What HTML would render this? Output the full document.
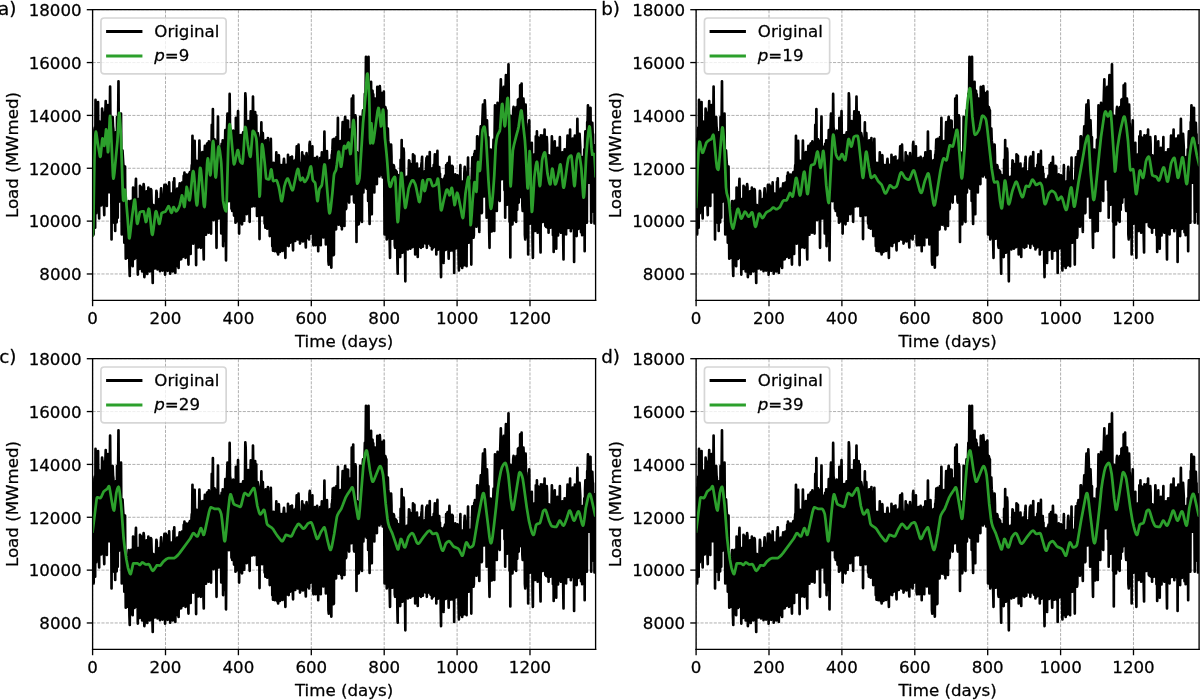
<!DOCTYPE html>
<html><head><meta charset="utf-8"><title>Figure</title>
<style>html,body{margin:0;padding:0;background:#fff;overflow:hidden}svg{display:block;font-family:"DejaVu Sans","Liberation Sans",sans-serif}svg text{stroke:#000;stroke-width:0.16px;stroke-linejoin:round}</style></head>
<body>
<svg  width="1200" height="700" viewBox="0 0 720 420">
 <defs>
  <style type="text/css">*{stroke-linejoin: round; stroke-linecap: butt}</style>
 </defs>
 <g id="figure_1">
  <g id="patch_1">
   <path d="M 0 420 L 720 420 L 720 0 L 0 0 z" style="fill: #ffffff"/>
  </g>
  <g id="axes_1">
   <g id="patch_2">
    <path d="M 55.56 180.24 L 357.36 180.24 L 357.36 5.82 L 55.56 5.82 z" style="fill: #ffffff"/>
   </g>
   <g id="FillBetweenPolyCollection_1">
    <g clip-path="url(#p01cf69598c)">
     <path d="M 55.56 -332.77 L 55.56 -287.35 L 56.43 -296.02 L 57.31 -299.18 L 58.18 -299.18 L 59.06 -300.75 L 59.93 -300.75 L 60.81 -301.71 L 61.68 -301.71 L 62.56 -301.71 L 63.43 -308.6 L 64.31 -308.6 L 65.18 -308.6 L 66.06 -308.6 L 66.93 -308.6 L 67.81 -290.25 L 68.68 -290.57 L 69.56 -293.38 L 70.43 -303.04 L 71.31 -303.04 L 72.18 -303.04 L 73.06 -303.04 L 73.93 -283.33 L 74.81 -283.33 L 75.68 -278.36 L 76.55 -269.2 L 77.43 -269.2 L 78.3 -269.2 L 79.18 -268.64 L 80.05 -269.11 L 80.93 -269.11 L 81.8 -269.11 L 82.68 -269.11 L 83.55 -262.59 L 84.43 -262.59 L 85.3 -262.59 L 86.18 -261.06 L 87.05 -261.06 L 87.93 -261.1 L 88.8 -261.1 L 89.68 -262.37 L 90.55 -262.37 L 91.43 -262.85 L 92.3 -262.85 L 93.18 -262.85 L 94.05 -262.85 L 94.93 -262.85 L 95.8 -262.32 L 96.67 -262.32 L 97.55 -261.63 L 98.42 -261.63 L 99.3 -261.63 L 100.17 -261.47 L 101.05 -261.47 L 101.92 -261.47 L 102.8 -261.47 L 103.67 -261.13 L 104.55 -264.09 L 105.42 -264.09 L 106.3 -264.09 L 107.17 -268.33 L 108.05 -269.85 L 108.92 -269.85 L 109.8 -269.85 L 110.67 -271.55 L 111.55 -271.55 L 112.42 -271.63 L 113.3 -271.63 L 114.17 -277.73 L 115.05 -277.73 L 115.92 -277.73 L 116.79 -277.73 L 117.67 -277.73 L 118.54 -275.56 L 119.42 -275.56 L 120.29 -276.51 L 121.17 -276.51 L 122.04 -283.12 L 122.92 -284.33 L 123.79 -284.33 L 124.67 -284.33 L 125.54 -284.33 L 126.42 -291.9 L 127.29 -291.9 L 128.17 -293.22 L 129.04 -293.22 L 129.92 -293.22 L 130.79 -292.9 L 131.67 -292.9 L 132.54 -292.9 L 133.42 -292.9 L 134.29 -283.91 L 135.17 -303.21 L 136.04 -303.21 L 136.91 -303.21 L 137.79 -303.21 L 138.66 -303.21 L 139.54 -303.21 L 140.41 -297.41 L 141.29 -294.6 L 142.16 -291.12 L 143.04 -291.12 L 143.91 -291.12 L 144.79 -291.58 L 145.66 -291.58 L 146.54 -295.49 L 147.41 -296.68 L 148.29 -296.68 L 149.16 -300.1 L 150.04 -300.1 L 150.91 -300.19 L 151.79 -300.19 L 152.66 -300.19 L 153.54 -300.19 L 154.41 -300.19 L 155.29 -294.87 L 156.16 -294.87 L 157.03 -294.87 L 157.91 -294.87 L 158.78 -294.87 L 159.66 -289.8 L 160.53 -287.35 L 161.41 -286.76 L 162.28 -286.76 L 163.16 -282.32 L 164.03 -282.32 L 164.91 -273.58 L 165.78 -273.25 L 166.66 -273.25 L 167.53 -273.4 L 168.41 -273.4 L 169.28 -275.15 L 170.16 -275.15 L 171.03 -276.64 L 171.91 -276.64 L 172.78 -278.35 L 173.66 -279.21 L 174.53 -279.21 L 175.41 -279.41 L 176.28 -279.41 L 177.15 -280.25 L 178.03 -280.25 L 178.9 -280.25 L 179.78 -280.25 L 180.65 -280.25 L 181.53 -279.51 L 182.4 -279.51 L 183.28 -281.21 L 184.15 -281.21 L 185.03 -283.7 L 185.9 -283.7 L 186.78 -283.7 L 187.65 -283.7 L 188.53 -283.7 L 189.4 -276.87 L 190.28 -276.87 L 191.15 -276.87 L 192.03 -281.49 L 192.9 -281.49 L 193.78 -281.49 L 194.65 -281.49 L 195.53 -281.49 L 196.4 -277.3 L 197.27 -277.3 L 198.15 -270.87 L 199.02 -270.87 L 199.9 -286.35 L 200.77 -286.35 L 201.65 -289.11 L 202.52 -289.11 L 203.4 -289.11 L 204.27 -289.11 L 205.15 -289.11 L 206.02 -298.41 L 206.9 -299.27 L 207.77 -303.11 L 208.65 -303.11 L 209.52 -307.43 L 210.4 -307.43 L 211.27 -307.43 L 212.15 -307.43 L 213.02 -307.43 L 213.9 -302.43 L 214.77 -292.22 L 215.65 -292.22 L 216.52 -308.47 L 217.39 -311.39 L 218.27 -311.39 L 219.14 -311.39 L 220.02 -311.39 L 220.89 -310.77 L 221.77 -303.44 L 222.64 -308.47 L 223.52 -308.47 L 224.39 -313.49 L 225.27 -313.49 L 226.14 -318.1 L 227.02 -318.92 L 227.89 -318.92 L 228.77 -318.92 L 229.64 -318.92 L 230.52 -317.51 L 231.39 -317.51 L 232.27 -283.33 L 233.14 -281.48 L 234.02 -281.48 L 234.89 -280.75 L 235.77 -280.75 L 236.64 -280.75 L 237.51 -280.75 L 238.39 -275.29 L 239.26 -269.9 L 240.14 -272.3 L 241.01 -275.08 L 241.89 -275.08 L 242.76 -275.08 L 243.64 -275.08 L 244.51 -274.78 L 245.39 -274.78 L 246.26 -275.7 L 247.14 -275.7 L 248.01 -275.7 L 248.89 -275.7 L 249.76 -275.7 L 250.64 -275.78 L 251.51 -275.78 L 252.39 -275.91 L 253.26 -277.87 L 254.14 -277.87 L 255.01 -277.87 L 255.89 -277.87 L 256.76 -277.87 L 257.63 -277.78 L 258.51 -277.78 L 259.38 -276.62 L 260.26 -275.68 L 261.13 -275.68 L 262.01 -275.68 L 262.88 -274.2 L 263.76 -274.2 L 264.63 -274.2 L 265.51 -274.05 L 266.38 -274.05 L 267.26 -276.42 L 268.13 -276.42 L 269.01 -276.42 L 269.88 -276.42 L 270.76 -273.61 L 271.63 -273.61 L 272.51 -274.94 L 273.38 -274.94 L 274.26 -274.94 L 275.13 -274.94 L 276.01 -270.6 L 276.88 -264.7 L 277.75 -264.7 L 278.63 -264.7 L 279.5 -278.34 L 280.38 -278.34 L 281.25 -278.34 L 282.13 -281.32 L 283 -281.32 L 283.88 -287.93 L 284.75 -287.93 L 285.63 -290.82 L 286.5 -290.82 L 287.38 -296.13 L 288.25 -296.4 L 289.13 -306.1 L 290 -306.1 L 290.88 -306.1 L 291.75 -306.1 L 292.63 -306.1 L 293.5 -293.38 L 294.38 -286 L 295.25 -285.34 L 296.13 -297.41 L 297 -297.41 L 297.87 -304.12 L 298.75 -304.12 L 299.62 -316.39 L 300.5 -316.39 L 301.37 -316.39 L 302.25 -316.39 L 303.12 -316.39 L 304 -301.1 L 304.87 -301.1 L 305.75 -301.1 L 306.62 -290.88 L 307.5 -291.79 L 308.37 -291.79 L 309.25 -298.05 L 310.12 -302.43 L 311 -305.55 L 311.87 -305.55 L 312.75 -305.55 L 313.62 -305.55 L 314.5 -297.41 L 315.37 -297.41 L 316.25 -289.76 L 317.12 -289.76 L 317.99 -289.76 L 318.87 -289.76 L 319.74 -289.76 L 320.62 -285.34 L 321.49 -285.34 L 322.37 -285.34 L 323.24 -285.34 L 324.12 -290.83 L 324.99 -290.83 L 325.87 -290.83 L 326.74 -290.83 L 327.62 -290.83 L 328.49 -287.85 L 329.37 -287.85 L 330.24 -287.31 L 331.12 -287.31 L 331.99 -287.31 L 332.87 -282.81 L 333.74 -282.65 L 334.62 -284.9 L 335.49 -284.9 L 336.37 -284.9 L 337.24 -284.9 L 338.11 -284.34 L 338.99 -287.19 L 339.86 -287.19 L 340.74 -287.19 L 341.61 -287.19 L 342.49 -287.19 L 343.36 -286.83 L 344.24 -286.83 L 345.11 -286.83 L 345.99 -286.69 L 346.86 -286.69 L 347.74 -286.69 L 348.61 -286.69 L 349.49 -284.66 L 350.36 -290.37 L 351.24 -290.37 L 352.11 -314.33 L 352.99 -314.33 L 353.86 -314.33 L 354.74 -314.33 L 355.61 -296.76 L 356.49 -296.76 L 357.36 -296.76 L 357.36 -327.32 L 357.36 -327.32 L 356.49 -327.32 L 355.61 -328.99 L 354.74 -335.74 L 353.86 -342.29 L 352.99 -337.31 L 352.11 -337.31 L 351.24 -321.88 L 350.36 -321.88 L 349.49 -321.88 L 348.61 -321.88 L 347.74 -321.88 L 346.86 -334.62 L 345.99 -334.62 L 345.11 -332.91 L 344.24 -332.91 L 343.36 -332.91 L 342.49 -332.91 L 341.61 -332.91 L 340.74 -326.38 L 339.86 -326.38 L 338.99 -324.69 L 338.11 -324.69 L 337.24 -324.69 L 336.37 -324.69 L 335.49 -324.69 L 334.62 -327.28 L 333.74 -327.28 L 332.87 -327.28 L 331.99 -329.08 L 331.12 -322.29 L 330.24 -322.29 L 329.37 -322.29 L 328.49 -322.86 L 327.62 -322.86 L 326.74 -333.74 L 325.87 -334.87 L 324.99 -333.43 L 324.12 -333.43 L 323.24 -333.43 L 322.37 -333.43 L 321.49 -323.23 L 320.62 -323.23 L 319.74 -323.23 L 318.87 -323.23 L 317.99 -330.39 L 317.12 -330.39 L 316.25 -336.81 L 315.37 -336.81 L 314.5 -353.26 L 313.62 -353.26 L 312.75 -356.73 L 311.87 -356.36 L 311 -351.8 L 310.12 -350.8 L 309.25 -350.8 L 308.37 -346.5 L 307.5 -346.5 L 306.62 -346.5 L 305.75 -346.5 L 304.87 -346.5 L 304 -363.87 L 303.12 -363.87 L 302.25 -362.31 L 301.37 -362.31 L 300.5 -353.34 L 299.62 -353.34 L 298.75 -352.85 L 297.87 -352.85 L 297 -332.28 L 296.13 -325.02 L 295.25 -325.02 L 294.38 -325.02 L 293.5 -326.24 L 292.63 -326.24 L 291.75 -333.74 L 290.88 -343.8 L 290 -340.28 L 289.13 -335.2 L 288.25 -331.93 L 287.38 -331.93 L 286.5 -325.42 L 285.63 -323.69 L 284.75 -321.68 L 283.88 -308.94 L 283 -307.7 L 282.13 -307.7 L 281.25 -307.7 L 280.38 -307.7 L 279.5 -312.59 L 278.63 -307.12 L 277.75 -307.12 L 276.88 -307.12 L 276.01 -307.12 L 275.13 -308.87 L 274.26 -308.87 L 273.38 -310.82 L 272.51 -310.82 L 271.63 -311.46 L 270.76 -316.03 L 269.88 -316.51 L 269.01 -316.51 L 268.13 -310.7 L 267.26 -308.85 L 266.38 -308.48 L 265.51 -308.48 L 264.63 -308.48 L 263.76 -308.48 L 262.88 -311.91 L 262.01 -315.84 L 261.13 -316.99 L 260.26 -314.93 L 259.38 -314.93 L 258.51 -314.93 L 257.63 -314.93 L 256.76 -321.19 L 255.89 -313.19 L 255.01 -313.19 L 254.14 -313.19 L 253.26 -313.19 L 252.39 -314.93 L 251.51 -314.93 L 250.64 -314.93 L 249.76 -314.93 L 248.89 -317.81 L 248.01 -317.64 L 247.14 -317.64 L 246.26 -317.64 L 245.39 -310 L 244.51 -308.34 L 243.64 -308.34 L 242.76 -308.34 L 241.89 -308.34 L 241.01 -311.03 L 240.14 -311.03 L 239.26 -311.03 L 238.39 -311.03 L 237.51 -311.03 L 236.64 -313.8 L 235.77 -313.86 L 234.89 -317.04 L 234.02 -322.05 L 233.14 -329.35 L 232.27 -330.22 L 231.39 -338.85 L 230.52 -350.83 L 229.64 -351.81 L 228.77 -360.4 L 227.89 -360.4 L 227.02 -356.87 L 226.14 -356.87 L 225.27 -356.87 L 224.39 -356.87 L 223.52 -356.87 L 222.64 -361.57 L 221.77 -366.92 L 220.89 -366.92 L 220.02 -359.75 L 219.14 -349.8 L 218.27 -346.01 L 217.39 -346.01 L 216.52 -324.06 L 215.65 -324.06 L 214.77 -324.06 L 213.9 -324.06 L 213.02 -324.79 L 212.15 -346.81 L 211.27 -338.48 L 210.4 -338.48 L 209.52 -338.48 L 208.65 -338.48 L 207.77 -343.49 L 206.9 -342.79 L 206.02 -331.41 L 205.15 -331.41 L 204.27 -331.41 L 203.4 -331.41 L 202.52 -331.41 L 201.65 -332.74 L 200.77 -332.3 L 199.9 -323.04 L 199.02 -319.98 L 198.15 -319.68 L 197.27 -319.68 L 196.4 -319.68 L 195.53 -319.68 L 194.65 -324.69 L 193.78 -321.2 L 192.9 -321.2 L 192.03 -317.92 L 191.15 -317.92 L 190.28 -317.92 L 189.4 -321.17 L 188.53 -321.17 L 187.65 -321.17 L 186.78 -321.17 L 185.9 -321.07 L 185.03 -321.07 L 184.15 -320.06 L 183.28 -320.06 L 182.4 -320.06 L 181.53 -318.43 L 180.65 -318.43 L 179.78 -318.43 L 178.9 -318.43 L 178.03 -319.64 L 177.15 -319.64 L 176.28 -319.64 L 175.41 -319.64 L 174.53 -319.64 L 173.66 -321.68 L 172.78 -317.08 L 171.91 -317.08 L 171.03 -317.08 L 170.16 -317.02 L 169.28 -317.02 L 168.41 -317.02 L 167.53 -317.02 L 166.66 -317.02 L 165.78 -318.33 L 164.91 -318.33 L 164.03 -318.33 L 163.16 -318.33 L 162.28 -318.33 L 161.41 -330.5 L 160.53 -330.5 L 159.66 -329.72 L 158.78 -329.72 L 157.91 -329.72 L 157.03 -329.72 L 156.16 -331.97 L 155.29 -331.97 L 154.41 -331.97 L 153.54 -336.18 L 152.66 -346.81 L 151.79 -348.82 L 150.91 -343.36 L 150.04 -343.36 L 149.16 -343.36 L 148.29 -343.36 L 147.41 -336.69 L 146.54 -335.02 L 145.66 -335.01 L 144.79 -334.77 L 143.91 -334.77 L 143.04 -334.77 L 142.16 -334.77 L 141.29 -337.69 L 140.41 -337.2 L 139.54 -337.2 L 138.66 -337.2 L 137.79 -337.2 L 136.91 -337.91 L 136.04 -337.91 L 135.17 -331.81 L 134.29 -329.72 L 133.42 -328.11 L 132.54 -328.11 L 131.67 -328.11 L 130.79 -328.11 L 129.92 -331.43 L 129.04 -331.43 L 128.17 -331.81 L 127.29 -328.08 L 126.42 -328.08 L 125.54 -328.08 L 124.67 -328.08 L 123.79 -328.58 L 122.92 -324.77 L 122.04 -319.92 L 121.17 -319.92 L 120.29 -319.6 L 119.42 -319.6 L 118.54 -319.6 L 117.67 -319.6 L 116.79 -319.6 L 115.92 -316.94 L 115.05 -312.74 L 114.17 -311.31 L 113.3 -311.31 L 112.42 -311.31 L 111.55 -311.31 L 110.67 -306.5 L 109.8 -305.98 L 108.92 -305.98 L 108.05 -302.95 L 107.17 -302.95 L 106.3 -300.73 L 105.42 -300.73 L 104.55 -299.88 L 103.67 -299.88 L 102.8 -299.88 L 101.92 -299.88 L 101.05 -299.88 L 100.17 -304.26 L 99.3 -298.32 L 98.42 -298.32 L 97.55 -298.32 L 96.67 -296.5 L 95.8 -296.5 L 94.93 -296.5 L 94.05 -292.94 L 93.18 -292.94 L 92.3 -292.94 L 91.43 -292.94 L 90.55 -292.94 L 89.68 -301.28 L 88.8 -301.28 L 87.93 -301.28 L 87.05 -301.28 L 86.18 -301.28 L 85.3 -302.98 L 84.43 -296.62 L 83.55 -296.62 L 82.68 -296.62 L 81.8 -296.62 L 80.93 -296.62 L 80.05 -295.51 L 79.18 -295.31 L 78.3 -295.31 L 77.43 -290.66 L 76.55 -290.66 L 75.68 -290.66 L 74.81 -290.66 L 73.93 -316.11 L 73.06 -318.35 L 72.18 -325.83 L 71.31 -345.81 L 70.43 -336.81 L 69.56 -336.81 L 68.68 -336.81 L 67.81 -336.81 L 66.93 -340.23 L 66.06 -345.81 L 65.18 -352.96 L 64.31 -352.96 L 63.43 -348.43 L 62.56 -348.43 L 61.68 -343 L 60.81 -343 L 59.93 -343 L 59.06 -343 L 58.18 -343 L 57.31 -332.77 L 56.43 -332.77 L 55.56 -332.77 z" transform="translate(0 420)"/>
    </g>
   </g>
   <g id="matplotlib.axis_1">
    <g id="xtick_1">
     <g id="line2d_1">
      <path d="M 55.56 180.24 L 55.56 5.82 " clip-path="url(#p01cf69598c)" style="fill: none; stroke-dasharray: 1.85,0.8; stroke-dashoffset: 0; stroke: #808080; stroke-opacity: 0.75; stroke-width: 0.5"/>
     </g>
     <g id="line2d_2">
      <g>
       <path d="M 0 0 L 0 3.5" transform="translate(55.56 180.24)" style="stroke: #000000; stroke-width: 0.8"/>
      </g>
     </g>
     <g id="text_1">
      <text style="font-size: 10px; font-family: 'DejaVu Sans', 'Liberation Sans', sans-serif; text-anchor: middle" x="55.56" y="194.488437" transform="rotate(-0 55.56 194.488437)">0</text>
     </g>
    </g>
    <g id="xtick_2">
     <g id="line2d_3">
      <path d="M 99.3 180.24 L 99.3 5.82 " clip-path="url(#p01cf69598c)" style="fill: none; stroke-dasharray: 1.85,0.8; stroke-dashoffset: 0; stroke: #808080; stroke-opacity: 0.75; stroke-width: 0.5"/>
     </g>
     <g id="line2d_4">
      <g>
       <path d="M 0 0 L 0 3.5" transform="translate(99.29913 180.24)" style="stroke: #000000; stroke-width: 0.8"/>
      </g>
     </g>
     <g id="text_2">
      <text style="font-size: 10px; font-family: 'DejaVu Sans', 'Liberation Sans', sans-serif; text-anchor: middle" x="99.29913" y="194.488437" transform="rotate(-0 99.29913 194.488437)">200</text>
     </g>
    </g>
    <g id="xtick_3">
     <g id="line2d_5">
      <path d="M 143.04 180.24 L 143.04 5.82 " clip-path="url(#p01cf69598c)" style="fill: none; stroke-dasharray: 1.85,0.8; stroke-dashoffset: 0; stroke: #808080; stroke-opacity: 0.75; stroke-width: 0.5"/>
     </g>
     <g id="line2d_6">
      <g>
       <path d="M 0 0 L 0 3.5" transform="translate(143.038261 180.24)" style="stroke: #000000; stroke-width: 0.8"/>
      </g>
     </g>
     <g id="text_3">
      <text style="font-size: 10px; font-family: 'DejaVu Sans', 'Liberation Sans', sans-serif; text-anchor: middle" x="143.038261" y="194.488437" transform="rotate(-0 143.038261 194.488437)">400</text>
     </g>
    </g>
    <g id="xtick_4">
     <g id="line2d_7">
      <path d="M 186.78 180.24 L 186.78 5.82 " clip-path="url(#p01cf69598c)" style="fill: none; stroke-dasharray: 1.85,0.8; stroke-dashoffset: 0; stroke: #808080; stroke-opacity: 0.75; stroke-width: 0.5"/>
     </g>
     <g id="line2d_8">
      <g>
       <path d="M 0 0 L 0 3.5" transform="translate(186.777391 180.24)" style="stroke: #000000; stroke-width: 0.8"/>
      </g>
     </g>
     <g id="text_4">
      <text style="font-size: 10px; font-family: 'DejaVu Sans', 'Liberation Sans', sans-serif; text-anchor: middle" x="186.777391" y="194.488437" transform="rotate(-0 186.777391 194.488437)">600</text>
     </g>
    </g>
    <g id="xtick_5">
     <g id="line2d_9">
      <path d="M 230.52 180.24 L 230.52 5.82 " clip-path="url(#p01cf69598c)" style="fill: none; stroke-dasharray: 1.85,0.8; stroke-dashoffset: 0; stroke: #808080; stroke-opacity: 0.75; stroke-width: 0.5"/>
     </g>
     <g id="line2d_10">
      <g>
       <path d="M 0 0 L 0 3.5" transform="translate(230.516522 180.24)" style="stroke: #000000; stroke-width: 0.8"/>
      </g>
     </g>
     <g id="text_5">
      <text style="font-size: 10px; font-family: 'DejaVu Sans', 'Liberation Sans', sans-serif; text-anchor: middle" x="230.516522" y="194.488437" transform="rotate(-0 230.516522 194.488437)">800</text>
     </g>
    </g>
    <g id="xtick_6">
     <g id="line2d_11">
      <path d="M 274.26 180.24 L 274.26 5.82 " clip-path="url(#p01cf69598c)" style="fill: none; stroke-dasharray: 1.85,0.8; stroke-dashoffset: 0; stroke: #808080; stroke-opacity: 0.75; stroke-width: 0.5"/>
     </g>
     <g id="line2d_12">
      <g>
       <path d="M 0 0 L 0 3.5" transform="translate(274.255652 180.24)" style="stroke: #000000; stroke-width: 0.8"/>
      </g>
     </g>
     <g id="text_6">
      <text style="font-size: 10px; font-family: 'DejaVu Sans', 'Liberation Sans', sans-serif; text-anchor: middle" x="274.255652" y="194.488437" transform="rotate(-0 274.255652 194.488437)">1000</text>
     </g>
    </g>
    <g id="xtick_7">
     <g id="line2d_13">
      <path d="M 317.99 180.24 L 317.99 5.82 " clip-path="url(#p01cf69598c)" style="fill: none; stroke-dasharray: 1.85,0.8; stroke-dashoffset: 0; stroke: #808080; stroke-opacity: 0.75; stroke-width: 0.5"/>
     </g>
     <g id="line2d_14">
      <g>
       <path d="M 0 0 L 0 3.5" transform="translate(317.994783 180.24)" style="stroke: #000000; stroke-width: 0.8"/>
      </g>
     </g>
     <g id="text_7">
      <text style="font-size: 10px; font-family: 'DejaVu Sans', 'Liberation Sans', sans-serif; text-anchor: middle" x="317.994783" y="194.488437" transform="rotate(-0 317.994783 194.488437)">1200</text>
     </g>
    </g>
    <g id="text_8">
     <text style="font-size: 10px; font-family: 'DejaVu Sans', 'Liberation Sans', sans-serif; text-anchor: middle" x="206.46" y="208.266562" transform="rotate(-0 206.46 208.266562)">Time (days)</text>
    </g>
   </g>
   <g id="matplotlib.axis_2">
    <g id="ytick_1">
     <g id="line2d_15">
      <path d="M 55.56 164.38 L 357.36 164.38 " clip-path="url(#p01cf69598c)" style="fill: none; stroke-dasharray: 1.85,0.8; stroke-dashoffset: 0; stroke: #808080; stroke-opacity: 0.75; stroke-width: 0.5"/>
     </g>
     <g id="line2d_16">
      <g>
       <path d="M 0 0 L -3.5 0" transform="translate(55.56 164.383636)" style="stroke: #000000; stroke-width: 0.8"/>
      </g>
     </g>
     <g id="text_9">
      <text style="font-size: 10px; font-family: 'DejaVu Sans', 'Liberation Sans', sans-serif; text-anchor: end" x="49.01" y="168.182855" transform="rotate(-0 49.01 168.182855)">8000</text>
     </g>
    </g>
    <g id="ytick_2">
     <g id="line2d_17">
      <path d="M 55.56 132.67 L 357.36 132.67 " clip-path="url(#p01cf69598c)" style="fill: none; stroke-dasharray: 1.85,0.8; stroke-dashoffset: 0; stroke: #808080; stroke-opacity: 0.75; stroke-width: 0.5"/>
     </g>
     <g id="line2d_18">
      <g>
       <path d="M 0 0 L -3.5 0" transform="translate(55.56 132.670909)" style="stroke: #000000; stroke-width: 0.8"/>
      </g>
     </g>
     <g id="text_10">
      <text style="font-size: 10px; font-family: 'DejaVu Sans', 'Liberation Sans', sans-serif; text-anchor: end" x="49.01" y="136.470128" transform="rotate(-0 49.01 136.470128)">10000</text>
     </g>
    </g>
    <g id="ytick_3">
     <g id="line2d_19">
      <path d="M 55.56 100.96 L 357.36 100.96 " clip-path="url(#p01cf69598c)" style="fill: none; stroke-dasharray: 1.85,0.8; stroke-dashoffset: 0; stroke: #808080; stroke-opacity: 0.75; stroke-width: 0.5"/>
     </g>
     <g id="line2d_20">
      <g>
       <path d="M 0 0 L -3.5 0" transform="translate(55.56 100.958182)" style="stroke: #000000; stroke-width: 0.8"/>
      </g>
     </g>
     <g id="text_11">
      <text style="font-size: 10px; font-family: 'DejaVu Sans', 'Liberation Sans', sans-serif; text-anchor: end" x="49.01" y="104.757401" transform="rotate(-0 49.01 104.757401)">12000</text>
     </g>
    </g>
    <g id="ytick_4">
     <g id="line2d_21">
      <path d="M 55.56 69.25 L 357.36 69.25 " clip-path="url(#p01cf69598c)" style="fill: none; stroke-dasharray: 1.85,0.8; stroke-dashoffset: 0; stroke: #808080; stroke-opacity: 0.75; stroke-width: 0.5"/>
     </g>
     <g id="line2d_22">
      <g>
       <path d="M 0 0 L -3.5 0" transform="translate(55.56 69.245455)" style="stroke: #000000; stroke-width: 0.8"/>
      </g>
     </g>
     <g id="text_12">
      <text style="font-size: 10px; font-family: 'DejaVu Sans', 'Liberation Sans', sans-serif; text-anchor: end" x="49.01" y="73.044673" transform="rotate(-0 49.01 73.044673)">14000</text>
     </g>
    </g>
    <g id="ytick_5">
     <g id="line2d_23">
      <path d="M 55.56 37.53 L 357.36 37.53 " clip-path="url(#p01cf69598c)" style="fill: none; stroke-dasharray: 1.85,0.8; stroke-dashoffset: 0; stroke: #808080; stroke-opacity: 0.75; stroke-width: 0.5"/>
     </g>
     <g id="line2d_24">
      <g>
       <path d="M 0 0 L -3.5 0" transform="translate(55.56 37.532727)" style="stroke: #000000; stroke-width: 0.8"/>
      </g>
     </g>
     <g id="text_13">
      <text style="font-size: 10px; font-family: 'DejaVu Sans', 'Liberation Sans', sans-serif; text-anchor: end" x="49.01" y="41.331946" transform="rotate(-0 49.01 41.331946)">16000</text>
     </g>
    </g>
    <g id="ytick_6">
     <g id="line2d_25">
      <path d="M 55.56 5.82 L 357.36 5.82 " clip-path="url(#p01cf69598c)" style="fill: none; stroke-dasharray: 1.85,0.8; stroke-dashoffset: 0; stroke: #808080; stroke-opacity: 0.75; stroke-width: 0.5"/>
     </g>
     <g id="line2d_26">
      <g>
       <path d="M 0 0 L -3.5 0" transform="translate(55.56 5.82)" style="stroke: #000000; stroke-width: 0.8"/>
      </g>
     </g>
     <g id="text_14">
      <text style="font-size: 10px; font-family: 'DejaVu Sans', 'Liberation Sans', sans-serif; text-anchor: end" x="49.01" y="9.619219" transform="rotate(-0 49.01 9.619219)">18000</text>
     </g>
    </g>
    <g id="text_15">
     <text style="font-size: 10px; font-family: 'DejaVu Sans', 'Liberation Sans', sans-serif; text-anchor: middle" x="10.667812" y="93.03" transform="rotate(-90 10.667812 93.03)">Load (MWmed)</text>
    </g>
   </g>
   <g id="line2d_27">
    <path d="M 55.56 83.27 L 55.78 84.02 L 56.22 140.63 L 56.43 89.4 L 56.65 77.88 L 56.87 76.62 L 57.09 136.61 L 57.31 59.97 L 57.53 105.74 L 57.75 127.95 L 57.97 75.43 L 58.18 62.28 L 58.4 69.13 L 58.62 67.29 L 58.84 61.18 L 59.28 124.79 L 59.5 131.08 L 59.72 73.53 L 59.93 73.04 L 60.37 76.32 L 60.81 123.22 L 61.03 82.43 L 61.25 65.2 L 61.46 67.59 L 61.68 76.9 L 61.9 67.6 L 62.34 122.25 L 62.56 129.07 L 62.78 74.33 L 63 73.68 L 63.43 60.68 L 63.87 122.86 L 64.09 123.54 L 64.31 75.4 L 64.53 73.96 L 64.75 63.07 L 64.96 74.77 L 65.4 115.37 L 65.62 78.3 L 65.84 74.91 L 66.06 51.93 L 66.28 75.97 L 66.49 76.16 L 66.71 100 L 66.93 143.65 L 67.15 81.76 L 67.59 70.23 L 67.81 75.8 L 68.03 77.69 L 68.46 133.71 L 68.68 87.26 L 68.9 84.12 L 69.12 138.62 L 69.34 82.39 L 69.56 79.23 L 69.99 133.39 L 70.21 70.23 L 70.43 73.02 L 70.65 130.58 L 70.87 72.56 L 71.09 48.81 L 71.52 120.93 L 71.74 78.38 L 72.18 72.14 L 72.4 75.12 L 72.62 68.22 L 73.06 140.63 L 73.27 91.98 L 73.49 90.21 L 73.93 97.69 L 74.15 100.22 L 74.59 145.6 L 75.02 99.93 L 75.46 155.21 L 75.68 125.52 L 76.12 154.77 L 76.34 130.18 L 76.55 125.46 L 76.77 125.38 L 76.99 124.3 L 77.21 120.72 L 77.65 159.82 L 77.87 165.57 L 78.09 125.2 L 78.3 123.39 L 78.52 124.08 L 78.74 120.53 L 79.18 159.18 L 79.4 126.92 L 79.62 159.74 L 79.84 112.48 L 80.05 115.43 L 80.27 115.65 L 80.71 155.32 L 80.93 123.81 L 81.58 107.25 L 82.24 154.86 L 82.46 123.99 L 82.68 164.77 L 82.9 119.41 L 83.12 121.97 L 83.33 121.57 L 83.77 161.37 L 83.99 111.48 L 84.21 115.66 L 84.43 112.03 L 84.65 119.34 L 84.87 116.4 L 85.3 162.91 L 85.52 124.21 L 85.96 113.05 L 86.18 110.47 L 86.4 112.33 L 86.61 166.27 L 86.83 164.08 L 87.05 129.2 L 87.49 122.12 L 87.71 122.68 L 87.93 114.76 L 88.36 164.37 L 88.58 126.97 L 88.8 122.02 L 89.02 112.48 L 89.24 122.56 L 89.46 120.68 L 89.9 162.86 L 90.11 125.47 L 90.55 113.49 L 90.77 114.02 L 90.99 121.59 L 91.43 161.59 L 91.64 169.79 L 91.86 123.86 L 92.08 123.09 L 92.3 126.81 L 92.52 124.3 L 92.96 161.11 L 93.18 126.29 L 93.39 125.09 L 93.61 122.75 L 93.83 114.49 L 94.05 115.83 L 94.49 161.64 L 94.71 126.22 L 94.93 121.46 L 95.14 121.56 L 95.36 121.22 L 95.58 119.53 L 96.02 162.75 L 96.24 124.98 L 96.46 116.44 L 96.67 112.98 L 96.89 116.56 L 97.11 117.72 L 97.55 162.34 L 97.77 121.89 L 97.99 118.79 L 98.21 119.38 L 98.42 118.37 L 98.64 110.97 L 99.08 164.77 L 99.3 122.96 L 99.52 110.96 L 99.74 116.45 L 99.96 116.93 L 100.17 111.78 L 100.61 162.49 L 100.83 122.73 L 101.05 116.56 L 101.27 119.21 L 101.49 109.47 L 101.7 118.78 L 102.14 164.26 L 102.36 122.65 L 102.8 116.16 L 103.02 117.27 L 103.24 120.45 L 103.67 162.84 L 103.89 123.47 L 104.11 109.06 L 104.33 118.73 L 104.55 106.95 L 104.77 118.16 L 105.2 163.76 L 105.42 121.3 L 105.64 116.53 L 105.86 115.31 L 106.08 116.61 L 106.3 113.09 L 106.73 159.87 L 106.95 118.19 L 107.17 160.74 L 107.39 114.87 L 107.83 110.05 L 108.27 155.64 L 108.48 116.18 L 108.7 155.52 L 108.92 110.22 L 109.14 109.54 L 109.36 112.37 L 109.8 154.11 L 110.02 114.51 L 110.23 105.44 L 110.45 111.34 L 110.67 103.57 L 110.89 109.12 L 111.33 154.72 L 111.55 113.09 L 111.76 105.39 L 111.98 104.73 L 112.2 106.87 L 112.42 105.9 L 112.86 152.42 L 113.08 158.73 L 113.3 104.93 L 113.51 104.27 L 113.73 104.21 L 113.95 103.29 L 114.39 152.34 L 114.61 107.49 L 115.05 99.09 L 115.26 100.31 L 115.48 81.49 L 115.7 126.79 L 115.92 146.23 L 116.14 103.61 L 116.36 84.61 L 116.58 98.52 L 116.79 84.47 L 117.01 97.31 L 117.67 159.03 L 117.89 98.02 L 118.11 96.44 L 118.33 99.71 L 118.54 99.01 L 118.98 148.4 L 119.2 102.08 L 119.42 97.18 L 119.64 84.3 L 119.86 96.12 L 120.08 99.58 L 120.51 148.69 L 120.73 105.92 L 120.95 98.07 L 121.17 99.25 L 121.39 91.27 L 121.61 99.34 L 122.04 147.45 L 122.26 155.72 L 122.48 94.33 L 122.7 94 L 122.92 87.46 L 123.14 95.48 L 123.57 140.85 L 123.79 95.77 L 124.23 86.32 L 124.45 85.97 L 124.67 90.8 L 125.11 139.63 L 125.32 84.81 L 125.54 87.96 L 125.76 88.29 L 125.98 88.11 L 126.2 88.09 L 126.64 140.13 L 126.85 93.51 L 127.07 74.86 L 127.29 88.23 L 127.51 86.04 L 127.73 65.4 L 128.17 132.06 L 128.39 92.78 L 128.6 83.42 L 128.82 87.31 L 129.04 84.22 L 129.26 84.6 L 129.92 148.68 L 130.14 88.64 L 130.57 87.33 L 130.79 69.93 L 131.23 131.06 L 131.45 93.55 L 131.67 87.92 L 131.88 89.65 L 132.1 90.19 L 132.32 91.26 L 132.76 140.05 L 132.98 86.32 L 133.2 94.19 L 133.42 92.35 L 133.63 84.23 L 133.85 147.67 L 134.07 119.81 L 134.29 144.58 L 134.51 98.3 L 134.73 90.67 L 134.95 87.72 L 135.17 78.12 L 135.38 83 L 135.6 156.22 L 135.82 130.16 L 136.04 83.13 L 136.48 68.22 L 136.91 75.04 L 137.35 120.75 L 137.79 56.35 L 138.01 76.35 L 138.45 78.83 L 138.88 125.17 L 139.1 83.49 L 139.32 126.56 L 139.54 81.15 L 139.76 80.05 L 139.98 78.34 L 140.41 129.36 L 140.63 87.89 L 140.85 79.75 L 141.07 83.57 L 141.29 133.6 L 141.51 70.63 L 141.94 132.84 L 142.16 86.89 L 142.38 83.8 L 142.6 82.49 L 142.82 66.71 L 143.26 110.4 L 143.48 140.13 L 143.69 90.26 L 143.91 81.27 L 144.13 84.23 L 144.35 84.38 L 144.57 81.02 L 145.01 134.06 L 145.23 134.6 L 145.44 81.01 L 145.66 81.76 L 145.88 79.35 L 146.1 81.9 L 146.54 132.38 L 146.76 84.62 L 146.97 78.97 L 147.19 55.95 L 147.41 59.13 L 147.63 76.23 L 148.07 128.47 L 148.29 80.82 L 148.51 74.19 L 148.94 72.68 L 149.16 74.63 L 149.6 127.28 L 149.82 133.09 L 150.04 76.74 L 150.26 75.12 L 150.47 66.76 L 150.69 75.7 L 151.13 123.87 L 151.35 80.15 L 151.57 77.01 L 151.79 57.96 L 152 74.23 L 152.22 76.06 L 152.66 123.77 L 152.88 82.07 L 153.1 67.22 L 153.32 76.19 L 153.54 78.34 L 153.75 69.22 L 154.19 129.57 L 154.41 85.51 L 154.63 79.86 L 155.29 84.07 L 155.5 105.73 L 155.72 143.45 L 155.94 90.84 L 156.38 84.12 L 156.6 86.2 L 156.82 73.45 L 157.25 129.1 L 157.47 90.11 L 157.69 79.79 L 157.91 86.31 L 158.13 88.93 L 158.35 89.59 L 158.78 134.16 L 159 93.92 L 159.22 136.61 L 159.44 84.21 L 159.66 92.54 L 159.88 93.09 L 160.32 137.21 L 160.53 98.51 L 160.75 82.87 L 160.97 93.56 L 161.19 97.87 L 161.41 85.54 L 161.85 141.64 L 162.06 101.04 L 162.28 97.76 L 162.5 83.3 L 162.72 97.16 L 162.94 98.57 L 163.38 147.77 L 163.6 105.08 L 163.81 150.39 L 164.03 97.71 L 164.25 100.87 L 164.47 98 L 164.91 150.71 L 165.13 106.89 L 165.35 97.65 L 165.56 101.17 L 165.78 91.34 L 166 101.77 L 166.44 151.43 L 166.66 105.43 L 166.88 152.7 L 167.09 93.82 L 167.31 93.12 L 167.53 99.22 L 167.97 151.22 L 168.19 106.89 L 168.41 101.08 L 168.63 99.02 L 168.84 100.08 L 169.06 99.34 L 169.5 150.56 L 169.72 107.21 L 169.94 100.32 L 170.38 95.36 L 170.59 98.79 L 171.03 148.81 L 171.25 154.71 L 171.47 101.66 L 171.69 100.76 L 171.91 98.95 L 172.12 101.73 L 172.56 147.32 L 172.78 92.85 L 173 100.92 L 173.22 147.67 L 173.44 98.27 L 173.66 99.02 L 174.09 145.61 L 174.31 94.36 L 174.53 98.82 L 174.75 100.8 L 174.97 99.88 L 175.19 93.89 L 175.62 144.76 L 175.84 150.19 L 176.06 100.19 L 176.28 100.25 L 176.5 97.23 L 176.72 96.4 L 177.15 144.55 L 177.37 101.96 L 177.59 96.02 L 177.81 94.24 L 178.03 87.82 L 178.25 92.05 L 178.69 143.71 L 178.9 100.61 L 179.12 86.82 L 179.34 95.49 L 179.56 98.88 L 179.78 97.61 L 180 146.16 L 180.22 144.45 L 180.44 103.96 L 180.65 99.51 L 180.87 101.92 L 181.09 100.94 L 181.31 91.34 L 181.75 144.92 L 181.97 105.16 L 182.18 93.44 L 182.62 101.55 L 182.84 101.04 L 183.28 144.51 L 183.5 148.48 L 183.72 95.98 L 183.93 91.85 L 184.37 97.88 L 184.81 142.76 L 185.03 101.41 L 185.25 94.97 L 185.47 143.65 L 185.68 86.99 L 185.9 85.11 L 186.34 140.26 L 186.56 97.33 L 186.78 94.48 L 187 95.14 L 187.21 92.77 L 187.43 87.82 L 187.87 145.97 L 188.09 147.17 L 188.31 96.51 L 188.75 96.2 L 188.96 94.86 L 189.4 147.09 L 189.62 103.7 L 189.84 100.78 L 190.06 99.8 L 190.28 94.15 L 190.5 98.12 L 190.93 150.69 L 191.15 104.29 L 191.37 100.92 L 191.59 100.3 L 191.81 100.24 L 192.03 94.84 L 192.46 147.17 L 192.68 102.77 L 193.12 91.34 L 193.34 95.95 L 193.56 97.83 L 193.99 142.48 L 194.21 104.42 L 194.43 99.37 L 194.65 78.98 L 194.87 97.82 L 195.09 100.86 L 195.53 146.67 L 195.74 106.67 L 195.96 103.25 L 196.18 90.64 L 196.4 99.15 L 196.62 100.51 L 197.06 156.67 L 197.27 158.73 L 197.49 97.03 L 197.71 96.35 L 197.93 97.64 L 198.15 96.05 L 198.59 156.86 L 198.81 160.54 L 199.02 93 L 199.24 92.43 L 199.46 89.64 L 199.68 83.74 L 200.12 153.1 L 200.34 152.7 L 200.56 83.3 L 200.77 88.25 L 200.99 85.91 L 201.21 89.42 L 201.65 137.62 L 201.87 82.29 L 202.3 86.74 L 202.52 86.91 L 202.74 70.73 L 202.96 114.46 L 203.18 134.86 L 203.4 92.11 L 203.62 87.12 L 203.84 85.97 L 204.05 85.68 L 204.27 84.62 L 204.71 135.62 L 204.93 85.57 L 205.15 137.62 L 205.37 79.88 L 205.59 73.24 L 205.8 75.83 L 206.24 134.36 L 206.46 83.32 L 206.68 135.61 L 206.9 72.34 L 207.12 70.03 L 207.33 76.89 L 207.55 125.55 L 207.77 124.7 L 207.99 84.89 L 208.21 72.42 L 208.43 79.8 L 208.87 72.54 L 209.3 120.85 L 209.52 121.53 L 209.74 84.07 L 209.96 84.65 L 210.18 82.51 L 210.4 77.55 L 210.83 116.53 L 211.05 59.17 L 211.27 66.99 L 211.49 68.12 L 211.71 65.75 L 211.93 57.36 L 212.36 120.47 L 212.58 121.53 L 212.8 71.87 L 213.02 73.3 L 213.24 69.22 L 213.46 70.57 L 213.9 145.16 L 214.11 91.24 L 214.55 93.61 L 214.77 96.59 L 214.99 91.97 L 215.21 134.6 L 215.43 132.97 L 215.65 96.06 L 215.86 90.25 L 216.08 70.03 L 216.3 89.96 L 216.52 73.65 L 216.96 131.75 L 217.18 133.09 L 217.39 75.1 L 217.61 69.14 L 217.83 66.24 L 218.05 115.5 L 218.27 87.13 L 218.49 112.58 L 218.71 64.43 L 218.93 56.29 L 219.14 56.54 L 219.36 56.28 L 219.58 34.03 L 220.02 113.19 L 220.24 60.75 L 220.46 55.3 L 220.68 57.99 L 220.89 120.53 L 221.11 34.03 L 221.55 123.28 L 221.77 134.4 L 221.99 54.44 L 222.42 58.95 L 222.64 49.11 L 223.08 128.57 L 223.3 70.63 L 223.52 54.46 L 223.74 66.36 L 223.96 56.55 L 224.17 69.2 L 224.61 115.5 L 224.83 72.24 L 225.05 59.17 L 225.27 64.82 L 225.71 61.34 L 226.14 110.47 L 226.36 52.13 L 226.58 60.37 L 227.02 57.92 L 227.24 61.71 L 227.67 105.86 L 227.89 51.63 L 228.11 55.05 L 228.33 62.77 L 228.55 65.31 L 228.77 55.64 L 229.2 105.04 L 229.42 69.53 L 229.64 106.45 L 229.86 68.13 L 230.08 67.2 L 230.3 54.95 L 230.74 140.63 L 230.95 78.22 L 231.17 64.23 L 231.39 65.2 L 231.61 71.94 L 231.83 66.21 L 232.05 143.65 L 232.27 142.48 L 232.48 86.77 L 232.7 77.19 L 232.92 84.1 L 233.14 85.81 L 233.36 90.46 L 233.8 145.11 L 234.02 154.71 L 234.23 90.87 L 234.45 86.69 L 234.67 86.82 L 234.89 93.98 L 235.33 143.21 L 235.55 104.17 L 235.77 100.55 L 235.98 98.99 L 236.2 99.2 L 236.42 99.81 L 236.86 147.15 L 237.08 148.68 L 237.3 102.17 L 237.51 102.24 L 237.73 104.61 L 237.95 102.94 L 238.39 154.06 L 238.61 164.26 L 238.83 105.01 L 239.26 108.01 L 239.48 105.51 L 239.92 153.52 L 240.14 154.21 L 240.36 95.88 L 240.58 106.08 L 240.8 105.81 L 241.01 84.02 L 241.23 131.96 L 241.45 151.66 L 241.67 112.62 L 241.89 105.95 L 242.11 89.1 L 242.33 91.42 L 243.2 168.79 L 243.42 109.74 L 243.64 107.7 L 243.86 108.73 L 244.08 106.03 L 244.51 148.91 L 244.73 149.68 L 244.95 106.42 L 245.17 104.85 L 245.39 96.19 L 245.61 96.58 L 246.04 148.31 L 246.26 149.18 L 246.48 98.4 L 246.7 98.62 L 246.92 99.17 L 247.14 99.23 L 247.57 148.27 L 247.79 92.56 L 248.01 94.05 L 248.23 101.09 L 248.45 98.25 L 248.67 93.57 L 249.11 152.7 L 249.32 105.92 L 249.54 100.38 L 249.76 100.24 L 249.98 102.15 L 250.2 98.22 L 250.64 154.21 L 250.86 112.86 L 251.07 106.43 L 251.29 106.18 L 251.51 105.31 L 251.73 101.11 L 252.17 148.18 L 252.39 110.03 L 252.6 148.68 L 252.82 98.73 L 253.04 97.03 L 253.26 94.07 L 253.7 148.05 L 253.92 108.72 L 254.14 104.67 L 254.35 106.06 L 254.79 102.85 L 255.23 146.09 L 255.45 107.16 L 255.67 98.28 L 255.89 94.85 L 256.1 148.68 L 256.32 93.95 L 256.76 146.18 L 256.98 105.09 L 257.2 99.69 L 257.42 99.52 L 257.63 101.99 L 257.85 91.26 L 258.29 147.35 L 258.51 108.92 L 258.73 101.1 L 258.95 101.22 L 259.17 149.68 L 259.38 101.36 L 259.82 148.66 L 260.04 105.95 L 260.26 99.04 L 260.48 98.68 L 260.7 99.28 L 260.92 92.56 L 261.35 148.29 L 261.57 105.33 L 261.79 152.7 L 262.01 99.6 L 262.23 101.85 L 262.45 90.55 L 262.88 149.76 L 263.1 110.28 L 263.32 107.51 L 263.54 100.19 L 263.76 106.18 L 263.98 104.13 L 264.41 153.59 L 264.63 166.27 L 264.85 107.55 L 265.07 110.41 L 265.29 110.73 L 265.51 109.12 L 265.95 155.6 L 266.16 157.73 L 266.38 107.19 L 266.6 108.72 L 267.04 105.34 L 267.48 149.92 L 267.69 99.1 L 267.91 104.63 L 268.13 104.63 L 268.57 97.8 L 269.01 147.55 L 269.23 155.21 L 269.44 105.34 L 269.66 94.07 L 269.88 102.88 L 270.1 105.65 L 270.54 150.35 L 270.76 111.21 L 271.19 99.53 L 271.41 106.45 L 271.63 100.01 L 272.07 150.77 L 272.29 111.35 L 272.51 163.76 L 272.72 107.88 L 273.16 104.57 L 273.6 149.02 L 273.82 110.15 L 274.04 107.21 L 274.26 107.1 L 274.47 105.22 L 274.69 108.14 L 275.13 153.36 L 275.35 162.25 L 275.57 108.59 L 275.79 107.17 L 276.01 108.34 L 276.22 99.1 L 276.66 159.66 L 276.88 114.97 L 277.1 110.43 L 277.32 160.74 L 277.54 108.92 L 277.75 112 L 278.19 159.27 L 278.41 113.58 L 278.63 103.44 L 278.85 100.1 L 279.07 103.07 L 279.29 103.44 L 279.72 159.27 L 279.94 159.74 L 280.16 107.29 L 280.38 107.73 L 280.6 109.66 L 280.82 94.57 L 281.25 145.62 L 281.47 110.92 L 281.69 111.12 L 281.91 109.18 L 282.35 108.34 L 282.57 125.36 L 282.78 158.73 L 283 107.09 L 283.44 94.36 L 283.66 101.23 L 283.88 97.52 L 284.1 142.65 L 284.32 140.99 L 284.53 92.35 L 284.75 95.95 L 284.97 90.62 L 285.19 95.51 L 285.41 95.58 L 285.85 136.04 L 286.07 98.35 L 286.28 81.79 L 286.5 81.75 L 286.72 90.78 L 286.94 87.99 L 287.38 133.14 L 287.6 139.13 L 287.81 84.25 L 288.03 84.11 L 288.25 80.84 L 288.47 75.76 L 288.91 127.84 L 289.13 127.56 L 289.35 74.86 L 289.78 62.69 L 290 66.37 L 290.44 117.86 L 290.66 76.35 L 290.88 60.17 L 291.1 65.43 L 291.31 76.1 L 291.53 75.47 L 291.97 130.58 L 292.19 72.24 L 292.63 85.42 L 292.84 85.28 L 293.06 82.29 L 293.5 137.96 L 293.72 148.68 L 293.94 99.71 L 294.16 97.18 L 294.38 89.79 L 294.59 95.88 L 295.03 138.89 L 295.25 103.07 L 295.47 91.34 L 295.69 92.93 L 295.91 91.02 L 296.13 83.76 L 296.56 138.62 L 296.78 79.55 L 297 63.19 L 297.22 65.59 L 297.44 69.39 L 297.66 66.98 L 298.09 126.56 L 298.31 74.55 L 298.53 61.68 L 298.75 67.85 L 298.97 66.63 L 299.19 66.25 L 299.62 119.84 L 299.84 120.53 L 300.06 62.7 L 300.5 47.61 L 300.72 60.59 L 301.16 107.57 L 301.37 61.53 L 301.59 55.84 L 301.81 53.73 L 302.03 53.9 L 302.25 52.16 L 302.69 114.08 L 302.9 57.32 L 303.12 130.58 L 303.34 52.11 L 303.56 45.09 L 303.78 49.06 L 304.22 122.87 L 304.44 59.74 L 304.65 54.18 L 304.87 55.5 L 305.09 38.56 L 305.53 89.34 L 305.75 133.08 L 305.97 70.39 L 306.19 154.51 L 306.4 69.54 L 306.62 77.75 L 306.84 80.21 L 307.28 131.67 L 307.5 134.6 L 307.72 76.5 L 307.93 66.07 L 308.15 64.08 L 308.37 68.63 L 308.81 132.17 L 309.03 74.47 L 309.25 65.75 L 309.47 65.24 L 309.68 133.09 L 309.9 64.23 L 310.34 125.91 L 310.56 70.12 L 310.78 59.78 L 311 59.67 L 311.22 121.53 L 311.43 59.3 L 311.87 118.41 L 312.09 51.13 L 312.31 55.11 L 312.53 51.12 L 312.75 58.21 L 312.96 50.12 L 313.4 123.45 L 313.62 126.56 L 313.84 61.34 L 314.06 59.17 L 314.28 63.36 L 314.5 63.96 L 314.93 140.89 L 315.15 143.65 L 315.37 62.77 L 315.59 73.54 L 315.81 74.31 L 316.03 79.23 L 316.46 142.16 L 316.68 90.04 L 316.9 152.7 L 317.12 82.02 L 317.34 85.87 L 317.56 72.24 L 317.99 134.2 L 318.21 93.85 L 318.43 91.75 L 318.65 86.32 L 318.87 91.72 L 319.09 85.65 L 319.53 144.54 L 319.74 154.71 L 319.96 95.55 L 320.18 96.1 L 320.4 92.8 L 320.62 94.26 L 321.06 138.62 L 321.49 81.82 L 321.71 93.85 L 321.93 91.86 L 322.15 78.77 L 322.59 139.59 L 322.81 98.88 L 323.02 82.61 L 323.24 90.4 L 323.46 92.88 L 323.68 89.33 L 324.12 141.36 L 324.34 151.49 L 324.56 81.17 L 324.77 89.73 L 324.99 89.54 L 325.21 90.76 L 325.65 133.14 L 325.87 93.72 L 326.09 81.1 L 326.31 91.38 L 326.52 88.64 L 326.74 77.77 L 327.18 135.51 L 327.4 95.6 L 327.62 136.11 L 327.84 88.64 L 328.05 82.29 L 328.27 86.4 L 328.71 136.84 L 328.93 96.06 L 329.15 139.63 L 329.37 93.18 L 329.8 94.1 L 330.24 136.66 L 330.46 100.84 L 330.68 94.05 L 330.9 95.45 L 331.12 81.79 L 331.34 86.96 L 331.77 141.15 L 331.99 98.27 L 332.21 151.19 L 332.43 94.75 L 332.65 92.23 L 332.87 84.81 L 333.3 147.43 L 333.52 102.16 L 333.74 149.18 L 333.96 96.78 L 334.18 93.85 L 334.4 88.76 L 334.83 141.32 L 335.05 100.96 L 335.27 96.91 L 335.71 94.03 L 335.93 82.29 L 336.37 139.07 L 336.58 139.63 L 336.8 95.39 L 337.02 94.07 L 337.24 97.84 L 337.46 91.34 L 337.9 142.31 L 338.11 155.72 L 338.33 96.16 L 338.55 97.87 L 338.77 89.66 L 338.99 98.16 L 339.43 140.23 L 339.65 140.63 L 339.86 92.95 L 340.08 89.34 L 340.3 89.57 L 340.52 81.29 L 340.96 136.78 L 341.18 91.34 L 341.4 88.58 L 341.61 136.61 L 341.83 86.9 L 342.05 77.77 L 342.49 138.71 L 342.71 93.35 L 342.93 85.53 L 343.14 87.02 L 343.36 86.63 L 343.58 83.12 L 344.02 137.13 L 344.24 95.67 L 344.46 157.22 L 344.68 92.53 L 344.89 81.42 L 345.11 91.91 L 345.55 138.71 L 345.77 95.73 L 345.99 141.64 L 346.21 86.09 L 346.43 71.23 L 346.64 86.66 L 347.08 137.28 L 347.3 91.4 L 347.74 80.28 L 348.17 88.37 L 348.61 139.3 L 348.83 98.04 L 349.05 96.1 L 349.27 141.14 L 349.49 94.42 L 349.71 94.15 L 350.14 138.26 L 350.36 97.59 L 350.58 89.62 L 350.8 150.69 L 351.02 84.84 L 351.24 78.73 L 351.67 132.85 L 351.89 80.97 L 352.11 133.6 L 352.33 73.18 L 352.55 74.22 L 352.77 63.19 L 352.99 96.19 L 353.2 109.64 L 353.42 75.74 L 353.64 68.59 L 353.86 69.24 L 354.08 64.68 L 354.3 64.7 L 354.74 133.6 L 354.95 83.72 L 355.17 76.34 L 355.39 73.75 L 355.61 80.3 L 355.83 80.45 L 356.27 127.21 L 356.49 87.04 L 356.7 134.1 L 356.92 88.72 L 357.14 89.61 L 357.36 92.54 L 357.36 92.54 " clip-path="url(#p01cf69598c)" style="fill: none; stroke: #000000; stroke-width: 1.6; stroke-linecap: square"/>
   </g>
   <g id="line2d_28">
    <path d="M 55.56 141.33 L 55.78 139.93 L 56 135.48 L 56.65 95.18 L 57.09 83.44 L 57.31 80.07 L 57.53 78.99 L 57.75 79.6 L 58.62 85.68 L 59.93 93.63 L 60.15 94.05 L 60.37 93.63 L 60.81 89.28 L 61.25 84.26 L 61.46 83.07 L 61.68 83.34 L 62.56 87.51 L 62.78 86.36 L 63.65 77.59 L 63.87 78.16 L 64.31 85.14 L 64.75 91.34 L 64.96 90.76 L 65.4 81.24 L 65.84 70.94 L 66.06 69.47 L 66.28 71.71 L 67.81 105.64 L 68.03 107.14 L 68.24 106.67 L 68.68 103.49 L 70.43 85.18 L 71.31 69.08 L 71.52 67.74 L 71.74 68.56 L 72.18 74.7 L 72.62 83.71 L 73.71 116.77 L 73.93 120.15 L 74.15 120.42 L 74.81 113.75 L 75.02 114.22 L 75.68 120.44 L 76.55 130.76 L 77.43 142.75 L 77.65 143.05 L 77.87 142.2 L 78.3 138.6 L 79.18 130.41 L 80.49 120.56 L 80.71 119.87 L 80.93 119.78 L 81.15 121.04 L 81.58 126.51 L 82.02 132.31 L 82.24 133.98 L 82.46 134.23 L 82.68 133.7 L 83.12 131.52 L 83.77 127.94 L 83.99 127.34 L 84.65 127.01 L 85.74 126.76 L 86.18 126.83 L 86.4 127.49 L 87.49 133.21 L 87.71 133.16 L 87.93 132.43 L 88.58 128.23 L 89.02 125.77 L 89.24 125.26 L 89.46 125.53 L 89.68 126.65 L 90.11 130.59 L 90.99 139.41 L 91.21 140.58 L 91.43 140.91 L 91.64 140.41 L 92.08 137.63 L 93.18 128.11 L 93.39 127.09 L 93.61 126.75 L 93.83 127.03 L 94.27 128.72 L 95.36 133.99 L 95.58 134.29 L 95.8 134 L 96.24 131.89 L 96.89 128.22 L 97.11 127.75 L 97.77 127.46 L 99.08 127.07 L 99.52 126.55 L 101.05 123.74 L 101.27 123.81 L 101.7 124.73 L 102.58 127.37 L 102.8 127.7 L 103.02 127.69 L 103.24 127.16 L 103.89 124.58 L 104.11 124.24 L 104.33 124.36 L 104.77 125.22 L 105.42 126.62 L 105.64 126.75 L 106.08 126.54 L 106.52 126 L 107.17 124.76 L 107.83 123.09 L 109.14 117.2 L 109.36 117.61 L 109.8 120.07 L 110.45 123.93 L 110.67 124.21 L 110.89 123.08 L 111.98 112.18 L 112.2 112.67 L 112.64 115.1 L 113.3 119.32 L 113.51 120.07 L 113.73 120.14 L 113.95 119.38 L 114.39 115.93 L 115.48 104.52 L 115.7 103.2 L 115.92 102.63 L 116.14 103.03 L 116.36 104.44 L 116.79 109.32 L 117.67 120.63 L 117.89 122.37 L 118.11 123.19 L 118.33 122.79 L 118.54 121.04 L 118.98 114.93 L 119.86 102.04 L 120.08 100.74 L 120.29 100.79 L 120.51 101.85 L 120.95 106.12 L 122.26 122.56 L 122.48 123.85 L 122.7 124.22 L 122.92 123.01 L 123.36 116.34 L 124.23 98.75 L 124.45 96.11 L 124.67 95.08 L 124.89 95.62 L 125.32 99.07 L 125.98 104.65 L 126.2 105.12 L 126.42 104.03 L 126.85 97.98 L 127.51 87.04 L 127.73 84.99 L 127.95 84.64 L 128.17 86.58 L 128.6 94.9 L 129.04 103.68 L 129.26 106.2 L 129.48 106.5 L 129.7 105.16 L 130.14 99.62 L 130.79 90.2 L 131.01 88.37 L 131.23 87.85 L 131.45 88.2 L 131.88 90.28 L 132.54 95.63 L 132.76 97.81 L 133.2 106.89 L 133.63 117.27 L 133.85 120.38 L 134.51 123.92 L 134.95 125.56 L 135.38 126.53 L 135.6 126.73 L 135.82 125.83 L 136.04 120.28 L 136.91 89.48 L 137.35 78.37 L 137.57 75.11 L 137.79 74.53 L 138.01 75.29 L 138.45 78.68 L 139.76 93.19 L 140.2 97.83 L 140.41 98.6 L 140.63 98.38 L 141.07 96.92 L 142.38 90.55 L 142.6 90.12 L 142.82 90.13 L 143.04 90.79 L 143.69 94.78 L 144.13 96.9 L 144.57 97.53 L 145.01 97.94 L 145.44 98.09 L 145.66 97.07 L 146.1 91.22 L 146.97 77.38 L 147.19 76.2 L 147.41 76.5 L 147.85 79.32 L 148.72 86.97 L 149.82 93.21 L 150.04 93.86 L 150.26 94.07 L 150.47 93.05 L 150.91 87.51 L 151.57 79.07 L 151.79 78.49 L 152.22 78.77 L 152.66 79.5 L 153.1 80.64 L 153.75 83.04 L 153.97 84.85 L 154.41 92.1 L 155.72 117.95 L 155.94 116.64 L 156.38 106.17 L 157.03 88.37 L 157.25 86.53 L 157.47 86.9 L 157.91 89.44 L 158.78 97.3 L 159.66 106.87 L 159.88 107.21 L 160.75 107.56 L 161.41 107.64 L 161.63 107.39 L 162.06 105 L 162.5 102.27 L 162.72 101.64 L 162.94 101.99 L 163.38 105.18 L 163.81 108.32 L 164.03 108.65 L 164.69 108.47 L 165.56 108.17 L 165.78 108.15 L 166 108.29 L 166.44 109.23 L 167.31 112.29 L 167.75 114.61 L 168.63 119.94 L 168.84 120.59 L 169.06 120.67 L 169.28 120.15 L 169.72 117.82 L 170.59 111.96 L 171.25 109.71 L 171.91 107.94 L 172.34 107.26 L 172.56 107.14 L 172.78 107.26 L 173.22 108.24 L 174.97 113.46 L 175.41 114.15 L 175.62 114.1 L 175.84 113.62 L 176.28 111.76 L 177.59 105.4 L 178.25 102.41 L 178.69 101.37 L 178.9 101.4 L 179.12 102.18 L 180 107.71 L 180.22 108.15 L 180.44 108.03 L 181.53 106.64 L 181.75 106.88 L 182.62 109.11 L 182.84 109.13 L 183.28 108.81 L 183.93 107.79 L 184.59 106.5 L 185.03 105.02 L 186.12 100.49 L 186.34 100.04 L 186.56 99.92 L 186.78 100.73 L 187.65 107.9 L 188.09 108.66 L 188.96 109.53 L 189.18 110.19 L 189.62 113.81 L 190.28 119.9 L 190.5 120.69 L 190.71 120.22 L 191.59 113.55 L 192.03 112.72 L 192.9 111.51 L 193.12 110.91 L 193.56 107.77 L 194.43 99.61 L 194.65 98.7 L 194.87 98.77 L 195.09 99.9 L 195.53 104.34 L 197.27 125.48 L 197.49 127.22 L 197.71 128.03 L 197.93 127.81 L 198.15 126.89 L 198.59 123.72 L 199.46 115.52 L 200.34 105.38 L 200.56 104.15 L 200.99 103.19 L 201.43 102.46 L 201.65 101.82 L 202.09 98.87 L 202.96 91.7 L 203.18 90.93 L 203.4 91.1 L 203.62 92.47 L 204.49 100 L 204.71 99.94 L 204.93 99.06 L 205.37 95.76 L 206.24 88.48 L 206.46 87.66 L 206.68 87.58 L 207.12 88.37 L 207.55 89.04 L 207.77 88.89 L 208.21 87.71 L 208.87 85.73 L 209.08 85.52 L 209.3 86.14 L 210.18 92.4 L 210.4 92.35 L 210.62 90.77 L 211.05 84.59 L 211.71 74.35 L 211.93 72.43 L 212.15 72 L 212.36 73.1 L 212.8 78.24 L 213.24 85.22 L 214.11 108.77 L 214.33 110.16 L 214.55 110.02 L 214.99 109.23 L 215.43 107.83 L 215.65 106.91 L 215.86 104.64 L 217.83 73.84 L 218.71 64.29 L 219.36 56.77 L 220.02 46.69 L 220.24 44.67 L 220.46 44.13 L 220.68 45.02 L 221.11 50.15 L 221.55 58.68 L 221.77 67.76 L 221.99 82.73 L 222.21 85.97 L 222.86 74.06 L 223.08 76.99 L 223.52 85.49 L 223.74 85.94 L 223.96 85.33 L 224.39 82.79 L 226.58 66.45 L 227.02 64.8 L 227.24 64.87 L 227.45 66.07 L 228.55 75.87 L 228.77 75.62 L 229.2 71.23 L 229.64 66.43 L 229.86 65.73 L 230.08 67.3 L 230.52 75.06 L 230.95 82.69 L 231.83 91.29 L 232.27 96.17 L 233.14 108.13 L 233.8 111.53 L 234.02 112.07 L 234.23 112.13 L 234.45 111.76 L 234.89 110.25 L 235.55 107.86 L 236.42 106.47 L 236.86 106.15 L 237.08 106.54 L 237.3 108.98 L 237.73 117.98 L 238.39 131.47 L 238.61 133.22 L 238.83 132.79 L 239.05 130.86 L 239.48 123.94 L 240.36 107.59 L 240.8 103.71 L 241.01 103.95 L 241.23 105.4 L 242.33 117.79 L 242.98 124.21 L 243.2 124.73 L 243.42 124.32 L 243.86 122.06 L 245.17 113.19 L 246.26 110.1 L 246.92 108.77 L 247.36 108.27 L 247.79 108.17 L 248.23 108.62 L 248.89 109.96 L 249.32 111.04 L 249.76 112.87 L 251.29 120.63 L 251.51 121.09 L 251.73 121.2 L 251.95 120.62 L 252.39 117.59 L 253.26 109.72 L 253.48 108.57 L 253.7 108.15 L 253.92 108.96 L 254.57 114.4 L 254.79 114.64 L 255.01 114.22 L 255.45 112.46 L 256.32 108.31 L 256.54 107.77 L 256.76 107.64 L 258.07 107.66 L 258.29 107.94 L 258.73 109.2 L 259.38 111.28 L 259.6 111.62 L 260.04 111.64 L 260.7 111.41 L 261.35 110.98 L 261.79 110.54 L 262.23 108.73 L 262.66 107.17 L 262.88 107.51 L 263.1 108.98 L 263.54 114.14 L 264.41 125.03 L 264.63 126.13 L 264.85 126.16 L 265.07 125.65 L 265.51 123.74 L 266.38 119.62 L 267.69 114.45 L 268.13 113.71 L 268.35 113.74 L 268.57 114.13 L 269.66 117.17 L 269.88 117.04 L 270.32 115.28 L 270.76 113.21 L 270.98 112.7 L 271.19 112.91 L 271.41 113.95 L 272.72 123.02 L 272.94 122.67 L 273.38 120.18 L 274.04 116.07 L 274.26 115.69 L 274.47 115.91 L 274.91 117.3 L 276.22 123.71 L 277.32 129.91 L 277.54 130.54 L 277.75 130.77 L 277.97 130.12 L 278.41 125.96 L 279.29 116.01 L 280.6 107.67 L 281.04 106.31 L 281.25 106.15 L 281.47 109.49 L 282.35 135.09 L 282.57 134.23 L 283 128.96 L 283.66 119.11 L 284.53 110.31 L 284.75 109.27 L 284.97 109.41 L 285.41 112.71 L 285.63 114.43 L 285.85 115.18 L 286.07 113.04 L 286.72 97.94 L 286.94 97.21 L 287.16 98.32 L 287.6 101.7 L 287.81 102.59 L 288.03 101.92 L 288.47 95.76 L 289.35 79.59 L 289.56 77.97 L 290.22 76.26 L 290.44 76.01 L 290.66 76.07 L 290.88 76.88 L 291.31 80.2 L 291.75 84.64 L 292.41 96.31 L 293.06 108.09 L 294.16 123.19 L 294.38 124.75 L 294.59 125.24 L 294.81 124.77 L 295.25 121.95 L 295.91 114.73 L 296.56 105.42 L 297.44 87.52 L 297.87 84.02 L 298.31 81.9 L 298.75 80.59 L 299.84 78.62 L 300.06 77.33 L 300.5 71.22 L 300.94 64.54 L 301.16 62.57 L 301.37 62.31 L 301.59 63.48 L 302.03 68.22 L 302.69 75.16 L 302.9 75.77 L 303.12 74.91 L 303.56 69.94 L 304.22 60.85 L 304.44 59.11 L 304.65 58.75 L 304.87 60.2 L 305.31 67.48 L 305.53 72.54 L 305.75 80.96 L 306.19 109.82 L 306.4 111.85 L 306.62 109.39 L 307.72 90.27 L 308.37 87.02 L 309.68 81.86 L 310.78 77.77 L 311.22 75.74 L 311.87 70.96 L 312.53 66.8 L 312.75 66.26 L 312.96 66.53 L 313.4 70.02 L 314.06 76.26 L 314.93 84.16 L 315.37 90.37 L 316.46 112.49 L 316.68 113.03 L 316.9 110.17 L 317.78 90.68 L 317.99 92.18 L 318.43 106.84 L 318.87 123.37 L 319.09 127.13 L 319.31 126.62 L 319.74 120.85 L 320.62 106.29 L 321.49 99.33 L 321.93 97.35 L 322.15 97.09 L 322.37 97.73 L 322.81 101.58 L 323.68 110.82 L 323.9 111.64 L 324.12 111.07 L 324.56 105.85 L 325.21 96.51 L 325.65 94.26 L 326.31 92.05 L 326.74 91.39 L 326.96 91.47 L 327.18 92.32 L 327.62 95.77 L 328.49 104.14 L 329.37 108.64 L 329.8 110.19 L 330.02 110.59 L 330.24 110.53 L 330.46 109.17 L 331.12 102.15 L 331.34 101.12 L 331.55 101.41 L 331.99 103.78 L 332.87 109.95 L 333.08 110.6 L 333.3 110.6 L 333.52 110.26 L 333.96 108.96 L 334.83 105.4 L 335.93 99.01 L 336.15 98.6 L 336.37 98.95 L 336.8 101.87 L 337.9 111.91 L 338.11 112.63 L 338.33 112.49 L 338.55 111.7 L 338.99 108.84 L 340.3 99.21 L 340.96 95.2 L 341.4 94.29 L 342.05 93.61 L 342.49 93.39 L 342.71 93.37 L 342.93 94.06 L 343.36 98.16 L 344.46 110.95 L 344.68 111.66 L 344.89 110.94 L 345.33 105.7 L 345.99 96.11 L 346.43 93.72 L 346.86 92.43 L 347.08 92.11 L 347.3 92.11 L 347.52 92.59 L 347.96 94.69 L 348.61 99.4 L 348.83 101.25 L 349.27 107.61 L 349.92 117.28 L 350.14 118.62 L 350.36 118.19 L 350.58 115.88 L 351.02 107.73 L 351.67 94.63 L 352.55 83.33 L 353.2 77.91 L 353.64 75.83 L 353.86 76.19 L 354.3 81.03 L 354.95 89.18 L 355.39 92.84 L 355.83 92.68 L 356.27 92.4 L 356.49 92.44 L 356.7 93.9 L 357.14 100.95 L 357.36 105.63 L 357.36 105.63 " clip-path="url(#p01cf69598c)" style="fill: none; stroke: #2ca02c; stroke-width: 1.65; stroke-linecap: square"/>
   </g>
   <g id="patch_3">
    <path d="M 55.56 180.24 L 55.56 5.82 " style="fill: none; stroke: #000000; stroke-width: 0.8; stroke-linejoin: miter; stroke-linecap: square"/>
   </g>
   <g id="patch_4">
    <path d="M 357.36 180.24 L 357.36 5.82 " style="fill: none; stroke: #000000; stroke-width: 0.8; stroke-linejoin: miter; stroke-linecap: square"/>
   </g>
   <g id="patch_5">
    <path d="M 55.56 180.24 L 357.36 180.24 " style="fill: none; stroke: #000000; stroke-width: 0.8; stroke-linejoin: miter; stroke-linecap: square"/>
   </g>
   <g id="patch_6">
    <path d="M 55.56 5.82 L 357.36 5.82 " style="fill: none; stroke: #000000; stroke-width: 0.8; stroke-linejoin: miter; stroke-linecap: square"/>
   </g>
   <g id="text_16">
    <text style="font-size: 11px; font-family: 'DejaVu Sans', 'Liberation Sans', sans-serif; text-anchor: end" x="9.89766" y="8.69793" transform="rotate(-0 9.89766 8.69793)">a)</text>
   </g>
   <g id="legend_1">
    <g id="patch_7">
     <path d="M 62.56 44.3 L 133.69 44.3 Q 135.69 44.3 135.69 42.3 L 135.69 12.82 Q 135.69 10.82 133.69 10.82 L 62.56 10.82 Q 60.56 10.82 60.56 12.82 L 60.56 42.3 Q 60.56 44.3 62.56 44.3 z" style="fill: #ffffff; opacity: 0.8; stroke: #cccccc; stroke-linejoin: miter"/>
    </g>
    <g id="line2d_29">
     <path d="M 64.56 18.92 L 74.56 18.92 L 84.56 18.92 " style="fill: none; stroke: #000000; stroke-width: 1.8; stroke-linecap: square"/>
    </g>
    <g id="text_17">
     <text style="font-size: 10px; font-family: 'DejaVu Sans', 'Liberation Sans', sans-serif; text-anchor: start" x="92.56" y="22.418438" transform="rotate(-0 92.56 22.418438)">Original</text>
    </g>
    <g id="line2d_30">
     <path d="M 64.56 33.6 L 74.56 33.6 L 84.56 33.6 " style="fill: none; stroke: #2ca02c; stroke-width: 1.8; stroke-linecap: square"/>
    </g>
    <g id="text_18">
     <g transform="translate(92.56 37.096563)">
      <text><tspan x="0" y="-0.578125" style="font-style: oblique; font-size: 10px; font-family: 'DejaVu Sans', 'Liberation Sans', sans-serif">p</tspan><tspan x="6.347656" y="-0.578125" style="font-size: 10px; font-family: 'DejaVu Sans', 'Liberation Sans', sans-serif">=9</tspan></text>
     </g>
    </g>
   </g>
  </g>
  <g id="axes_2">
   <g id="patch_8">
    <path d="M 417.66 180.24 L 719.46 180.24 L 719.46 5.82 L 417.66 5.82 z" style="fill: #ffffff"/>
   </g>
   <g id="FillBetweenPolyCollection_2">
    <g clip-path="url(#pbef98081dc)">
     <path d="M 417.66 -332.77 L 417.66 -287.35 L 418.53 -296.02 L 419.41 -299.18 L 420.28 -299.18 L 421.16 -300.75 L 422.03 -300.75 L 422.91 -301.71 L 423.78 -301.71 L 424.66 -301.71 L 425.53 -308.6 L 426.41 -308.6 L 427.28 -308.6 L 428.16 -308.6 L 429.03 -308.6 L 429.91 -290.25 L 430.78 -290.57 L 431.66 -293.38 L 432.53 -303.04 L 433.41 -303.04 L 434.28 -303.04 L 435.16 -303.04 L 436.03 -283.33 L 436.91 -283.33 L 437.78 -278.36 L 438.65 -269.2 L 439.53 -269.2 L 440.4 -269.2 L 441.28 -268.64 L 442.15 -269.11 L 443.03 -269.11 L 443.9 -269.11 L 444.78 -269.11 L 445.65 -262.59 L 446.53 -262.59 L 447.4 -262.59 L 448.28 -261.06 L 449.15 -261.06 L 450.03 -261.1 L 450.9 -261.1 L 451.78 -262.37 L 452.65 -262.37 L 453.53 -262.85 L 454.4 -262.85 L 455.28 -262.85 L 456.15 -262.85 L 457.03 -262.85 L 457.9 -262.32 L 458.77 -262.32 L 459.65 -261.63 L 460.52 -261.63 L 461.4 -261.63 L 462.27 -261.47 L 463.15 -261.47 L 464.02 -261.47 L 464.9 -261.47 L 465.77 -261.13 L 466.65 -264.09 L 467.52 -264.09 L 468.4 -264.09 L 469.27 -268.33 L 470.15 -269.85 L 471.02 -269.85 L 471.9 -269.85 L 472.77 -271.55 L 473.65 -271.55 L 474.52 -271.63 L 475.4 -271.63 L 476.27 -277.73 L 477.15 -277.73 L 478.02 -277.73 L 478.89 -277.73 L 479.77 -277.73 L 480.64 -275.56 L 481.52 -275.56 L 482.39 -276.51 L 483.27 -276.51 L 484.14 -283.12 L 485.02 -284.33 L 485.89 -284.33 L 486.77 -284.33 L 487.64 -284.33 L 488.52 -291.9 L 489.39 -291.9 L 490.27 -293.22 L 491.14 -293.22 L 492.02 -293.22 L 492.89 -292.9 L 493.77 -292.9 L 494.64 -292.9 L 495.52 -292.9 L 496.39 -283.91 L 497.27 -303.21 L 498.14 -303.21 L 499.01 -303.21 L 499.89 -303.21 L 500.76 -303.21 L 501.64 -303.21 L 502.51 -297.41 L 503.39 -294.6 L 504.26 -291.12 L 505.14 -291.12 L 506.01 -291.12 L 506.89 -291.58 L 507.76 -291.58 L 508.64 -295.49 L 509.51 -296.68 L 510.39 -296.68 L 511.26 -300.1 L 512.14 -300.1 L 513.01 -300.19 L 513.89 -300.19 L 514.76 -300.19 L 515.64 -300.19 L 516.51 -300.19 L 517.39 -294.87 L 518.26 -294.87 L 519.13 -294.87 L 520.01 -294.87 L 520.88 -294.87 L 521.76 -289.8 L 522.63 -287.35 L 523.51 -286.76 L 524.38 -286.76 L 525.26 -282.32 L 526.13 -282.32 L 527.01 -273.58 L 527.88 -273.25 L 528.76 -273.25 L 529.63 -273.4 L 530.51 -273.4 L 531.38 -275.15 L 532.26 -275.15 L 533.13 -276.64 L 534.01 -276.64 L 534.88 -278.35 L 535.76 -279.21 L 536.63 -279.21 L 537.51 -279.41 L 538.38 -279.41 L 539.25 -280.25 L 540.13 -280.25 L 541 -280.25 L 541.88 -280.25 L 542.75 -280.25 L 543.63 -279.51 L 544.5 -279.51 L 545.38 -281.21 L 546.25 -281.21 L 547.13 -283.7 L 548 -283.7 L 548.88 -283.7 L 549.75 -283.7 L 550.63 -283.7 L 551.5 -276.87 L 552.38 -276.87 L 553.25 -276.87 L 554.13 -281.49 L 555 -281.49 L 555.88 -281.49 L 556.75 -281.49 L 557.63 -281.49 L 558.5 -277.3 L 559.37 -277.3 L 560.25 -270.87 L 561.12 -270.87 L 562 -286.35 L 562.87 -286.35 L 563.75 -289.11 L 564.62 -289.11 L 565.5 -289.11 L 566.37 -289.11 L 567.25 -289.11 L 568.12 -298.41 L 569 -299.27 L 569.87 -303.11 L 570.75 -303.11 L 571.62 -307.43 L 572.5 -307.43 L 573.37 -307.43 L 574.25 -307.43 L 575.12 -307.43 L 576 -302.43 L 576.87 -292.22 L 577.75 -292.22 L 578.62 -308.47 L 579.49 -311.39 L 580.37 -311.39 L 581.24 -311.39 L 582.12 -311.39 L 582.99 -310.77 L 583.87 -303.44 L 584.74 -308.47 L 585.62 -308.47 L 586.49 -313.49 L 587.37 -313.49 L 588.24 -318.1 L 589.12 -318.92 L 589.99 -318.92 L 590.87 -318.92 L 591.74 -318.92 L 592.62 -317.51 L 593.49 -317.51 L 594.37 -283.33 L 595.24 -281.48 L 596.12 -281.48 L 596.99 -280.75 L 597.87 -280.75 L 598.74 -280.75 L 599.61 -280.75 L 600.49 -275.29 L 601.36 -269.9 L 602.24 -272.3 L 603.11 -275.08 L 603.99 -275.08 L 604.86 -275.08 L 605.74 -275.08 L 606.61 -274.78 L 607.49 -274.78 L 608.36 -275.7 L 609.24 -275.7 L 610.11 -275.7 L 610.99 -275.7 L 611.86 -275.7 L 612.74 -275.78 L 613.61 -275.78 L 614.49 -275.91 L 615.36 -277.87 L 616.24 -277.87 L 617.11 -277.87 L 617.99 -277.87 L 618.86 -277.87 L 619.73 -277.78 L 620.61 -277.78 L 621.48 -276.62 L 622.36 -275.68 L 623.23 -275.68 L 624.11 -275.68 L 624.98 -274.2 L 625.86 -274.2 L 626.73 -274.2 L 627.61 -274.05 L 628.48 -274.05 L 629.36 -276.42 L 630.23 -276.42 L 631.11 -276.42 L 631.98 -276.42 L 632.86 -273.61 L 633.73 -273.61 L 634.61 -274.94 L 635.48 -274.94 L 636.36 -274.94 L 637.23 -274.94 L 638.11 -270.6 L 638.98 -264.7 L 639.85 -264.7 L 640.73 -264.7 L 641.6 -278.34 L 642.48 -278.34 L 643.35 -278.34 L 644.23 -281.32 L 645.1 -281.32 L 645.98 -287.93 L 646.85 -287.93 L 647.73 -290.82 L 648.6 -290.82 L 649.48 -296.13 L 650.35 -296.4 L 651.23 -306.1 L 652.1 -306.1 L 652.98 -306.1 L 653.85 -306.1 L 654.73 -306.1 L 655.6 -293.38 L 656.48 -286 L 657.35 -285.34 L 658.23 -297.41 L 659.1 -297.41 L 659.97 -304.12 L 660.85 -304.12 L 661.72 -316.39 L 662.6 -316.39 L 663.47 -316.39 L 664.35 -316.39 L 665.22 -316.39 L 666.1 -301.1 L 666.97 -301.1 L 667.85 -301.1 L 668.72 -290.88 L 669.6 -291.79 L 670.47 -291.79 L 671.35 -298.05 L 672.22 -302.43 L 673.1 -305.55 L 673.97 -305.55 L 674.85 -305.55 L 675.72 -305.55 L 676.6 -297.41 L 677.47 -297.41 L 678.35 -289.76 L 679.22 -289.76 L 680.09 -289.76 L 680.97 -289.76 L 681.84 -289.76 L 682.72 -285.34 L 683.59 -285.34 L 684.47 -285.34 L 685.34 -285.34 L 686.22 -290.83 L 687.09 -290.83 L 687.97 -290.83 L 688.84 -290.83 L 689.72 -290.83 L 690.59 -287.85 L 691.47 -287.85 L 692.34 -287.31 L 693.22 -287.31 L 694.09 -287.31 L 694.97 -282.81 L 695.84 -282.65 L 696.72 -284.9 L 697.59 -284.9 L 698.47 -284.9 L 699.34 -284.9 L 700.21 -284.34 L 701.09 -287.19 L 701.96 -287.19 L 702.84 -287.19 L 703.71 -287.19 L 704.59 -287.19 L 705.46 -286.83 L 706.34 -286.83 L 707.21 -286.83 L 708.09 -286.69 L 708.96 -286.69 L 709.84 -286.69 L 710.71 -286.69 L 711.59 -284.66 L 712.46 -290.37 L 713.34 -290.37 L 714.21 -314.33 L 715.09 -314.33 L 715.96 -314.33 L 716.84 -314.33 L 717.71 -296.76 L 718.59 -296.76 L 719.46 -296.76 L 719.46 -327.32 L 719.46 -327.32 L 718.59 -327.32 L 717.71 -328.99 L 716.84 -335.74 L 715.96 -342.29 L 715.09 -337.31 L 714.21 -337.31 L 713.34 -321.88 L 712.46 -321.88 L 711.59 -321.88 L 710.71 -321.88 L 709.84 -321.88 L 708.96 -334.62 L 708.09 -334.62 L 707.21 -332.91 L 706.34 -332.91 L 705.46 -332.91 L 704.59 -332.91 L 703.71 -332.91 L 702.84 -326.38 L 701.96 -326.38 L 701.09 -324.69 L 700.21 -324.69 L 699.34 -324.69 L 698.47 -324.69 L 697.59 -324.69 L 696.72 -327.28 L 695.84 -327.28 L 694.97 -327.28 L 694.09 -329.08 L 693.22 -322.29 L 692.34 -322.29 L 691.47 -322.29 L 690.59 -322.86 L 689.72 -322.86 L 688.84 -333.74 L 687.97 -334.87 L 687.09 -333.43 L 686.22 -333.43 L 685.34 -333.43 L 684.47 -333.43 L 683.59 -323.23 L 682.72 -323.23 L 681.84 -323.23 L 680.97 -323.23 L 680.09 -330.39 L 679.22 -330.39 L 678.35 -336.81 L 677.47 -336.81 L 676.6 -353.26 L 675.72 -353.26 L 674.85 -356.73 L 673.97 -356.36 L 673.1 -351.8 L 672.22 -350.8 L 671.35 -350.8 L 670.47 -346.5 L 669.6 -346.5 L 668.72 -346.5 L 667.85 -346.5 L 666.97 -346.5 L 666.1 -363.87 L 665.22 -363.87 L 664.35 -362.31 L 663.47 -362.31 L 662.6 -353.34 L 661.72 -353.34 L 660.85 -352.85 L 659.97 -352.85 L 659.1 -332.28 L 658.23 -325.02 L 657.35 -325.02 L 656.48 -325.02 L 655.6 -326.24 L 654.73 -326.24 L 653.85 -333.74 L 652.98 -343.8 L 652.1 -340.28 L 651.23 -335.2 L 650.35 -331.93 L 649.48 -331.93 L 648.6 -325.42 L 647.73 -323.69 L 646.85 -321.68 L 645.98 -308.94 L 645.1 -307.7 L 644.23 -307.7 L 643.35 -307.7 L 642.48 -307.7 L 641.6 -312.59 L 640.73 -307.12 L 639.85 -307.12 L 638.98 -307.12 L 638.11 -307.12 L 637.23 -308.87 L 636.36 -308.87 L 635.48 -310.82 L 634.61 -310.82 L 633.73 -311.46 L 632.86 -316.03 L 631.98 -316.51 L 631.11 -316.51 L 630.23 -310.7 L 629.36 -308.85 L 628.48 -308.48 L 627.61 -308.48 L 626.73 -308.48 L 625.86 -308.48 L 624.98 -311.91 L 624.11 -315.84 L 623.23 -316.99 L 622.36 -314.93 L 621.48 -314.93 L 620.61 -314.93 L 619.73 -314.93 L 618.86 -321.19 L 617.99 -313.19 L 617.11 -313.19 L 616.24 -313.19 L 615.36 -313.19 L 614.49 -314.93 L 613.61 -314.93 L 612.74 -314.93 L 611.86 -314.93 L 610.99 -317.81 L 610.11 -317.64 L 609.24 -317.64 L 608.36 -317.64 L 607.49 -310 L 606.61 -308.34 L 605.74 -308.34 L 604.86 -308.34 L 603.99 -308.34 L 603.11 -311.03 L 602.24 -311.03 L 601.36 -311.03 L 600.49 -311.03 L 599.61 -311.03 L 598.74 -313.8 L 597.87 -313.86 L 596.99 -317.04 L 596.12 -322.05 L 595.24 -329.35 L 594.37 -330.22 L 593.49 -338.85 L 592.62 -350.83 L 591.74 -351.81 L 590.87 -360.4 L 589.99 -360.4 L 589.12 -356.87 L 588.24 -356.87 L 587.37 -356.87 L 586.49 -356.87 L 585.62 -356.87 L 584.74 -361.57 L 583.87 -366.92 L 582.99 -366.92 L 582.12 -359.75 L 581.24 -349.8 L 580.37 -346.01 L 579.49 -346.01 L 578.62 -324.06 L 577.75 -324.06 L 576.87 -324.06 L 576 -324.06 L 575.12 -324.79 L 574.25 -346.81 L 573.37 -338.48 L 572.5 -338.48 L 571.62 -338.48 L 570.75 -338.48 L 569.87 -343.49 L 569 -342.79 L 568.12 -331.41 L 567.25 -331.41 L 566.37 -331.41 L 565.5 -331.41 L 564.62 -331.41 L 563.75 -332.74 L 562.87 -332.3 L 562 -323.04 L 561.12 -319.98 L 560.25 -319.68 L 559.37 -319.68 L 558.5 -319.68 L 557.63 -319.68 L 556.75 -324.69 L 555.88 -321.2 L 555 -321.2 L 554.13 -317.92 L 553.25 -317.92 L 552.38 -317.92 L 551.5 -321.17 L 550.63 -321.17 L 549.75 -321.17 L 548.88 -321.17 L 548 -321.07 L 547.13 -321.07 L 546.25 -320.06 L 545.38 -320.06 L 544.5 -320.06 L 543.63 -318.43 L 542.75 -318.43 L 541.88 -318.43 L 541 -318.43 L 540.13 -319.64 L 539.25 -319.64 L 538.38 -319.64 L 537.51 -319.64 L 536.63 -319.64 L 535.76 -321.68 L 534.88 -317.08 L 534.01 -317.08 L 533.13 -317.08 L 532.26 -317.02 L 531.38 -317.02 L 530.51 -317.02 L 529.63 -317.02 L 528.76 -317.02 L 527.88 -318.33 L 527.01 -318.33 L 526.13 -318.33 L 525.26 -318.33 L 524.38 -318.33 L 523.51 -330.5 L 522.63 -330.5 L 521.76 -329.72 L 520.88 -329.72 L 520.01 -329.72 L 519.13 -329.72 L 518.26 -331.97 L 517.39 -331.97 L 516.51 -331.97 L 515.64 -336.18 L 514.76 -346.81 L 513.89 -348.82 L 513.01 -343.36 L 512.14 -343.36 L 511.26 -343.36 L 510.39 -343.36 L 509.51 -336.69 L 508.64 -335.02 L 507.76 -335.01 L 506.89 -334.77 L 506.01 -334.77 L 505.14 -334.77 L 504.26 -334.77 L 503.39 -337.69 L 502.51 -337.2 L 501.64 -337.2 L 500.76 -337.2 L 499.89 -337.2 L 499.01 -337.91 L 498.14 -337.91 L 497.27 -331.81 L 496.39 -329.72 L 495.52 -328.11 L 494.64 -328.11 L 493.77 -328.11 L 492.89 -328.11 L 492.02 -331.43 L 491.14 -331.43 L 490.27 -331.81 L 489.39 -328.08 L 488.52 -328.08 L 487.64 -328.08 L 486.77 -328.08 L 485.89 -328.58 L 485.02 -324.77 L 484.14 -319.92 L 483.27 -319.92 L 482.39 -319.6 L 481.52 -319.6 L 480.64 -319.6 L 479.77 -319.6 L 478.89 -319.6 L 478.02 -316.94 L 477.15 -312.74 L 476.27 -311.31 L 475.4 -311.31 L 474.52 -311.31 L 473.65 -311.31 L 472.77 -306.5 L 471.9 -305.98 L 471.02 -305.98 L 470.15 -302.95 L 469.27 -302.95 L 468.4 -300.73 L 467.52 -300.73 L 466.65 -299.88 L 465.77 -299.88 L 464.9 -299.88 L 464.02 -299.88 L 463.15 -299.88 L 462.27 -304.26 L 461.4 -298.32 L 460.52 -298.32 L 459.65 -298.32 L 458.77 -296.5 L 457.9 -296.5 L 457.03 -296.5 L 456.15 -292.94 L 455.28 -292.94 L 454.4 -292.94 L 453.53 -292.94 L 452.65 -292.94 L 451.78 -301.28 L 450.9 -301.28 L 450.03 -301.28 L 449.15 -301.28 L 448.28 -301.28 L 447.4 -302.98 L 446.53 -296.62 L 445.65 -296.62 L 444.78 -296.62 L 443.9 -296.62 L 443.03 -296.62 L 442.15 -295.51 L 441.28 -295.31 L 440.4 -295.31 L 439.53 -290.66 L 438.65 -290.66 L 437.78 -290.66 L 436.91 -290.66 L 436.03 -316.11 L 435.16 -318.35 L 434.28 -325.83 L 433.41 -345.81 L 432.53 -336.81 L 431.66 -336.81 L 430.78 -336.81 L 429.91 -336.81 L 429.03 -340.23 L 428.16 -345.81 L 427.28 -352.96 L 426.41 -352.96 L 425.53 -348.43 L 424.66 -348.43 L 423.78 -343 L 422.91 -343 L 422.03 -343 L 421.16 -343 L 420.28 -343 L 419.41 -332.77 L 418.53 -332.77 L 417.66 -332.77 z" transform="translate(0 420)"/>
    </g>
   </g>
   <g id="matplotlib.axis_3">
    <g id="xtick_8">
     <g id="line2d_31">
      <path d="M 417.66 180.24 L 417.66 5.82 " clip-path="url(#pbef98081dc)" style="fill: none; stroke-dasharray: 1.85,0.8; stroke-dashoffset: 0; stroke: #808080; stroke-opacity: 0.75; stroke-width: 0.5"/>
     </g>
     <g id="line2d_32">
      <g>
       <path d="M 0 0 L 0 3.5" transform="translate(417.66 180.24)" style="stroke: #000000; stroke-width: 0.8"/>
      </g>
     </g>
     <g id="text_19">
      <text style="font-size: 10px; font-family: 'DejaVu Sans', 'Liberation Sans', sans-serif; text-anchor: middle" x="417.66" y="194.488437" transform="rotate(-0 417.66 194.488437)">0</text>
     </g>
    </g>
    <g id="xtick_9">
     <g id="line2d_33">
      <path d="M 461.4 180.24 L 461.4 5.82 " clip-path="url(#pbef98081dc)" style="fill: none; stroke-dasharray: 1.85,0.8; stroke-dashoffset: 0; stroke: #808080; stroke-opacity: 0.75; stroke-width: 0.5"/>
     </g>
     <g id="line2d_34">
      <g>
       <path d="M 0 0 L 0 3.5" transform="translate(461.39913 180.24)" style="stroke: #000000; stroke-width: 0.8"/>
      </g>
     </g>
     <g id="text_20">
      <text style="font-size: 10px; font-family: 'DejaVu Sans', 'Liberation Sans', sans-serif; text-anchor: middle" x="461.39913" y="194.488437" transform="rotate(-0 461.39913 194.488437)">200</text>
     </g>
    </g>
    <g id="xtick_10">
     <g id="line2d_35">
      <path d="M 505.14 180.24 L 505.14 5.82 " clip-path="url(#pbef98081dc)" style="fill: none; stroke-dasharray: 1.85,0.8; stroke-dashoffset: 0; stroke: #808080; stroke-opacity: 0.75; stroke-width: 0.5"/>
     </g>
     <g id="line2d_36">
      <g>
       <path d="M 0 0 L 0 3.5" transform="translate(505.138261 180.24)" style="stroke: #000000; stroke-width: 0.8"/>
      </g>
     </g>
     <g id="text_21">
      <text style="font-size: 10px; font-family: 'DejaVu Sans', 'Liberation Sans', sans-serif; text-anchor: middle" x="505.138261" y="194.488437" transform="rotate(-0 505.138261 194.488437)">400</text>
     </g>
    </g>
    <g id="xtick_11">
     <g id="line2d_37">
      <path d="M 548.88 180.24 L 548.88 5.82 " clip-path="url(#pbef98081dc)" style="fill: none; stroke-dasharray: 1.85,0.8; stroke-dashoffset: 0; stroke: #808080; stroke-opacity: 0.75; stroke-width: 0.5"/>
     </g>
     <g id="line2d_38">
      <g>
       <path d="M 0 0 L 0 3.5" transform="translate(548.877391 180.24)" style="stroke: #000000; stroke-width: 0.8"/>
      </g>
     </g>
     <g id="text_22">
      <text style="font-size: 10px; font-family: 'DejaVu Sans', 'Liberation Sans', sans-serif; text-anchor: middle" x="548.877391" y="194.488437" transform="rotate(-0 548.877391 194.488437)">600</text>
     </g>
    </g>
    <g id="xtick_12">
     <g id="line2d_39">
      <path d="M 592.62 180.24 L 592.62 5.82 " clip-path="url(#pbef98081dc)" style="fill: none; stroke-dasharray: 1.85,0.8; stroke-dashoffset: 0; stroke: #808080; stroke-opacity: 0.75; stroke-width: 0.5"/>
     </g>
     <g id="line2d_40">
      <g>
       <path d="M 0 0 L 0 3.5" transform="translate(592.616522 180.24)" style="stroke: #000000; stroke-width: 0.8"/>
      </g>
     </g>
     <g id="text_23">
      <text style="font-size: 10px; font-family: 'DejaVu Sans', 'Liberation Sans', sans-serif; text-anchor: middle" x="592.616522" y="194.488437" transform="rotate(-0 592.616522 194.488437)">800</text>
     </g>
    </g>
    <g id="xtick_13">
     <g id="line2d_41">
      <path d="M 636.36 180.24 L 636.36 5.82 " clip-path="url(#pbef98081dc)" style="fill: none; stroke-dasharray: 1.85,0.8; stroke-dashoffset: 0; stroke: #808080; stroke-opacity: 0.75; stroke-width: 0.5"/>
     </g>
     <g id="line2d_42">
      <g>
       <path d="M 0 0 L 0 3.5" transform="translate(636.355652 180.24)" style="stroke: #000000; stroke-width: 0.8"/>
      </g>
     </g>
     <g id="text_24">
      <text style="font-size: 10px; font-family: 'DejaVu Sans', 'Liberation Sans', sans-serif; text-anchor: middle" x="636.355652" y="194.488437" transform="rotate(-0 636.355652 194.488437)">1000</text>
     </g>
    </g>
    <g id="xtick_14">
     <g id="line2d_43">
      <path d="M 680.09 180.24 L 680.09 5.82 " clip-path="url(#pbef98081dc)" style="fill: none; stroke-dasharray: 1.85,0.8; stroke-dashoffset: 0; stroke: #808080; stroke-opacity: 0.75; stroke-width: 0.5"/>
     </g>
     <g id="line2d_44">
      <g>
       <path d="M 0 0 L 0 3.5" transform="translate(680.094783 180.24)" style="stroke: #000000; stroke-width: 0.8"/>
      </g>
     </g>
     <g id="text_25">
      <text style="font-size: 10px; font-family: 'DejaVu Sans', 'Liberation Sans', sans-serif; text-anchor: middle" x="680.094783" y="194.488437" transform="rotate(-0 680.094783 194.488437)">1200</text>
     </g>
    </g>
    <g id="text_26">
     <text style="font-size: 10px; font-family: 'DejaVu Sans', 'Liberation Sans', sans-serif; text-anchor: middle" x="568.56" y="208.266562" transform="rotate(-0 568.56 208.266562)">Time (days)</text>
    </g>
   </g>
   <g id="matplotlib.axis_4">
    <g id="ytick_7">
     <g id="line2d_45">
      <path d="M 417.66 164.38 L 719.46 164.38 " clip-path="url(#pbef98081dc)" style="fill: none; stroke-dasharray: 1.85,0.8; stroke-dashoffset: 0; stroke: #808080; stroke-opacity: 0.75; stroke-width: 0.5"/>
     </g>
     <g id="line2d_46">
      <g>
       <path d="M 0 0 L -3.5 0" transform="translate(417.66 164.383636)" style="stroke: #000000; stroke-width: 0.8"/>
      </g>
     </g>
     <g id="text_27">
      <text style="font-size: 10px; font-family: 'DejaVu Sans', 'Liberation Sans', sans-serif; text-anchor: end" x="411.11" y="168.182855" transform="rotate(-0 411.11 168.182855)">8000</text>
     </g>
    </g>
    <g id="ytick_8">
     <g id="line2d_47">
      <path d="M 417.66 132.67 L 719.46 132.67 " clip-path="url(#pbef98081dc)" style="fill: none; stroke-dasharray: 1.85,0.8; stroke-dashoffset: 0; stroke: #808080; stroke-opacity: 0.75; stroke-width: 0.5"/>
     </g>
     <g id="line2d_48">
      <g>
       <path d="M 0 0 L -3.5 0" transform="translate(417.66 132.670909)" style="stroke: #000000; stroke-width: 0.8"/>
      </g>
     </g>
     <g id="text_28">
      <text style="font-size: 10px; font-family: 'DejaVu Sans', 'Liberation Sans', sans-serif; text-anchor: end" x="411.11" y="136.470128" transform="rotate(-0 411.11 136.470128)">10000</text>
     </g>
    </g>
    <g id="ytick_9">
     <g id="line2d_49">
      <path d="M 417.66 100.96 L 719.46 100.96 " clip-path="url(#pbef98081dc)" style="fill: none; stroke-dasharray: 1.85,0.8; stroke-dashoffset: 0; stroke: #808080; stroke-opacity: 0.75; stroke-width: 0.5"/>
     </g>
     <g id="line2d_50">
      <g>
       <path d="M 0 0 L -3.5 0" transform="translate(417.66 100.958182)" style="stroke: #000000; stroke-width: 0.8"/>
      </g>
     </g>
     <g id="text_29">
      <text style="font-size: 10px; font-family: 'DejaVu Sans', 'Liberation Sans', sans-serif; text-anchor: end" x="411.11" y="104.757401" transform="rotate(-0 411.11 104.757401)">12000</text>
     </g>
    </g>
    <g id="ytick_10">
     <g id="line2d_51">
      <path d="M 417.66 69.25 L 719.46 69.25 " clip-path="url(#pbef98081dc)" style="fill: none; stroke-dasharray: 1.85,0.8; stroke-dashoffset: 0; stroke: #808080; stroke-opacity: 0.75; stroke-width: 0.5"/>
     </g>
     <g id="line2d_52">
      <g>
       <path d="M 0 0 L -3.5 0" transform="translate(417.66 69.245455)" style="stroke: #000000; stroke-width: 0.8"/>
      </g>
     </g>
     <g id="text_30">
      <text style="font-size: 10px; font-family: 'DejaVu Sans', 'Liberation Sans', sans-serif; text-anchor: end" x="411.11" y="73.044673" transform="rotate(-0 411.11 73.044673)">14000</text>
     </g>
    </g>
    <g id="ytick_11">
     <g id="line2d_53">
      <path d="M 417.66 37.53 L 719.46 37.53 " clip-path="url(#pbef98081dc)" style="fill: none; stroke-dasharray: 1.85,0.8; stroke-dashoffset: 0; stroke: #808080; stroke-opacity: 0.75; stroke-width: 0.5"/>
     </g>
     <g id="line2d_54">
      <g>
       <path d="M 0 0 L -3.5 0" transform="translate(417.66 37.532727)" style="stroke: #000000; stroke-width: 0.8"/>
      </g>
     </g>
     <g id="text_31">
      <text style="font-size: 10px; font-family: 'DejaVu Sans', 'Liberation Sans', sans-serif; text-anchor: end" x="411.11" y="41.331946" transform="rotate(-0 411.11 41.331946)">16000</text>
     </g>
    </g>
    <g id="ytick_12">
     <g id="line2d_55">
      <path d="M 417.66 5.82 L 719.46 5.82 " clip-path="url(#pbef98081dc)" style="fill: none; stroke-dasharray: 1.85,0.8; stroke-dashoffset: 0; stroke: #808080; stroke-opacity: 0.75; stroke-width: 0.5"/>
     </g>
     <g id="line2d_56">
      <g>
       <path d="M 0 0 L -3.5 0" transform="translate(417.66 5.82)" style="stroke: #000000; stroke-width: 0.8"/>
      </g>
     </g>
     <g id="text_32">
      <text style="font-size: 10px; font-family: 'DejaVu Sans', 'Liberation Sans', sans-serif; text-anchor: end" x="411.11" y="9.619219" transform="rotate(-0 411.11 9.619219)">18000</text>
     </g>
    </g>
    <g id="text_33">
     <text style="font-size: 10px; font-family: 'DejaVu Sans', 'Liberation Sans', sans-serif; text-anchor: middle" x="372.767813" y="93.03" transform="rotate(-90 372.767813 93.03)">Load (MWmed)</text>
    </g>
   </g>
   <g id="line2d_57">
    <path d="M 417.66 83.27 L 417.88 84.02 L 418.32 140.63 L 418.53 89.4 L 418.75 77.88 L 418.97 76.62 L 419.19 136.61 L 419.41 59.97 L 419.63 105.74 L 419.85 127.95 L 420.07 75.43 L 420.28 62.28 L 420.5 69.13 L 420.72 67.29 L 420.94 61.18 L 421.38 124.79 L 421.6 131.08 L 421.82 73.53 L 422.03 73.04 L 422.47 76.32 L 422.91 123.22 L 423.13 82.43 L 423.35 65.2 L 423.56 67.59 L 423.78 76.9 L 424 67.6 L 424.44 122.25 L 424.66 129.07 L 424.88 74.33 L 425.1 73.68 L 425.53 60.68 L 425.97 122.86 L 426.19 123.54 L 426.41 75.4 L 426.63 73.96 L 426.85 63.07 L 427.06 74.77 L 427.5 115.37 L 427.72 78.3 L 427.94 74.91 L 428.16 51.93 L 428.38 75.97 L 428.59 76.16 L 428.81 100 L 429.03 143.65 L 429.25 81.76 L 429.69 70.23 L 429.91 75.8 L 430.13 77.69 L 430.56 133.71 L 430.78 87.26 L 431 84.12 L 431.22 138.62 L 431.44 82.39 L 431.66 79.23 L 432.09 133.39 L 432.31 70.23 L 432.53 73.02 L 432.75 130.58 L 432.97 72.56 L 433.19 48.81 L 433.62 120.93 L 433.84 78.38 L 434.28 72.14 L 434.5 75.12 L 434.72 68.22 L 435.16 140.63 L 435.37 91.98 L 435.59 90.21 L 436.03 97.69 L 436.25 100.22 L 436.69 145.6 L 437.12 99.93 L 437.56 155.21 L 437.78 125.52 L 438.22 154.77 L 438.44 130.18 L 438.65 125.46 L 438.87 125.38 L 439.09 124.3 L 439.31 120.72 L 439.75 159.82 L 439.97 165.57 L 440.19 125.2 L 440.4 123.39 L 440.62 124.08 L 440.84 120.53 L 441.28 159.18 L 441.5 126.92 L 441.72 159.74 L 441.94 112.48 L 442.15 115.43 L 442.37 115.65 L 442.81 155.32 L 443.03 123.81 L 443.68 107.25 L 444.34 154.86 L 444.56 123.99 L 444.78 164.77 L 445 119.41 L 445.22 121.97 L 445.43 121.57 L 445.87 161.37 L 446.09 111.48 L 446.31 115.66 L 446.53 112.03 L 446.75 119.34 L 446.97 116.4 L 447.4 162.91 L 447.62 124.21 L 448.06 113.05 L 448.28 110.47 L 448.5 112.33 L 448.71 166.27 L 448.93 164.08 L 449.15 129.2 L 449.59 122.12 L 449.81 122.68 L 450.03 114.76 L 450.46 164.37 L 450.68 126.97 L 450.9 122.02 L 451.12 112.48 L 451.34 122.56 L 451.56 120.68 L 452 162.86 L 452.21 125.47 L 452.65 113.49 L 452.87 114.02 L 453.09 121.59 L 453.53 161.59 L 453.74 169.79 L 453.96 123.86 L 454.18 123.09 L 454.4 126.81 L 454.62 124.3 L 455.06 161.11 L 455.28 126.29 L 455.49 125.09 L 455.71 122.75 L 455.93 114.49 L 456.15 115.83 L 456.59 161.64 L 456.81 126.22 L 457.03 121.46 L 457.24 121.56 L 457.46 121.22 L 457.68 119.53 L 458.12 162.75 L 458.34 124.98 L 458.56 116.44 L 458.77 112.98 L 458.99 116.56 L 459.21 117.72 L 459.65 162.34 L 459.87 121.89 L 460.09 118.79 L 460.31 119.38 L 460.52 118.37 L 460.74 110.97 L 461.18 164.77 L 461.4 122.96 L 461.62 110.96 L 461.84 116.45 L 462.06 116.93 L 462.27 111.78 L 462.71 162.49 L 462.93 122.73 L 463.15 116.56 L 463.37 119.21 L 463.59 109.47 L 463.8 118.78 L 464.24 164.26 L 464.46 122.65 L 464.9 116.16 L 465.12 117.27 L 465.34 120.45 L 465.77 162.84 L 465.99 123.47 L 466.21 109.06 L 466.43 118.73 L 466.65 106.95 L 466.87 118.16 L 467.3 163.76 L 467.52 121.3 L 467.74 116.53 L 467.96 115.31 L 468.18 116.61 L 468.4 113.09 L 468.83 159.87 L 469.05 118.19 L 469.27 160.74 L 469.49 114.87 L 469.93 110.05 L 470.37 155.64 L 470.58 116.18 L 470.8 155.52 L 471.02 110.22 L 471.24 109.54 L 471.46 112.37 L 471.9 154.11 L 472.12 114.51 L 472.33 105.44 L 472.55 111.34 L 472.77 103.57 L 472.99 109.12 L 473.43 154.72 L 473.65 113.09 L 473.86 105.39 L 474.08 104.73 L 474.3 106.87 L 474.52 105.9 L 474.96 152.42 L 475.18 158.73 L 475.4 104.93 L 475.61 104.27 L 475.83 104.21 L 476.05 103.29 L 476.49 152.34 L 476.71 107.49 L 477.15 99.09 L 477.36 100.31 L 477.58 81.49 L 477.8 126.79 L 478.02 146.23 L 478.24 103.61 L 478.46 84.61 L 478.68 98.52 L 478.89 84.47 L 479.11 97.31 L 479.77 159.03 L 479.99 98.02 L 480.21 96.44 L 480.43 99.71 L 480.64 99.01 L 481.08 148.4 L 481.3 102.08 L 481.52 97.18 L 481.74 84.3 L 481.96 96.12 L 482.18 99.58 L 482.61 148.69 L 482.83 105.92 L 483.05 98.07 L 483.27 99.25 L 483.49 91.27 L 483.71 99.34 L 484.14 147.45 L 484.36 155.72 L 484.58 94.33 L 484.8 94 L 485.02 87.46 L 485.24 95.48 L 485.67 140.85 L 485.89 95.77 L 486.33 86.32 L 486.55 85.97 L 486.77 90.8 L 487.21 139.63 L 487.42 84.81 L 487.64 87.96 L 487.86 88.29 L 488.08 88.11 L 488.3 88.09 L 488.74 140.13 L 488.95 93.51 L 489.17 74.86 L 489.39 88.23 L 489.61 86.04 L 489.83 65.4 L 490.27 132.06 L 490.49 92.78 L 490.7 83.42 L 490.92 87.31 L 491.14 84.22 L 491.36 84.6 L 492.02 148.68 L 492.24 88.64 L 492.67 87.33 L 492.89 69.93 L 493.33 131.06 L 493.55 93.55 L 493.77 87.92 L 493.98 89.65 L 494.2 90.19 L 494.42 91.26 L 494.86 140.05 L 495.08 86.32 L 495.3 94.19 L 495.52 92.35 L 495.73 84.23 L 495.95 147.67 L 496.17 119.81 L 496.39 144.58 L 496.61 98.3 L 496.83 90.67 L 497.05 87.72 L 497.27 78.12 L 497.48 83 L 497.7 156.22 L 497.92 130.16 L 498.14 83.13 L 498.58 68.22 L 499.01 75.04 L 499.45 120.75 L 499.89 56.35 L 500.11 76.35 L 500.55 78.83 L 500.98 125.17 L 501.2 83.49 L 501.42 126.56 L 501.64 81.15 L 501.86 80.05 L 502.08 78.34 L 502.51 129.36 L 502.73 87.89 L 502.95 79.75 L 503.17 83.57 L 503.39 133.6 L 503.61 70.63 L 504.04 132.84 L 504.26 86.89 L 504.48 83.8 L 504.7 82.49 L 504.92 66.71 L 505.36 110.4 L 505.58 140.13 L 505.79 90.26 L 506.01 81.27 L 506.23 84.23 L 506.45 84.38 L 506.67 81.02 L 507.11 134.06 L 507.33 134.6 L 507.54 81.01 L 507.76 81.76 L 507.98 79.35 L 508.2 81.9 L 508.64 132.38 L 508.86 84.62 L 509.07 78.97 L 509.29 55.95 L 509.51 59.13 L 509.73 76.23 L 510.17 128.47 L 510.39 80.82 L 510.61 74.19 L 511.04 72.68 L 511.26 74.63 L 511.7 127.28 L 511.92 133.09 L 512.14 76.74 L 512.36 75.12 L 512.57 66.76 L 512.79 75.7 L 513.23 123.87 L 513.45 80.15 L 513.67 77.01 L 513.89 57.96 L 514.1 74.23 L 514.32 76.06 L 514.76 123.77 L 514.98 82.07 L 515.2 67.22 L 515.42 76.19 L 515.64 78.34 L 515.85 69.22 L 516.29 129.57 L 516.51 85.51 L 516.73 79.86 L 517.39 84.07 L 517.6 105.73 L 517.82 143.45 L 518.04 90.84 L 518.48 84.12 L 518.7 86.2 L 518.92 73.45 L 519.35 129.1 L 519.57 90.11 L 519.79 79.79 L 520.01 86.31 L 520.23 88.93 L 520.45 89.59 L 520.88 134.16 L 521.1 93.92 L 521.32 136.61 L 521.54 84.21 L 521.76 92.54 L 521.98 93.09 L 522.42 137.21 L 522.63 98.51 L 522.85 82.87 L 523.07 93.56 L 523.29 97.87 L 523.51 85.54 L 523.95 141.64 L 524.16 101.04 L 524.38 97.76 L 524.6 83.3 L 524.82 97.16 L 525.04 98.57 L 525.48 147.77 L 525.7 105.08 L 525.91 150.39 L 526.13 97.71 L 526.35 100.87 L 526.57 98 L 527.01 150.71 L 527.23 106.89 L 527.45 97.65 L 527.66 101.17 L 527.88 91.34 L 528.1 101.77 L 528.54 151.43 L 528.76 105.43 L 528.98 152.7 L 529.19 93.82 L 529.41 93.12 L 529.63 99.22 L 530.07 151.22 L 530.29 106.89 L 530.51 101.08 L 530.73 99.02 L 530.94 100.08 L 531.16 99.34 L 531.6 150.56 L 531.82 107.21 L 532.04 100.32 L 532.48 95.36 L 532.69 98.79 L 533.13 148.81 L 533.35 154.71 L 533.57 101.66 L 533.79 100.76 L 534.01 98.95 L 534.22 101.73 L 534.66 147.32 L 534.88 92.85 L 535.1 100.92 L 535.32 147.67 L 535.54 98.27 L 535.76 99.02 L 536.19 145.61 L 536.41 94.36 L 536.63 98.82 L 536.85 100.8 L 537.07 99.88 L 537.29 93.89 L 537.72 144.76 L 537.94 150.19 L 538.16 100.19 L 538.38 100.25 L 538.6 97.23 L 538.82 96.4 L 539.25 144.55 L 539.47 101.96 L 539.69 96.02 L 539.91 94.24 L 540.13 87.82 L 540.35 92.05 L 540.79 143.71 L 541 100.61 L 541.22 86.82 L 541.44 95.49 L 541.66 98.88 L 541.88 97.61 L 542.1 146.16 L 542.32 144.45 L 542.54 103.96 L 542.75 99.51 L 542.97 101.92 L 543.19 100.94 L 543.41 91.34 L 543.85 144.92 L 544.07 105.16 L 544.28 93.44 L 544.72 101.55 L 544.94 101.04 L 545.38 144.51 L 545.6 148.48 L 545.82 95.98 L 546.03 91.85 L 546.47 97.88 L 546.91 142.76 L 547.13 101.41 L 547.35 94.97 L 547.57 143.65 L 547.78 86.99 L 548 85.11 L 548.44 140.26 L 548.66 97.33 L 548.88 94.48 L 549.1 95.14 L 549.31 92.77 L 549.53 87.82 L 549.97 145.97 L 550.19 147.17 L 550.41 96.51 L 550.85 96.2 L 551.06 94.86 L 551.5 147.09 L 551.72 103.7 L 551.94 100.78 L 552.16 99.8 L 552.38 94.15 L 552.6 98.12 L 553.03 150.69 L 553.25 104.29 L 553.47 100.92 L 553.69 100.3 L 553.91 100.24 L 554.13 94.84 L 554.56 147.17 L 554.78 102.77 L 555.22 91.34 L 555.44 95.95 L 555.66 97.83 L 556.09 142.48 L 556.31 104.42 L 556.53 99.37 L 556.75 78.98 L 556.97 97.82 L 557.19 100.86 L 557.63 146.67 L 557.84 106.67 L 558.06 103.25 L 558.28 90.64 L 558.5 99.15 L 558.72 100.51 L 559.16 156.67 L 559.37 158.73 L 559.59 97.03 L 559.81 96.35 L 560.03 97.64 L 560.25 96.05 L 560.69 156.86 L 560.91 160.54 L 561.12 93 L 561.34 92.43 L 561.56 89.64 L 561.78 83.74 L 562.22 153.1 L 562.44 152.7 L 562.66 83.3 L 562.87 88.25 L 563.09 85.91 L 563.31 89.42 L 563.75 137.62 L 563.97 82.29 L 564.4 86.74 L 564.62 86.91 L 564.84 70.73 L 565.06 114.46 L 565.28 134.86 L 565.5 92.11 L 565.72 87.12 L 565.94 85.97 L 566.15 85.68 L 566.37 84.62 L 566.81 135.62 L 567.03 85.57 L 567.25 137.62 L 567.47 79.88 L 567.69 73.24 L 567.9 75.83 L 568.34 134.36 L 568.56 83.32 L 568.78 135.61 L 569 72.34 L 569.22 70.03 L 569.43 76.89 L 569.65 125.55 L 569.87 124.7 L 570.09 84.89 L 570.31 72.42 L 570.53 79.8 L 570.97 72.54 L 571.4 120.85 L 571.62 121.53 L 571.84 84.07 L 572.06 84.65 L 572.28 82.51 L 572.5 77.55 L 572.93 116.53 L 573.15 59.17 L 573.37 66.99 L 573.59 68.12 L 573.81 65.75 L 574.03 57.36 L 574.46 120.47 L 574.68 121.53 L 574.9 71.87 L 575.12 73.3 L 575.34 69.22 L 575.56 70.57 L 576 145.16 L 576.21 91.24 L 576.65 93.61 L 576.87 96.59 L 577.09 91.97 L 577.31 134.6 L 577.53 132.97 L 577.75 96.06 L 577.96 90.25 L 578.18 70.03 L 578.4 89.96 L 578.62 73.65 L 579.06 131.75 L 579.28 133.09 L 579.49 75.1 L 579.71 69.14 L 579.93 66.24 L 580.15 115.5 L 580.37 87.13 L 580.59 112.58 L 580.81 64.43 L 581.03 56.29 L 581.24 56.54 L 581.46 56.28 L 581.68 34.03 L 582.12 113.19 L 582.34 60.75 L 582.56 55.3 L 582.78 57.99 L 582.99 120.53 L 583.21 34.03 L 583.65 123.28 L 583.87 134.4 L 584.09 54.44 L 584.52 58.95 L 584.74 49.11 L 585.18 128.57 L 585.4 70.63 L 585.62 54.46 L 585.84 66.36 L 586.06 56.55 L 586.27 69.2 L 586.71 115.5 L 586.93 72.24 L 587.15 59.17 L 587.37 64.82 L 587.81 61.34 L 588.24 110.47 L 588.46 52.13 L 588.68 60.37 L 589.12 57.92 L 589.34 61.71 L 589.77 105.86 L 589.99 51.63 L 590.21 55.05 L 590.43 62.77 L 590.65 65.31 L 590.87 55.64 L 591.3 105.04 L 591.52 69.53 L 591.74 106.45 L 591.96 68.13 L 592.18 67.2 L 592.4 54.95 L 592.84 140.63 L 593.05 78.22 L 593.27 64.23 L 593.49 65.2 L 593.71 71.94 L 593.93 66.21 L 594.15 143.65 L 594.37 142.48 L 594.58 86.77 L 594.8 77.19 L 595.02 84.1 L 595.24 85.81 L 595.46 90.46 L 595.9 145.11 L 596.12 154.71 L 596.33 90.87 L 596.55 86.69 L 596.77 86.82 L 596.99 93.98 L 597.43 143.21 L 597.65 104.17 L 597.87 100.55 L 598.08 98.99 L 598.3 99.2 L 598.52 99.81 L 598.96 147.15 L 599.18 148.68 L 599.4 102.17 L 599.61 102.24 L 599.83 104.61 L 600.05 102.94 L 600.49 154.06 L 600.71 164.26 L 600.93 105.01 L 601.36 108.01 L 601.58 105.51 L 602.02 153.52 L 602.24 154.21 L 602.46 95.88 L 602.68 106.08 L 602.9 105.81 L 603.11 84.02 L 603.33 131.96 L 603.55 151.66 L 603.77 112.62 L 603.99 105.95 L 604.21 89.1 L 604.43 91.42 L 605.3 168.79 L 605.52 109.74 L 605.74 107.7 L 605.96 108.73 L 606.18 106.03 L 606.61 148.91 L 606.83 149.68 L 607.05 106.42 L 607.27 104.85 L 607.49 96.19 L 607.71 96.58 L 608.14 148.31 L 608.36 149.18 L 608.58 98.4 L 608.8 98.62 L 609.02 99.17 L 609.24 99.23 L 609.67 148.27 L 609.89 92.56 L 610.11 94.05 L 610.33 101.09 L 610.55 98.25 L 610.77 93.57 L 611.21 152.7 L 611.42 105.92 L 611.64 100.38 L 611.86 100.24 L 612.08 102.15 L 612.3 98.22 L 612.74 154.21 L 612.96 112.86 L 613.17 106.43 L 613.39 106.18 L 613.61 105.31 L 613.83 101.11 L 614.27 148.18 L 614.49 110.03 L 614.7 148.68 L 614.92 98.73 L 615.14 97.03 L 615.36 94.07 L 615.8 148.05 L 616.02 108.72 L 616.24 104.67 L 616.45 106.06 L 616.89 102.85 L 617.33 146.09 L 617.55 107.16 L 617.77 98.28 L 617.99 94.85 L 618.2 148.68 L 618.42 93.95 L 618.86 146.18 L 619.08 105.09 L 619.3 99.69 L 619.52 99.52 L 619.73 101.99 L 619.95 91.26 L 620.39 147.35 L 620.61 108.92 L 620.83 101.1 L 621.05 101.22 L 621.27 149.68 L 621.48 101.36 L 621.92 148.66 L 622.14 105.95 L 622.36 99.04 L 622.58 98.68 L 622.8 99.28 L 623.02 92.56 L 623.45 148.29 L 623.67 105.33 L 623.89 152.7 L 624.11 99.6 L 624.33 101.85 L 624.55 90.55 L 624.98 149.76 L 625.2 110.28 L 625.42 107.51 L 625.64 100.19 L 625.86 106.18 L 626.08 104.13 L 626.51 153.59 L 626.73 166.27 L 626.95 107.55 L 627.17 110.41 L 627.39 110.73 L 627.61 109.12 L 628.05 155.6 L 628.26 157.73 L 628.48 107.19 L 628.7 108.72 L 629.14 105.34 L 629.58 149.92 L 629.79 99.1 L 630.01 104.63 L 630.23 104.63 L 630.67 97.8 L 631.11 147.55 L 631.33 155.21 L 631.54 105.34 L 631.76 94.07 L 631.98 102.88 L 632.2 105.65 L 632.64 150.35 L 632.86 111.21 L 633.29 99.53 L 633.51 106.45 L 633.73 100.01 L 634.17 150.77 L 634.39 111.35 L 634.61 163.76 L 634.82 107.88 L 635.26 104.57 L 635.7 149.02 L 635.92 110.15 L 636.14 107.21 L 636.36 107.1 L 636.57 105.22 L 636.79 108.14 L 637.23 153.36 L 637.45 162.25 L 637.67 108.59 L 637.89 107.17 L 638.11 108.34 L 638.32 99.1 L 638.76 159.66 L 638.98 114.97 L 639.2 110.43 L 639.42 160.74 L 639.64 108.92 L 639.85 112 L 640.29 159.27 L 640.51 113.58 L 640.73 103.44 L 640.95 100.1 L 641.17 103.07 L 641.39 103.44 L 641.82 159.27 L 642.04 159.74 L 642.26 107.29 L 642.48 107.73 L 642.7 109.66 L 642.92 94.57 L 643.35 145.62 L 643.57 110.92 L 643.79 111.12 L 644.01 109.18 L 644.45 108.34 L 644.67 125.36 L 644.88 158.73 L 645.1 107.09 L 645.54 94.36 L 645.76 101.23 L 645.98 97.52 L 646.2 142.65 L 646.42 140.99 L 646.63 92.35 L 646.85 95.95 L 647.07 90.62 L 647.29 95.51 L 647.51 95.58 L 647.95 136.04 L 648.17 98.35 L 648.38 81.79 L 648.6 81.75 L 648.82 90.78 L 649.04 87.99 L 649.48 133.14 L 649.7 139.13 L 649.91 84.25 L 650.13 84.11 L 650.35 80.84 L 650.57 75.76 L 651.01 127.84 L 651.23 127.56 L 651.45 74.86 L 651.88 62.69 L 652.1 66.37 L 652.54 117.86 L 652.76 76.35 L 652.98 60.17 L 653.2 65.43 L 653.41 76.1 L 653.63 75.47 L 654.07 130.58 L 654.29 72.24 L 654.73 85.42 L 654.94 85.28 L 655.16 82.29 L 655.6 137.96 L 655.82 148.68 L 656.04 99.71 L 656.26 97.18 L 656.48 89.79 L 656.69 95.88 L 657.13 138.89 L 657.35 103.07 L 657.57 91.34 L 657.79 92.93 L 658.01 91.02 L 658.23 83.76 L 658.66 138.62 L 658.88 79.55 L 659.1 63.19 L 659.32 65.59 L 659.54 69.39 L 659.76 66.98 L 660.19 126.56 L 660.41 74.55 L 660.63 61.68 L 660.85 67.85 L 661.07 66.63 L 661.29 66.25 L 661.72 119.84 L 661.94 120.53 L 662.16 62.7 L 662.6 47.61 L 662.82 60.59 L 663.26 107.57 L 663.47 61.53 L 663.69 55.84 L 663.91 53.73 L 664.13 53.9 L 664.35 52.16 L 664.79 114.08 L 665 57.32 L 665.22 130.58 L 665.44 52.11 L 665.66 45.09 L 665.88 49.06 L 666.32 122.87 L 666.54 59.74 L 666.75 54.18 L 666.97 55.5 L 667.19 38.56 L 667.63 89.34 L 667.85 133.08 L 668.07 70.39 L 668.29 154.51 L 668.5 69.54 L 668.72 77.75 L 668.94 80.21 L 669.38 131.67 L 669.6 134.6 L 669.82 76.5 L 670.03 66.07 L 670.25 64.08 L 670.47 68.63 L 670.91 132.17 L 671.13 74.47 L 671.35 65.75 L 671.57 65.24 L 671.78 133.09 L 672 64.23 L 672.44 125.91 L 672.66 70.12 L 672.88 59.78 L 673.1 59.67 L 673.32 121.53 L 673.53 59.3 L 673.97 118.41 L 674.19 51.13 L 674.41 55.11 L 674.63 51.12 L 674.85 58.21 L 675.06 50.12 L 675.5 123.45 L 675.72 126.56 L 675.94 61.34 L 676.16 59.17 L 676.38 63.36 L 676.6 63.96 L 677.03 140.89 L 677.25 143.65 L 677.47 62.77 L 677.69 73.54 L 677.91 74.31 L 678.13 79.23 L 678.56 142.16 L 678.78 90.04 L 679 152.7 L 679.22 82.02 L 679.44 85.87 L 679.66 72.24 L 680.09 134.2 L 680.31 93.85 L 680.53 91.75 L 680.75 86.32 L 680.97 91.72 L 681.19 85.65 L 681.63 144.54 L 681.84 154.71 L 682.06 95.55 L 682.28 96.1 L 682.5 92.8 L 682.72 94.26 L 683.16 138.62 L 683.59 81.82 L 683.81 93.85 L 684.03 91.86 L 684.25 78.77 L 684.69 139.59 L 684.91 98.88 L 685.12 82.61 L 685.34 90.4 L 685.56 92.88 L 685.78 89.33 L 686.22 141.36 L 686.44 151.49 L 686.66 81.17 L 686.87 89.73 L 687.09 89.54 L 687.31 90.76 L 687.75 133.14 L 687.97 93.72 L 688.19 81.1 L 688.41 91.38 L 688.62 88.64 L 688.84 77.77 L 689.28 135.51 L 689.5 95.6 L 689.72 136.11 L 689.94 88.64 L 690.15 82.29 L 690.37 86.4 L 690.81 136.84 L 691.03 96.06 L 691.25 139.63 L 691.47 93.18 L 691.9 94.1 L 692.34 136.66 L 692.56 100.84 L 692.78 94.05 L 693 95.45 L 693.22 81.79 L 693.44 86.96 L 693.87 141.15 L 694.09 98.27 L 694.31 151.19 L 694.53 94.75 L 694.75 92.23 L 694.97 84.81 L 695.4 147.43 L 695.62 102.16 L 695.84 149.18 L 696.06 96.78 L 696.28 93.85 L 696.5 88.76 L 696.93 141.32 L 697.15 100.96 L 697.37 96.91 L 697.81 94.03 L 698.03 82.29 L 698.47 139.07 L 698.68 139.63 L 698.9 95.39 L 699.12 94.07 L 699.34 97.84 L 699.56 91.34 L 700 142.31 L 700.21 155.72 L 700.43 96.16 L 700.65 97.87 L 700.87 89.66 L 701.09 98.16 L 701.53 140.23 L 701.75 140.63 L 701.96 92.95 L 702.18 89.34 L 702.4 89.57 L 702.62 81.29 L 703.06 136.78 L 703.28 91.34 L 703.5 88.58 L 703.71 136.61 L 703.93 86.9 L 704.15 77.77 L 704.59 138.71 L 704.81 93.35 L 705.03 85.53 L 705.24 87.02 L 705.46 86.63 L 705.68 83.12 L 706.12 137.13 L 706.34 95.67 L 706.56 157.22 L 706.78 92.53 L 706.99 81.42 L 707.21 91.91 L 707.65 138.71 L 707.87 95.73 L 708.09 141.64 L 708.31 86.09 L 708.53 71.23 L 708.74 86.66 L 709.18 137.28 L 709.4 91.4 L 709.84 80.28 L 710.27 88.37 L 710.71 139.3 L 710.93 98.04 L 711.15 96.1 L 711.37 141.14 L 711.59 94.42 L 711.81 94.15 L 712.24 138.26 L 712.46 97.59 L 712.68 89.62 L 712.9 150.69 L 713.12 84.84 L 713.34 78.73 L 713.77 132.85 L 713.99 80.97 L 714.21 133.6 L 714.43 73.18 L 714.65 74.22 L 714.87 63.19 L 715.09 96.19 L 715.3 109.64 L 715.52 75.74 L 715.74 68.59 L 715.96 69.24 L 716.18 64.68 L 716.4 64.7 L 716.84 133.6 L 717.05 83.72 L 717.27 76.34 L 717.49 73.75 L 717.71 80.3 L 717.93 80.45 L 718.37 127.21 L 718.59 87.04 L 718.8 134.1 L 719.02 88.72 L 719.24 89.61 L 719.46 92.54 L 719.46 92.54 " clip-path="url(#pbef98081dc)" style="fill: none; stroke: #000000; stroke-width: 1.6; stroke-linecap: square"/>
   </g>
   <g id="line2d_58">
    <path d="M 417.66 124.04 L 417.88 119.62 L 418.53 101.53 L 419.19 89.16 L 419.63 85.02 L 419.85 85.05 L 420.07 85.65 L 420.72 88.99 L 421.16 91.05 L 421.38 91.6 L 421.6 91.66 L 421.82 91.42 L 422.25 90.36 L 423.78 85.63 L 424.66 84.63 L 425.53 84.01 L 426.63 83.51 L 426.85 83.3 L 427.28 82.22 L 427.72 81.08 L 427.94 80.86 L 428.16 81.38 L 428.59 84.79 L 429.69 96.65 L 430.13 100.45 L 430.56 101.54 L 430.78 101.84 L 431 101.87 L 431.22 100.76 L 431.88 93.05 L 432.53 85.07 L 433.19 77.55 L 433.41 76.46 L 433.62 76.59 L 433.84 78.01 L 434.28 83.32 L 434.72 90.24 L 435.59 112.42 L 436.03 115.87 L 436.69 118.07 L 437.12 119.64 L 437.56 122.64 L 438.65 133.31 L 439.31 136.19 L 439.75 137.11 L 439.97 136.95 L 440.4 135.29 L 441.94 127.71 L 442.37 125.94 L 442.59 125.42 L 442.81 125.24 L 443.03 125.46 L 443.47 126.83 L 444.34 130.44 L 444.56 130.95 L 444.78 131.1 L 445 130.97 L 445.43 130.21 L 446.75 127.19 L 446.97 127.05 L 447.18 127.1 L 447.62 127.61 L 448.93 129.89 L 449.15 130.04 L 449.37 130.02 L 449.81 129.51 L 450.9 127.52 L 451.12 127.36 L 451.34 127.46 L 451.56 128.02 L 452 130.16 L 452.87 135.13 L 453.09 135.83 L 453.31 136.07 L 453.53 135.84 L 453.96 134.4 L 455.28 128.42 L 455.49 128.11 L 455.71 128.15 L 456.15 128.71 L 457.24 130.68 L 457.46 130.8 L 457.68 130.75 L 458.12 130.29 L 458.99 128.63 L 459.65 127.59 L 460.31 127.13 L 462.27 126.06 L 463.8 124.51 L 464.24 124.56 L 464.9 125.06 L 465.55 125.51 L 465.99 125.52 L 466.65 125.25 L 467.74 124.45 L 468.18 123.84 L 469.05 121.95 L 469.71 120.69 L 470.15 120.29 L 471.9 120.22 L 472.33 119.52 L 473.86 115.81 L 474.08 115.78 L 474.3 116 L 475.4 117.99 L 475.61 117.93 L 475.83 117.35 L 476.27 114.95 L 477.36 107.61 L 477.58 106.91 L 477.8 106.75 L 478.02 107.16 L 478.46 109.21 L 479.55 116.18 L 479.77 116.96 L 479.99 117.27 L 480.21 117 L 480.64 114.98 L 481.3 109.9 L 481.96 104.93 L 482.39 103.13 L 482.61 103.02 L 482.83 103.74 L 483.27 107.15 L 484.14 115.33 L 484.36 116.32 L 484.58 116.45 L 484.8 115.69 L 485.24 112.27 L 486.33 101 L 486.55 99.72 L 486.77 99.2 L 487.42 98.89 L 488.3 98.62 L 488.52 98.48 L 488.74 98.15 L 489.17 96.42 L 490.05 91.9 L 490.27 91.21 L 490.49 90.94 L 490.7 91.29 L 491.14 93.79 L 492.02 100.07 L 492.24 100.68 L 492.45 100.46 L 492.67 99.38 L 493.77 90.83 L 493.98 90.51 L 494.2 91.35 L 494.64 95.92 L 495.73 111.12 L 496.83 120.49 L 497.05 121.46 L 497.27 121.77 L 497.48 120.38 L 497.92 112.76 L 498.8 96.15 L 499.45 84.53 L 499.67 82.01 L 499.89 80.77 L 500.11 80.96 L 500.33 82 L 500.76 85.65 L 501.42 91.64 L 501.64 92.86 L 502.3 94.26 L 502.95 95.15 L 503.39 95.43 L 503.61 95.44 L 503.83 95.22 L 504.26 94.25 L 504.92 92.67 L 505.14 92.45 L 505.36 92.53 L 505.79 93.41 L 506.67 95.87 L 506.89 96.16 L 507.11 96.12 L 507.33 95.47 L 507.76 92.78 L 508.86 84.45 L 509.07 83.63 L 509.29 83.43 L 509.51 83.79 L 509.95 85.45 L 510.39 87.27 L 510.61 87.82 L 510.82 87.9 L 511.04 87.52 L 511.48 85.83 L 512.14 82.82 L 512.36 82.17 L 512.57 81.9 L 513.67 81.55 L 514.54 81.48 L 514.76 82.01 L 515.2 84.76 L 516.51 96.62 L 517.39 105.27 L 517.6 106.39 L 517.82 106.73 L 518.04 106.06 L 518.48 102.3 L 519.35 92.62 L 519.57 91.3 L 519.79 90.95 L 520.01 91.47 L 520.45 94.1 L 521.32 100.36 L 522.42 106.18 L 522.63 106.67 L 522.85 106.72 L 523.29 106.45 L 524.6 105.24 L 524.82 105.26 L 525.26 105.77 L 526.79 108.58 L 528.98 110.88 L 529.63 112.55 L 530.73 115.48 L 531.16 116.03 L 531.38 116.05 L 531.6 115.89 L 532.04 115.18 L 533.79 111.33 L 534.01 111.25 L 534.44 111.4 L 535.1 111.98 L 535.97 112.69 L 536.41 112.74 L 537.07 112.48 L 537.72 112.02 L 537.94 111.76 L 538.38 110.71 L 539.04 108.28 L 539.91 104.92 L 540.35 103.8 L 540.57 103.51 L 540.79 103.43 L 541 103.53 L 541.44 104.07 L 542.97 106.72 L 544.28 107.54 L 544.94 107.76 L 545.38 107.76 L 545.82 107.26 L 546.47 105.76 L 547.57 102.95 L 548 102.33 L 548.22 102.22 L 548.44 102.36 L 548.88 103.48 L 551.94 114.63 L 552.38 115.5 L 552.6 115.72 L 552.81 115.75 L 553.03 115.51 L 553.47 114.34 L 554.34 110.63 L 555 108.23 L 556.53 104.34 L 556.75 104.1 L 556.97 104.03 L 557.19 104.38 L 557.63 106.44 L 560.03 122.04 L 560.47 123.25 L 560.69 123.18 L 560.91 122.64 L 561.34 120.52 L 564.19 102.67 L 565.06 98.6 L 565.72 95.92 L 566.15 95.03 L 566.37 95.02 L 566.81 95.38 L 567.47 96.09 L 567.69 96.2 L 567.9 96.08 L 568.12 95.53 L 568.56 93.52 L 569.65 87.74 L 569.87 87.26 L 570.09 87.19 L 570.53 87.39 L 571.4 87.92 L 571.62 87.87 L 571.84 87.48 L 572.28 85.89 L 573.81 78.42 L 574.03 77.96 L 574.25 77.88 L 574.46 78.62 L 574.9 82.36 L 576.21 98.74 L 576.65 104.7 L 576.87 106.52 L 577.09 107.02 L 577.31 106.34 L 577.75 102.65 L 578.84 88.28 L 579.71 72.84 L 580.37 62.83 L 581.24 55.68 L 581.68 53.43 L 581.9 52.93 L 582.12 53.13 L 582.34 54.7 L 582.78 60.58 L 583.43 70.01 L 584.52 79.34 L 584.74 80.39 L 584.96 80.85 L 585.4 80.74 L 585.84 80.37 L 586.49 79.47 L 587.37 77.88 L 587.81 76.23 L 589.12 69.99 L 589.34 69.53 L 589.55 69.43 L 589.99 69.57 L 590.43 69.92 L 591.09 70.77 L 591.52 71.56 L 591.74 72.45 L 592.18 75.57 L 595.02 101.09 L 596.12 107.87 L 596.55 109.33 L 596.77 109.44 L 597.43 109.28 L 598.3 109.01 L 598.52 109 L 598.74 109.6 L 599.18 112.91 L 600.05 120.6 L 600.71 124.33 L 600.93 124.98 L 601.15 124.96 L 601.36 123.89 L 601.8 119.46 L 602.68 109.45 L 602.9 108.37 L 603.11 108.35 L 603.33 109.1 L 603.77 112.15 L 604.86 121.43 L 605.08 122.31 L 605.3 122.52 L 605.52 122.28 L 605.96 121.02 L 606.83 116.94 L 607.49 114.28 L 609.24 109.42 L 609.67 109 L 609.89 109.05 L 610.11 109.34 L 610.55 110.46 L 612.3 115.97 L 612.96 117.72 L 613.39 118.29 L 613.61 118.27 L 613.83 117.92 L 614.27 116.48 L 615.36 112.08 L 615.58 111.65 L 615.8 111.55 L 616.45 111.76 L 617.11 111.99 L 617.33 111.98 L 617.55 111.79 L 617.99 110.94 L 619.08 108.17 L 619.3 107.88 L 619.52 107.79 L 619.73 107.89 L 620.17 108.47 L 621.48 110.83 L 621.7 110.94 L 622.14 110.85 L 622.8 110.41 L 623.67 109.81 L 624.11 109.77 L 624.55 110.25 L 624.98 111.11 L 625.2 111.74 L 625.64 114.37 L 626.51 121 L 626.73 122.04 L 626.95 122.52 L 627.17 122.45 L 627.61 121.68 L 628.26 119.55 L 629.14 116.56 L 629.58 115.73 L 630.45 114.81 L 630.89 114.58 L 631.33 114.59 L 631.98 114.89 L 632.86 115.63 L 633.08 115.86 L 633.51 116.86 L 634.39 119.49 L 634.61 119.86 L 634.82 119.97 L 635.26 119.69 L 636.57 118.06 L 636.79 118.02 L 637.01 118.2 L 637.45 119.13 L 638.11 121.45 L 638.98 124.7 L 639.42 125.73 L 639.64 125.96 L 639.85 125.94 L 640.07 125.54 L 640.51 123.8 L 641.17 119.75 L 642.04 114.34 L 642.48 112.75 L 642.7 112.46 L 642.92 112.75 L 643.14 113.85 L 643.79 119.64 L 644.23 123.09 L 644.45 123.94 L 644.67 123.95 L 644.88 123.41 L 645.32 121.14 L 647.07 109.54 L 650.13 92.21 L 651.01 86.93 L 651.88 83.42 L 652.32 82.07 L 652.76 81.47 L 652.98 82.08 L 653.41 87.48 L 654.29 102.15 L 655.82 118.61 L 656.04 119.63 L 656.26 119.97 L 656.48 119.63 L 656.91 117.4 L 657.57 111.51 L 659.54 92.11 L 660.63 82 L 662.6 68.51 L 663.04 67.11 L 663.26 66.87 L 663.47 66.99 L 663.91 67.97 L 664.57 69.69 L 664.79 69.88 L 665 69.72 L 665.44 68.68 L 666.1 67.01 L 666.32 66.88 L 666.54 67.86 L 666.97 73.23 L 668.94 102.92 L 669.16 102.61 L 669.38 101.18 L 670.03 93.49 L 670.47 88.85 L 671.57 81.73 L 672.44 77.23 L 673.97 70.8 L 674.41 69.94 L 674.63 69.91 L 674.85 70.3 L 675.28 72.16 L 675.94 76.73 L 676.81 84.6 L 677.91 100.23 L 678.13 101.81 L 678.35 102.22 L 678.78 102.03 L 679.66 101.49 L 679.88 101.55 L 680.09 102.43 L 680.53 106.3 L 681.41 115.32 L 681.63 116.35 L 681.84 116.43 L 682.06 115.74 L 682.5 112.76 L 683.59 103.42 L 683.81 102.49 L 684.03 102.23 L 684.25 102.47 L 684.69 103.71 L 685.56 106.53 L 685.78 106.73 L 686 106.45 L 686.44 104.39 L 687.53 96.95 L 687.97 95.7 L 688.62 94.44 L 689.06 94 L 689.28 93.96 L 689.5 94.33 L 689.94 96.4 L 691.25 104.73 L 691.47 105.21 L 692.12 105.51 L 693.65 105.93 L 693.87 106.09 L 694.31 106.83 L 694.97 108.06 L 695.18 108.23 L 695.4 108.18 L 695.62 107.9 L 696.06 106.82 L 696.93 103.59 L 697.59 101.37 L 698.03 100.53 L 698.25 100.42 L 698.47 100.65 L 698.9 102.19 L 700.21 108.63 L 700.43 108.97 L 700.65 108.86 L 700.87 108.28 L 701.31 106.09 L 702.62 98.08 L 703.5 95.95 L 704.15 94.9 L 704.59 94.71 L 704.81 95.16 L 705.24 97.47 L 706.56 106.36 L 706.78 106.73 L 706.99 106.54 L 707.21 105.94 L 707.65 103.8 L 709.18 94.86 L 709.4 94.44 L 709.62 94.51 L 709.84 95.2 L 710.27 98 L 711.59 109.13 L 711.81 110.1 L 712.02 110.49 L 712.24 110.07 L 712.46 108.74 L 712.9 104.2 L 713.77 93.49 L 714.65 87.24 L 715.3 83.67 L 715.52 82.99 L 715.74 82.68 L 715.96 82.79 L 716.18 83.32 L 716.62 85.25 L 718.15 93.44 L 719.46 98.88 L 719.46 98.88 " clip-path="url(#pbef98081dc)" style="fill: none; stroke: #2ca02c; stroke-width: 1.65; stroke-linecap: square"/>
   </g>
   <g id="patch_9">
    <path d="M 417.66 180.24 L 417.66 5.82 " style="fill: none; stroke: #000000; stroke-width: 0.8; stroke-linejoin: miter; stroke-linecap: square"/>
   </g>
   <g id="patch_10">
    <path d="M 719.46 180.24 L 719.46 5.82 " style="fill: none; stroke: #000000; stroke-width: 0.8; stroke-linejoin: miter; stroke-linecap: square"/>
   </g>
   <g id="patch_11">
    <path d="M 417.66 180.24 L 719.46 180.24 " style="fill: none; stroke: #000000; stroke-width: 0.8; stroke-linejoin: miter; stroke-linecap: square"/>
   </g>
   <g id="patch_12">
    <path d="M 417.66 5.82 L 719.46 5.82 " style="fill: none; stroke: #000000; stroke-width: 0.8; stroke-linejoin: miter; stroke-linecap: square"/>
   </g>
   <g id="text_34">
    <text style="font-size: 11px; font-family: 'DejaVu Sans', 'Liberation Sans', sans-serif; text-anchor: end" x="371.99766" y="8.69793" transform="rotate(-0 371.99766 8.69793)">b)</text>
   </g>
   <g id="legend_2">
    <g id="patch_13">
     <path d="M 424.66 44.3 L 495.79 44.3 Q 497.79 44.3 497.79 42.3 L 497.79 12.82 Q 497.79 10.82 495.79 10.82 L 424.66 10.82 Q 422.66 10.82 422.66 12.82 L 422.66 42.3 Q 422.66 44.3 424.66 44.3 z" style="fill: #ffffff; opacity: 0.8; stroke: #cccccc; stroke-linejoin: miter"/>
    </g>
    <g id="line2d_59">
     <path d="M 426.66 18.92 L 436.66 18.92 L 446.66 18.92 " style="fill: none; stroke: #000000; stroke-width: 1.8; stroke-linecap: square"/>
    </g>
    <g id="text_35">
     <text style="font-size: 10px; font-family: 'DejaVu Sans', 'Liberation Sans', sans-serif; text-anchor: start" x="454.66" y="22.418438" transform="rotate(-0 454.66 22.418438)">Original</text>
    </g>
    <g id="line2d_60">
     <path d="M 426.66 33.6 L 436.66 33.6 L 446.66 33.6 " style="fill: none; stroke: #2ca02c; stroke-width: 1.8; stroke-linecap: square"/>
    </g>
    <g id="text_36">
     <g transform="translate(454.66 37.096563)">
      <text><tspan x="0" y="-0.578125" style="font-style: oblique; font-size: 10px; font-family: 'DejaVu Sans', 'Liberation Sans', sans-serif">p</tspan><tspan x="6.347656" y="-0.578125" style="font-size: 10px; font-family: 'DejaVu Sans', 'Liberation Sans', sans-serif">=19</tspan></text>
     </g>
    </g>
   </g>
  </g>
  <g id="axes_3">
   <g id="patch_14">
    <path d="M 55.56 389.64 L 357.36 389.64 L 357.36 215.22 L 55.56 215.22 z" style="fill: #ffffff"/>
   </g>
   <g id="FillBetweenPolyCollection_3">
    <g clip-path="url(#pf24fb3e073)">
     <path d="M 55.56 -123.37 L 55.56 -77.95 L 56.43 -86.62 L 57.31 -89.78 L 58.18 -89.78 L 59.06 -91.35 L 59.93 -91.35 L 60.81 -92.31 L 61.68 -92.31 L 62.56 -92.31 L 63.43 -99.2 L 64.31 -99.2 L 65.18 -99.2 L 66.06 -99.2 L 66.93 -99.2 L 67.81 -80.85 L 68.68 -81.17 L 69.56 -83.98 L 70.43 -93.64 L 71.31 -93.64 L 72.18 -93.64 L 73.06 -93.64 L 73.93 -73.93 L 74.81 -73.93 L 75.68 -68.96 L 76.55 -59.8 L 77.43 -59.8 L 78.3 -59.8 L 79.18 -59.24 L 80.05 -59.71 L 80.93 -59.71 L 81.8 -59.71 L 82.68 -59.71 L 83.55 -53.19 L 84.43 -53.19 L 85.3 -53.19 L 86.18 -51.66 L 87.05 -51.66 L 87.93 -51.7 L 88.8 -51.7 L 89.68 -52.97 L 90.55 -52.97 L 91.43 -53.45 L 92.3 -53.45 L 93.18 -53.45 L 94.05 -53.45 L 94.93 -53.45 L 95.8 -52.92 L 96.67 -52.92 L 97.55 -52.23 L 98.42 -52.23 L 99.3 -52.23 L 100.17 -52.07 L 101.05 -52.07 L 101.92 -52.07 L 102.8 -52.07 L 103.67 -51.73 L 104.55 -54.69 L 105.42 -54.69 L 106.3 -54.69 L 107.17 -58.93 L 108.05 -60.45 L 108.92 -60.45 L 109.8 -60.45 L 110.67 -62.15 L 111.55 -62.15 L 112.42 -62.23 L 113.3 -62.23 L 114.17 -68.33 L 115.05 -68.33 L 115.92 -68.33 L 116.79 -68.33 L 117.67 -68.33 L 118.54 -66.16 L 119.42 -66.16 L 120.29 -67.11 L 121.17 -67.11 L 122.04 -73.72 L 122.92 -74.93 L 123.79 -74.93 L 124.67 -74.93 L 125.54 -74.93 L 126.42 -82.5 L 127.29 -82.5 L 128.17 -83.82 L 129.04 -83.82 L 129.92 -83.82 L 130.79 -83.5 L 131.67 -83.5 L 132.54 -83.5 L 133.42 -83.5 L 134.29 -74.51 L 135.17 -93.81 L 136.04 -93.81 L 136.91 -93.81 L 137.79 -93.81 L 138.66 -93.81 L 139.54 -93.81 L 140.41 -88.01 L 141.29 -85.2 L 142.16 -81.72 L 143.04 -81.72 L 143.91 -81.72 L 144.79 -82.18 L 145.66 -82.18 L 146.54 -86.09 L 147.41 -87.28 L 148.29 -87.28 L 149.16 -90.7 L 150.04 -90.7 L 150.91 -90.79 L 151.79 -90.79 L 152.66 -90.79 L 153.54 -90.79 L 154.41 -90.79 L 155.29 -85.47 L 156.16 -85.47 L 157.03 -85.47 L 157.91 -85.47 L 158.78 -85.47 L 159.66 -80.4 L 160.53 -77.95 L 161.41 -77.36 L 162.28 -77.36 L 163.16 -72.92 L 164.03 -72.92 L 164.91 -64.18 L 165.78 -63.85 L 166.66 -63.85 L 167.53 -64 L 168.41 -64 L 169.28 -65.75 L 170.16 -65.75 L 171.03 -67.24 L 171.91 -67.24 L 172.78 -68.95 L 173.66 -69.81 L 174.53 -69.81 L 175.41 -70.01 L 176.28 -70.01 L 177.15 -70.85 L 178.03 -70.85 L 178.9 -70.85 L 179.78 -70.85 L 180.65 -70.85 L 181.53 -70.11 L 182.4 -70.11 L 183.28 -71.81 L 184.15 -71.81 L 185.03 -74.3 L 185.9 -74.3 L 186.78 -74.3 L 187.65 -74.3 L 188.53 -74.3 L 189.4 -67.47 L 190.28 -67.47 L 191.15 -67.47 L 192.03 -72.09 L 192.9 -72.09 L 193.78 -72.09 L 194.65 -72.09 L 195.53 -72.09 L 196.4 -67.9 L 197.27 -67.9 L 198.15 -61.47 L 199.02 -61.47 L 199.9 -76.95 L 200.77 -76.95 L 201.65 -79.71 L 202.52 -79.71 L 203.4 -79.71 L 204.27 -79.71 L 205.15 -79.71 L 206.02 -89.01 L 206.9 -89.87 L 207.77 -93.71 L 208.65 -93.71 L 209.52 -98.03 L 210.4 -98.03 L 211.27 -98.03 L 212.15 -98.03 L 213.02 -98.03 L 213.9 -93.03 L 214.77 -82.82 L 215.65 -82.82 L 216.52 -99.07 L 217.39 -101.99 L 218.27 -101.99 L 219.14 -101.99 L 220.02 -101.99 L 220.89 -101.37 L 221.77 -94.04 L 222.64 -99.07 L 223.52 -99.07 L 224.39 -104.09 L 225.27 -104.09 L 226.14 -108.7 L 227.02 -109.52 L 227.89 -109.52 L 228.77 -109.52 L 229.64 -109.52 L 230.52 -108.11 L 231.39 -108.11 L 232.27 -73.93 L 233.14 -72.08 L 234.02 -72.08 L 234.89 -71.35 L 235.77 -71.35 L 236.64 -71.35 L 237.51 -71.35 L 238.39 -65.89 L 239.26 -60.5 L 240.14 -62.9 L 241.01 -65.68 L 241.89 -65.68 L 242.76 -65.68 L 243.64 -65.68 L 244.51 -65.38 L 245.39 -65.38 L 246.26 -66.3 L 247.14 -66.3 L 248.01 -66.3 L 248.89 -66.3 L 249.76 -66.3 L 250.64 -66.38 L 251.51 -66.38 L 252.39 -66.51 L 253.26 -68.47 L 254.14 -68.47 L 255.01 -68.47 L 255.89 -68.47 L 256.76 -68.47 L 257.63 -68.38 L 258.51 -68.38 L 259.38 -67.22 L 260.26 -66.28 L 261.13 -66.28 L 262.01 -66.28 L 262.88 -64.8 L 263.76 -64.8 L 264.63 -64.8 L 265.51 -64.65 L 266.38 -64.65 L 267.26 -67.02 L 268.13 -67.02 L 269.01 -67.02 L 269.88 -67.02 L 270.76 -64.21 L 271.63 -64.21 L 272.51 -65.54 L 273.38 -65.54 L 274.26 -65.54 L 275.13 -65.54 L 276.01 -61.2 L 276.88 -55.3 L 277.75 -55.3 L 278.63 -55.3 L 279.5 -68.94 L 280.38 -68.94 L 281.25 -68.94 L 282.13 -71.92 L 283 -71.92 L 283.88 -78.53 L 284.75 -78.53 L 285.63 -81.42 L 286.5 -81.42 L 287.38 -86.73 L 288.25 -87 L 289.13 -96.7 L 290 -96.7 L 290.88 -96.7 L 291.75 -96.7 L 292.63 -96.7 L 293.5 -83.98 L 294.38 -76.6 L 295.25 -75.94 L 296.13 -88.01 L 297 -88.01 L 297.87 -94.72 L 298.75 -94.72 L 299.62 -106.99 L 300.5 -106.99 L 301.37 -106.99 L 302.25 -106.99 L 303.12 -106.99 L 304 -91.7 L 304.87 -91.7 L 305.75 -91.7 L 306.62 -81.48 L 307.5 -82.39 L 308.37 -82.39 L 309.25 -88.65 L 310.12 -93.03 L 311 -96.15 L 311.87 -96.15 L 312.75 -96.15 L 313.62 -96.15 L 314.5 -88.01 L 315.37 -88.01 L 316.25 -80.36 L 317.12 -80.36 L 317.99 -80.36 L 318.87 -80.36 L 319.74 -80.36 L 320.62 -75.94 L 321.49 -75.94 L 322.37 -75.94 L 323.24 -75.94 L 324.12 -81.43 L 324.99 -81.43 L 325.87 -81.43 L 326.74 -81.43 L 327.62 -81.43 L 328.49 -78.45 L 329.37 -78.45 L 330.24 -77.91 L 331.12 -77.91 L 331.99 -77.91 L 332.87 -73.41 L 333.74 -73.25 L 334.62 -75.5 L 335.49 -75.5 L 336.37 -75.5 L 337.24 -75.5 L 338.11 -74.94 L 338.99 -77.79 L 339.86 -77.79 L 340.74 -77.79 L 341.61 -77.79 L 342.49 -77.79 L 343.36 -77.43 L 344.24 -77.43 L 345.11 -77.43 L 345.99 -77.29 L 346.86 -77.29 L 347.74 -77.29 L 348.61 -77.29 L 349.49 -75.26 L 350.36 -80.97 L 351.24 -80.97 L 352.11 -104.93 L 352.99 -104.93 L 353.86 -104.93 L 354.74 -104.93 L 355.61 -87.36 L 356.49 -87.36 L 357.36 -87.36 L 357.36 -117.92 L 357.36 -117.92 L 356.49 -117.92 L 355.61 -119.59 L 354.74 -126.34 L 353.86 -132.89 L 352.99 -127.91 L 352.11 -127.91 L 351.24 -112.48 L 350.36 -112.48 L 349.49 -112.48 L 348.61 -112.48 L 347.74 -112.48 L 346.86 -125.22 L 345.99 -125.22 L 345.11 -123.51 L 344.24 -123.51 L 343.36 -123.51 L 342.49 -123.51 L 341.61 -123.51 L 340.74 -116.98 L 339.86 -116.98 L 338.99 -115.29 L 338.11 -115.29 L 337.24 -115.29 L 336.37 -115.29 L 335.49 -115.29 L 334.62 -117.88 L 333.74 -117.88 L 332.87 -117.88 L 331.99 -119.68 L 331.12 -112.89 L 330.24 -112.89 L 329.37 -112.89 L 328.49 -113.46 L 327.62 -113.46 L 326.74 -124.34 L 325.87 -125.47 L 324.99 -124.03 L 324.12 -124.03 L 323.24 -124.03 L 322.37 -124.03 L 321.49 -113.83 L 320.62 -113.83 L 319.74 -113.83 L 318.87 -113.83 L 317.99 -120.99 L 317.12 -120.99 L 316.25 -127.41 L 315.37 -127.41 L 314.5 -143.86 L 313.62 -143.86 L 312.75 -147.33 L 311.87 -146.96 L 311 -142.4 L 310.12 -141.4 L 309.25 -141.4 L 308.37 -137.1 L 307.5 -137.1 L 306.62 -137.1 L 305.75 -137.1 L 304.87 -137.1 L 304 -154.47 L 303.12 -154.47 L 302.25 -152.91 L 301.37 -152.91 L 300.5 -143.94 L 299.62 -143.94 L 298.75 -143.45 L 297.87 -143.45 L 297 -122.88 L 296.13 -115.62 L 295.25 -115.62 L 294.38 -115.62 L 293.5 -116.84 L 292.63 -116.84 L 291.75 -124.34 L 290.88 -134.4 L 290 -130.88 L 289.13 -125.8 L 288.25 -122.53 L 287.38 -122.53 L 286.5 -116.02 L 285.63 -114.29 L 284.75 -112.28 L 283.88 -99.54 L 283 -98.3 L 282.13 -98.3 L 281.25 -98.3 L 280.38 -98.3 L 279.5 -103.19 L 278.63 -97.72 L 277.75 -97.72 L 276.88 -97.72 L 276.01 -97.72 L 275.13 -99.47 L 274.26 -99.47 L 273.38 -101.42 L 272.51 -101.42 L 271.63 -102.06 L 270.76 -106.63 L 269.88 -107.11 L 269.01 -107.11 L 268.13 -101.3 L 267.26 -99.45 L 266.38 -99.08 L 265.51 -99.08 L 264.63 -99.08 L 263.76 -99.08 L 262.88 -102.51 L 262.01 -106.44 L 261.13 -107.59 L 260.26 -105.53 L 259.38 -105.53 L 258.51 -105.53 L 257.63 -105.53 L 256.76 -111.79 L 255.89 -103.79 L 255.01 -103.79 L 254.14 -103.79 L 253.26 -103.79 L 252.39 -105.53 L 251.51 -105.53 L 250.64 -105.53 L 249.76 -105.53 L 248.89 -108.41 L 248.01 -108.24 L 247.14 -108.24 L 246.26 -108.24 L 245.39 -100.6 L 244.51 -98.94 L 243.64 -98.94 L 242.76 -98.94 L 241.89 -98.94 L 241.01 -101.63 L 240.14 -101.63 L 239.26 -101.63 L 238.39 -101.63 L 237.51 -101.63 L 236.64 -104.4 L 235.77 -104.46 L 234.89 -107.64 L 234.02 -112.65 L 233.14 -119.95 L 232.27 -120.82 L 231.39 -129.45 L 230.52 -141.43 L 229.64 -142.41 L 228.77 -151 L 227.89 -151 L 227.02 -147.47 L 226.14 -147.47 L 225.27 -147.47 L 224.39 -147.47 L 223.52 -147.47 L 222.64 -152.17 L 221.77 -157.52 L 220.89 -157.52 L 220.02 -150.35 L 219.14 -140.4 L 218.27 -136.61 L 217.39 -136.61 L 216.52 -114.66 L 215.65 -114.66 L 214.77 -114.66 L 213.9 -114.66 L 213.02 -115.39 L 212.15 -137.41 L 211.27 -129.08 L 210.4 -129.08 L 209.52 -129.08 L 208.65 -129.08 L 207.77 -134.09 L 206.9 -133.39 L 206.02 -122.01 L 205.15 -122.01 L 204.27 -122.01 L 203.4 -122.01 L 202.52 -122.01 L 201.65 -123.34 L 200.77 -122.9 L 199.9 -113.64 L 199.02 -110.58 L 198.15 -110.28 L 197.27 -110.28 L 196.4 -110.28 L 195.53 -110.28 L 194.65 -115.29 L 193.78 -111.8 L 192.9 -111.8 L 192.03 -108.52 L 191.15 -108.52 L 190.28 -108.52 L 189.4 -111.77 L 188.53 -111.77 L 187.65 -111.77 L 186.78 -111.77 L 185.9 -111.67 L 185.03 -111.67 L 184.15 -110.66 L 183.28 -110.66 L 182.4 -110.66 L 181.53 -109.03 L 180.65 -109.03 L 179.78 -109.03 L 178.9 -109.03 L 178.03 -110.24 L 177.15 -110.24 L 176.28 -110.24 L 175.41 -110.24 L 174.53 -110.24 L 173.66 -112.28 L 172.78 -107.68 L 171.91 -107.68 L 171.03 -107.68 L 170.16 -107.62 L 169.28 -107.62 L 168.41 -107.62 L 167.53 -107.62 L 166.66 -107.62 L 165.78 -108.93 L 164.91 -108.93 L 164.03 -108.93 L 163.16 -108.93 L 162.28 -108.93 L 161.41 -121.1 L 160.53 -121.1 L 159.66 -120.32 L 158.78 -120.32 L 157.91 -120.32 L 157.03 -120.32 L 156.16 -122.57 L 155.29 -122.57 L 154.41 -122.57 L 153.54 -126.78 L 152.66 -137.41 L 151.79 -139.42 L 150.91 -133.96 L 150.04 -133.96 L 149.16 -133.96 L 148.29 -133.96 L 147.41 -127.29 L 146.54 -125.62 L 145.66 -125.61 L 144.79 -125.37 L 143.91 -125.37 L 143.04 -125.37 L 142.16 -125.37 L 141.29 -128.29 L 140.41 -127.8 L 139.54 -127.8 L 138.66 -127.8 L 137.79 -127.8 L 136.91 -128.51 L 136.04 -128.51 L 135.17 -122.41 L 134.29 -120.32 L 133.42 -118.71 L 132.54 -118.71 L 131.67 -118.71 L 130.79 -118.71 L 129.92 -122.03 L 129.04 -122.03 L 128.17 -122.41 L 127.29 -118.68 L 126.42 -118.68 L 125.54 -118.68 L 124.67 -118.68 L 123.79 -119.18 L 122.92 -115.37 L 122.04 -110.52 L 121.17 -110.52 L 120.29 -110.2 L 119.42 -110.2 L 118.54 -110.2 L 117.67 -110.2 L 116.79 -110.2 L 115.92 -107.54 L 115.05 -103.34 L 114.17 -101.91 L 113.3 -101.91 L 112.42 -101.91 L 111.55 -101.91 L 110.67 -97.1 L 109.8 -96.58 L 108.92 -96.58 L 108.05 -93.55 L 107.17 -93.55 L 106.3 -91.33 L 105.42 -91.33 L 104.55 -90.48 L 103.67 -90.48 L 102.8 -90.48 L 101.92 -90.48 L 101.05 -90.48 L 100.17 -94.86 L 99.3 -88.92 L 98.42 -88.92 L 97.55 -88.92 L 96.67 -87.1 L 95.8 -87.1 L 94.93 -87.1 L 94.05 -83.54 L 93.18 -83.54 L 92.3 -83.54 L 91.43 -83.54 L 90.55 -83.54 L 89.68 -91.88 L 88.8 -91.88 L 87.93 -91.88 L 87.05 -91.88 L 86.18 -91.88 L 85.3 -93.58 L 84.43 -87.22 L 83.55 -87.22 L 82.68 -87.22 L 81.8 -87.22 L 80.93 -87.22 L 80.05 -86.11 L 79.18 -85.91 L 78.3 -85.91 L 77.43 -81.26 L 76.55 -81.26 L 75.68 -81.26 L 74.81 -81.26 L 73.93 -106.71 L 73.06 -108.95 L 72.18 -116.43 L 71.31 -136.41 L 70.43 -127.41 L 69.56 -127.41 L 68.68 -127.41 L 67.81 -127.41 L 66.93 -130.83 L 66.06 -136.41 L 65.18 -143.56 L 64.31 -143.56 L 63.43 -139.03 L 62.56 -139.03 L 61.68 -133.6 L 60.81 -133.6 L 59.93 -133.6 L 59.06 -133.6 L 58.18 -133.6 L 57.31 -123.37 L 56.43 -123.37 L 55.56 -123.37 z" transform="translate(0 420)"/>
    </g>
   </g>
   <g id="matplotlib.axis_5">
    <g id="xtick_15">
     <g id="line2d_61">
      <path d="M 55.56 389.64 L 55.56 215.22 " clip-path="url(#pf24fb3e073)" style="fill: none; stroke-dasharray: 1.85,0.8; stroke-dashoffset: 0; stroke: #808080; stroke-opacity: 0.75; stroke-width: 0.5"/>
     </g>
     <g id="line2d_62">
      <g>
       <path d="M 0 0 L 0 3.5" transform="translate(55.56 389.64)" style="stroke: #000000; stroke-width: 0.8"/>
      </g>
     </g>
     <g id="text_37">
      <text style="font-size: 10px; font-family: 'DejaVu Sans', 'Liberation Sans', sans-serif; text-anchor: middle" x="55.56" y="403.888438" transform="rotate(-0 55.56 403.888438)">0</text>
     </g>
    </g>
    <g id="xtick_16">
     <g id="line2d_63">
      <path d="M 99.3 389.64 L 99.3 215.22 " clip-path="url(#pf24fb3e073)" style="fill: none; stroke-dasharray: 1.85,0.8; stroke-dashoffset: 0; stroke: #808080; stroke-opacity: 0.75; stroke-width: 0.5"/>
     </g>
     <g id="line2d_64">
      <g>
       <path d="M 0 0 L 0 3.5" transform="translate(99.29913 389.64)" style="stroke: #000000; stroke-width: 0.8"/>
      </g>
     </g>
     <g id="text_38">
      <text style="font-size: 10px; font-family: 'DejaVu Sans', 'Liberation Sans', sans-serif; text-anchor: middle" x="99.29913" y="403.888438" transform="rotate(-0 99.29913 403.888438)">200</text>
     </g>
    </g>
    <g id="xtick_17">
     <g id="line2d_65">
      <path d="M 143.04 389.64 L 143.04 215.22 " clip-path="url(#pf24fb3e073)" style="fill: none; stroke-dasharray: 1.85,0.8; stroke-dashoffset: 0; stroke: #808080; stroke-opacity: 0.75; stroke-width: 0.5"/>
     </g>
     <g id="line2d_66">
      <g>
       <path d="M 0 0 L 0 3.5" transform="translate(143.038261 389.64)" style="stroke: #000000; stroke-width: 0.8"/>
      </g>
     </g>
     <g id="text_39">
      <text style="font-size: 10px; font-family: 'DejaVu Sans', 'Liberation Sans', sans-serif; text-anchor: middle" x="143.038261" y="403.888438" transform="rotate(-0 143.038261 403.888438)">400</text>
     </g>
    </g>
    <g id="xtick_18">
     <g id="line2d_67">
      <path d="M 186.78 389.64 L 186.78 215.22 " clip-path="url(#pf24fb3e073)" style="fill: none; stroke-dasharray: 1.85,0.8; stroke-dashoffset: 0; stroke: #808080; stroke-opacity: 0.75; stroke-width: 0.5"/>
     </g>
     <g id="line2d_68">
      <g>
       <path d="M 0 0 L 0 3.5" transform="translate(186.777391 389.64)" style="stroke: #000000; stroke-width: 0.8"/>
      </g>
     </g>
     <g id="text_40">
      <text style="font-size: 10px; font-family: 'DejaVu Sans', 'Liberation Sans', sans-serif; text-anchor: middle" x="186.777391" y="403.888438" transform="rotate(-0 186.777391 403.888438)">600</text>
     </g>
    </g>
    <g id="xtick_19">
     <g id="line2d_69">
      <path d="M 230.52 389.64 L 230.52 215.22 " clip-path="url(#pf24fb3e073)" style="fill: none; stroke-dasharray: 1.85,0.8; stroke-dashoffset: 0; stroke: #808080; stroke-opacity: 0.75; stroke-width: 0.5"/>
     </g>
     <g id="line2d_70">
      <g>
       <path d="M 0 0 L 0 3.5" transform="translate(230.516522 389.64)" style="stroke: #000000; stroke-width: 0.8"/>
      </g>
     </g>
     <g id="text_41">
      <text style="font-size: 10px; font-family: 'DejaVu Sans', 'Liberation Sans', sans-serif; text-anchor: middle" x="230.516522" y="403.888438" transform="rotate(-0 230.516522 403.888438)">800</text>
     </g>
    </g>
    <g id="xtick_20">
     <g id="line2d_71">
      <path d="M 274.26 389.64 L 274.26 215.22 " clip-path="url(#pf24fb3e073)" style="fill: none; stroke-dasharray: 1.85,0.8; stroke-dashoffset: 0; stroke: #808080; stroke-opacity: 0.75; stroke-width: 0.5"/>
     </g>
     <g id="line2d_72">
      <g>
       <path d="M 0 0 L 0 3.5" transform="translate(274.255652 389.64)" style="stroke: #000000; stroke-width: 0.8"/>
      </g>
     </g>
     <g id="text_42">
      <text style="font-size: 10px; font-family: 'DejaVu Sans', 'Liberation Sans', sans-serif; text-anchor: middle" x="274.255652" y="403.888438" transform="rotate(-0 274.255652 403.888438)">1000</text>
     </g>
    </g>
    <g id="xtick_21">
     <g id="line2d_73">
      <path d="M 317.99 389.64 L 317.99 215.22 " clip-path="url(#pf24fb3e073)" style="fill: none; stroke-dasharray: 1.85,0.8; stroke-dashoffset: 0; stroke: #808080; stroke-opacity: 0.75; stroke-width: 0.5"/>
     </g>
     <g id="line2d_74">
      <g>
       <path d="M 0 0 L 0 3.5" transform="translate(317.994783 389.64)" style="stroke: #000000; stroke-width: 0.8"/>
      </g>
     </g>
     <g id="text_43">
      <text style="font-size: 10px; font-family: 'DejaVu Sans', 'Liberation Sans', sans-serif; text-anchor: middle" x="317.994783" y="403.888438" transform="rotate(-0 317.994783 403.888438)">1200</text>
     </g>
    </g>
    <g id="text_44">
     <text style="font-size: 10px; font-family: 'DejaVu Sans', 'Liberation Sans', sans-serif; text-anchor: middle" x="206.46" y="417.666562" transform="rotate(-0 206.46 417.666562)">Time (days)</text>
    </g>
   </g>
   <g id="matplotlib.axis_6">
    <g id="ytick_13">
     <g id="line2d_75">
      <path d="M 55.56 373.78 L 357.36 373.78 " clip-path="url(#pf24fb3e073)" style="fill: none; stroke-dasharray: 1.85,0.8; stroke-dashoffset: 0; stroke: #808080; stroke-opacity: 0.75; stroke-width: 0.5"/>
     </g>
     <g id="line2d_76">
      <g>
       <path d="M 0 0 L -3.5 0" transform="translate(55.56 373.783636)" style="stroke: #000000; stroke-width: 0.8"/>
      </g>
     </g>
     <g id="text_45">
      <text style="font-size: 10px; font-family: 'DejaVu Sans', 'Liberation Sans', sans-serif; text-anchor: end" x="49.01" y="377.582855" transform="rotate(-0 49.01 377.582855)">8000</text>
     </g>
    </g>
    <g id="ytick_14">
     <g id="line2d_77">
      <path d="M 55.56 342.07 L 357.36 342.07 " clip-path="url(#pf24fb3e073)" style="fill: none; stroke-dasharray: 1.85,0.8; stroke-dashoffset: 0; stroke: #808080; stroke-opacity: 0.75; stroke-width: 0.5"/>
     </g>
     <g id="line2d_78">
      <g>
       <path d="M 0 0 L -3.5 0" transform="translate(55.56 342.070909)" style="stroke: #000000; stroke-width: 0.8"/>
      </g>
     </g>
     <g id="text_46">
      <text style="font-size: 10px; font-family: 'DejaVu Sans', 'Liberation Sans', sans-serif; text-anchor: end" x="49.01" y="345.870128" transform="rotate(-0 49.01 345.870128)">10000</text>
     </g>
    </g>
    <g id="ytick_15">
     <g id="line2d_79">
      <path d="M 55.56 310.36 L 357.36 310.36 " clip-path="url(#pf24fb3e073)" style="fill: none; stroke-dasharray: 1.85,0.8; stroke-dashoffset: 0; stroke: #808080; stroke-opacity: 0.75; stroke-width: 0.5"/>
     </g>
     <g id="line2d_80">
      <g>
       <path d="M 0 0 L -3.5 0" transform="translate(55.56 310.358182)" style="stroke: #000000; stroke-width: 0.8"/>
      </g>
     </g>
     <g id="text_47">
      <text style="font-size: 10px; font-family: 'DejaVu Sans', 'Liberation Sans', sans-serif; text-anchor: end" x="49.01" y="314.157401" transform="rotate(-0 49.01 314.157401)">12000</text>
     </g>
    </g>
    <g id="ytick_16">
     <g id="line2d_81">
      <path d="M 55.56 278.65 L 357.36 278.65 " clip-path="url(#pf24fb3e073)" style="fill: none; stroke-dasharray: 1.85,0.8; stroke-dashoffset: 0; stroke: #808080; stroke-opacity: 0.75; stroke-width: 0.5"/>
     </g>
     <g id="line2d_82">
      <g>
       <path d="M 0 0 L -3.5 0" transform="translate(55.56 278.645455)" style="stroke: #000000; stroke-width: 0.8"/>
      </g>
     </g>
     <g id="text_48">
      <text style="font-size: 10px; font-family: 'DejaVu Sans', 'Liberation Sans', sans-serif; text-anchor: end" x="49.01" y="282.444673" transform="rotate(-0 49.01 282.444673)">14000</text>
     </g>
    </g>
    <g id="ytick_17">
     <g id="line2d_83">
      <path d="M 55.56 246.93 L 357.36 246.93 " clip-path="url(#pf24fb3e073)" style="fill: none; stroke-dasharray: 1.85,0.8; stroke-dashoffset: 0; stroke: #808080; stroke-opacity: 0.75; stroke-width: 0.5"/>
     </g>
     <g id="line2d_84">
      <g>
       <path d="M 0 0 L -3.5 0" transform="translate(55.56 246.932727)" style="stroke: #000000; stroke-width: 0.8"/>
      </g>
     </g>
     <g id="text_49">
      <text style="font-size: 10px; font-family: 'DejaVu Sans', 'Liberation Sans', sans-serif; text-anchor: end" x="49.01" y="250.731946" transform="rotate(-0 49.01 250.731946)">16000</text>
     </g>
    </g>
    <g id="ytick_18">
     <g id="line2d_85">
      <path d="M 55.56 215.22 L 357.36 215.22 " clip-path="url(#pf24fb3e073)" style="fill: none; stroke-dasharray: 1.85,0.8; stroke-dashoffset: 0; stroke: #808080; stroke-opacity: 0.75; stroke-width: 0.5"/>
     </g>
     <g id="line2d_86">
      <g>
       <path d="M 0 0 L -3.5 0" transform="translate(55.56 215.22)" style="stroke: #000000; stroke-width: 0.8"/>
      </g>
     </g>
     <g id="text_50">
      <text style="font-size: 10px; font-family: 'DejaVu Sans', 'Liberation Sans', sans-serif; text-anchor: end" x="49.01" y="219.019219" transform="rotate(-0 49.01 219.019219)">18000</text>
     </g>
    </g>
    <g id="text_51">
     <text style="font-size: 10px; font-family: 'DejaVu Sans', 'Liberation Sans', sans-serif; text-anchor: middle" x="10.667812" y="302.43" transform="rotate(-90 10.667812 302.43)">Load (MWmed)</text>
    </g>
   </g>
   <g id="line2d_87">
    <path d="M 55.56 292.67 L 55.78 293.42 L 56.22 350.03 L 56.43 298.8 L 56.65 287.28 L 56.87 286.02 L 57.09 346.01 L 57.31 269.37 L 57.53 315.14 L 57.75 337.35 L 57.97 284.83 L 58.18 271.68 L 58.4 278.53 L 58.62 276.69 L 58.84 270.58 L 59.28 334.19 L 59.5 340.48 L 59.72 282.93 L 59.93 282.44 L 60.37 285.72 L 60.81 332.62 L 61.03 291.83 L 61.25 274.6 L 61.46 276.99 L 61.68 286.3 L 61.9 277 L 62.34 331.65 L 62.56 338.47 L 62.78 283.73 L 63 283.08 L 63.43 270.08 L 63.87 332.26 L 64.09 332.94 L 64.31 284.8 L 64.53 283.36 L 64.75 272.47 L 64.96 284.17 L 65.4 324.77 L 65.62 287.7 L 65.84 284.31 L 66.06 261.33 L 66.28 285.37 L 66.49 285.56 L 66.71 309.4 L 66.93 353.05 L 67.15 291.16 L 67.59 279.63 L 67.81 285.2 L 68.03 287.09 L 68.46 343.11 L 68.68 296.66 L 68.9 293.52 L 69.12 348.02 L 69.34 291.79 L 69.56 288.63 L 69.99 342.79 L 70.21 279.63 L 70.43 282.42 L 70.65 339.98 L 70.87 281.96 L 71.09 258.21 L 71.52 330.33 L 71.74 287.78 L 72.18 281.54 L 72.4 284.52 L 72.62 277.62 L 73.06 350.03 L 73.27 301.38 L 73.49 299.61 L 73.93 307.09 L 74.15 309.62 L 74.59 355 L 75.02 309.33 L 75.46 364.61 L 75.68 334.92 L 76.12 364.17 L 76.34 339.58 L 76.55 334.86 L 76.77 334.78 L 76.99 333.7 L 77.21 330.12 L 77.65 369.22 L 77.87 374.97 L 78.09 334.6 L 78.3 332.79 L 78.52 333.48 L 78.74 329.93 L 79.18 368.58 L 79.4 336.32 L 79.62 369.14 L 79.84 321.88 L 80.05 324.83 L 80.27 325.05 L 80.71 364.72 L 80.93 333.21 L 81.58 316.65 L 82.24 364.26 L 82.46 333.39 L 82.68 374.17 L 82.9 328.81 L 83.12 331.37 L 83.33 330.97 L 83.77 370.77 L 83.99 320.88 L 84.21 325.06 L 84.43 321.43 L 84.65 328.74 L 84.87 325.8 L 85.3 372.31 L 85.52 333.61 L 85.96 322.45 L 86.18 319.87 L 86.4 321.73 L 86.61 375.67 L 86.83 373.48 L 87.05 338.6 L 87.49 331.52 L 87.71 332.08 L 87.93 324.16 L 88.36 373.77 L 88.58 336.37 L 88.8 331.42 L 89.02 321.88 L 89.24 331.96 L 89.46 330.08 L 89.9 372.26 L 90.11 334.87 L 90.55 322.89 L 90.77 323.42 L 90.99 330.99 L 91.43 370.99 L 91.64 379.19 L 91.86 333.26 L 92.08 332.49 L 92.3 336.21 L 92.52 333.7 L 92.96 370.51 L 93.18 335.69 L 93.39 334.49 L 93.61 332.15 L 93.83 323.89 L 94.05 325.23 L 94.49 371.04 L 94.71 335.62 L 94.93 330.86 L 95.14 330.96 L 95.36 330.62 L 95.58 328.93 L 96.02 372.15 L 96.24 334.38 L 96.46 325.84 L 96.67 322.38 L 96.89 325.96 L 97.11 327.12 L 97.55 371.74 L 97.77 331.29 L 97.99 328.19 L 98.21 328.78 L 98.42 327.77 L 98.64 320.37 L 99.08 374.17 L 99.3 332.36 L 99.52 320.36 L 99.74 325.85 L 99.96 326.33 L 100.17 321.18 L 100.61 371.89 L 100.83 332.13 L 101.05 325.96 L 101.27 328.61 L 101.49 318.87 L 101.7 328.18 L 102.14 373.66 L 102.36 332.05 L 102.8 325.56 L 103.02 326.67 L 103.24 329.85 L 103.67 372.24 L 103.89 332.87 L 104.11 318.46 L 104.33 328.13 L 104.55 316.35 L 104.77 327.56 L 105.2 373.16 L 105.42 330.7 L 105.64 325.93 L 105.86 324.71 L 106.08 326.01 L 106.3 322.49 L 106.73 369.27 L 106.95 327.59 L 107.17 370.14 L 107.39 324.27 L 107.83 319.45 L 108.27 365.04 L 108.48 325.58 L 108.7 364.92 L 108.92 319.62 L 109.14 318.94 L 109.36 321.77 L 109.8 363.51 L 110.02 323.91 L 110.23 314.84 L 110.45 320.74 L 110.67 312.97 L 110.89 318.52 L 111.33 364.12 L 111.55 322.49 L 111.76 314.79 L 111.98 314.13 L 112.2 316.27 L 112.42 315.3 L 112.86 361.82 L 113.08 368.13 L 113.3 314.33 L 113.51 313.67 L 113.73 313.61 L 113.95 312.69 L 114.39 361.74 L 114.61 316.89 L 115.05 308.49 L 115.26 309.71 L 115.48 290.89 L 115.7 336.19 L 115.92 355.63 L 116.14 313.01 L 116.36 294.01 L 116.58 307.92 L 116.79 293.87 L 117.01 306.71 L 117.67 368.43 L 117.89 307.42 L 118.11 305.84 L 118.33 309.11 L 118.54 308.41 L 118.98 357.8 L 119.2 311.48 L 119.42 306.58 L 119.64 293.7 L 119.86 305.52 L 120.08 308.98 L 120.51 358.09 L 120.73 315.32 L 120.95 307.47 L 121.17 308.65 L 121.39 300.67 L 121.61 308.74 L 122.04 356.85 L 122.26 365.12 L 122.48 303.73 L 122.7 303.4 L 122.92 296.86 L 123.14 304.88 L 123.57 350.25 L 123.79 305.17 L 124.23 295.72 L 124.45 295.37 L 124.67 300.2 L 125.11 349.03 L 125.32 294.21 L 125.54 297.36 L 125.76 297.69 L 125.98 297.51 L 126.2 297.49 L 126.64 349.53 L 126.85 302.91 L 127.07 284.26 L 127.29 297.63 L 127.51 295.44 L 127.73 274.8 L 128.17 341.46 L 128.39 302.18 L 128.6 292.82 L 128.82 296.71 L 129.04 293.62 L 129.26 294 L 129.92 358.08 L 130.14 298.04 L 130.57 296.73 L 130.79 279.33 L 131.23 340.46 L 131.45 302.95 L 131.67 297.32 L 131.88 299.05 L 132.1 299.59 L 132.32 300.66 L 132.76 349.45 L 132.98 295.72 L 133.2 303.59 L 133.42 301.75 L 133.63 293.63 L 133.85 357.07 L 134.07 329.21 L 134.29 353.98 L 134.51 307.7 L 134.73 300.07 L 134.95 297.12 L 135.17 287.52 L 135.38 292.4 L 135.6 365.62 L 135.82 339.56 L 136.04 292.53 L 136.48 277.62 L 136.91 284.44 L 137.35 330.15 L 137.79 265.75 L 138.01 285.75 L 138.45 288.23 L 138.88 334.57 L 139.1 292.89 L 139.32 335.96 L 139.54 290.55 L 139.76 289.45 L 139.98 287.74 L 140.41 338.76 L 140.63 297.29 L 140.85 289.15 L 141.07 292.97 L 141.29 343 L 141.51 280.03 L 141.94 342.24 L 142.16 296.29 L 142.38 293.2 L 142.6 291.89 L 142.82 276.11 L 143.26 319.8 L 143.48 349.53 L 143.69 299.66 L 143.91 290.67 L 144.13 293.63 L 144.35 293.78 L 144.57 290.42 L 145.01 343.46 L 145.23 344 L 145.44 290.41 L 145.66 291.16 L 145.88 288.75 L 146.1 291.3 L 146.54 341.78 L 146.76 294.02 L 146.97 288.37 L 147.19 265.35 L 147.41 268.53 L 147.63 285.63 L 148.07 337.87 L 148.29 290.22 L 148.51 283.59 L 148.94 282.08 L 149.16 284.03 L 149.6 336.68 L 149.82 342.49 L 150.04 286.14 L 150.26 284.52 L 150.47 276.16 L 150.69 285.1 L 151.13 333.27 L 151.35 289.55 L 151.57 286.41 L 151.79 267.36 L 152 283.63 L 152.22 285.46 L 152.66 333.17 L 152.88 291.47 L 153.1 276.62 L 153.32 285.59 L 153.54 287.74 L 153.75 278.62 L 154.19 338.97 L 154.41 294.91 L 154.63 289.26 L 155.29 293.47 L 155.5 315.13 L 155.72 352.85 L 155.94 300.24 L 156.38 293.52 L 156.6 295.6 L 156.82 282.85 L 157.25 338.5 L 157.47 299.51 L 157.69 289.19 L 157.91 295.71 L 158.13 298.33 L 158.35 298.99 L 158.78 343.56 L 159 303.32 L 159.22 346.01 L 159.44 293.61 L 159.66 301.94 L 159.88 302.49 L 160.32 346.61 L 160.53 307.91 L 160.75 292.27 L 160.97 302.96 L 161.19 307.27 L 161.41 294.94 L 161.85 351.04 L 162.06 310.44 L 162.28 307.16 L 162.5 292.7 L 162.72 306.56 L 162.94 307.97 L 163.38 357.17 L 163.6 314.48 L 163.81 359.79 L 164.03 307.11 L 164.25 310.27 L 164.47 307.4 L 164.91 360.11 L 165.13 316.29 L 165.35 307.05 L 165.56 310.57 L 165.78 300.74 L 166 311.17 L 166.44 360.83 L 166.66 314.83 L 166.88 362.1 L 167.09 303.22 L 167.31 302.52 L 167.53 308.62 L 167.97 360.62 L 168.19 316.29 L 168.41 310.48 L 168.63 308.42 L 168.84 309.48 L 169.06 308.74 L 169.5 359.96 L 169.72 316.61 L 169.94 309.72 L 170.38 304.76 L 170.59 308.19 L 171.03 358.21 L 171.25 364.11 L 171.47 311.06 L 171.69 310.16 L 171.91 308.35 L 172.12 311.13 L 172.56 356.72 L 172.78 302.25 L 173 310.32 L 173.22 357.07 L 173.44 307.67 L 173.66 308.42 L 174.09 355.01 L 174.31 303.76 L 174.53 308.22 L 174.75 310.2 L 174.97 309.28 L 175.19 303.29 L 175.62 354.16 L 175.84 359.59 L 176.06 309.59 L 176.28 309.65 L 176.5 306.63 L 176.72 305.8 L 177.15 353.95 L 177.37 311.36 L 177.59 305.42 L 177.81 303.64 L 178.03 297.22 L 178.25 301.45 L 178.69 353.11 L 178.9 310.01 L 179.12 296.22 L 179.34 304.89 L 179.56 308.28 L 179.78 307.01 L 180 355.56 L 180.22 353.85 L 180.44 313.36 L 180.65 308.91 L 180.87 311.32 L 181.09 310.34 L 181.31 300.74 L 181.75 354.32 L 181.97 314.56 L 182.18 302.84 L 182.62 310.95 L 182.84 310.44 L 183.28 353.91 L 183.5 357.88 L 183.72 305.38 L 183.93 301.25 L 184.37 307.28 L 184.81 352.16 L 185.03 310.81 L 185.25 304.37 L 185.47 353.05 L 185.68 296.39 L 185.9 294.51 L 186.34 349.66 L 186.56 306.73 L 186.78 303.88 L 187 304.54 L 187.21 302.17 L 187.43 297.22 L 187.87 355.37 L 188.09 356.57 L 188.31 305.91 L 188.75 305.6 L 188.96 304.26 L 189.4 356.49 L 189.62 313.1 L 189.84 310.18 L 190.06 309.2 L 190.28 303.55 L 190.5 307.52 L 190.93 360.09 L 191.15 313.69 L 191.37 310.32 L 191.59 309.7 L 191.81 309.64 L 192.03 304.24 L 192.46 356.57 L 192.68 312.17 L 193.12 300.74 L 193.34 305.35 L 193.56 307.23 L 193.99 351.88 L 194.21 313.82 L 194.43 308.77 L 194.65 288.38 L 194.87 307.22 L 195.09 310.26 L 195.53 356.07 L 195.74 316.07 L 195.96 312.65 L 196.18 300.04 L 196.4 308.55 L 196.62 309.91 L 197.06 366.07 L 197.27 368.13 L 197.49 306.43 L 197.71 305.75 L 197.93 307.04 L 198.15 305.45 L 198.59 366.26 L 198.81 369.94 L 199.02 302.4 L 199.24 301.83 L 199.46 299.04 L 199.68 293.14 L 200.12 362.5 L 200.34 362.1 L 200.56 292.7 L 200.77 297.65 L 200.99 295.31 L 201.21 298.82 L 201.65 347.02 L 201.87 291.69 L 202.3 296.14 L 202.52 296.31 L 202.74 280.13 L 202.96 323.86 L 203.18 344.26 L 203.4 301.51 L 203.62 296.52 L 203.84 295.37 L 204.05 295.08 L 204.27 294.02 L 204.71 345.02 L 204.93 294.97 L 205.15 347.02 L 205.37 289.28 L 205.59 282.64 L 205.8 285.23 L 206.24 343.76 L 206.46 292.72 L 206.68 345.01 L 206.9 281.74 L 207.12 279.43 L 207.33 286.29 L 207.55 334.95 L 207.77 334.1 L 207.99 294.29 L 208.21 281.82 L 208.43 289.2 L 208.87 281.94 L 209.3 330.25 L 209.52 330.93 L 209.74 293.47 L 209.96 294.05 L 210.18 291.91 L 210.4 286.95 L 210.83 325.93 L 211.05 268.57 L 211.27 276.39 L 211.49 277.52 L 211.71 275.15 L 211.93 266.76 L 212.36 329.87 L 212.58 330.93 L 212.8 281.27 L 213.02 282.7 L 213.24 278.62 L 213.46 279.97 L 213.9 354.56 L 214.11 300.64 L 214.55 303.01 L 214.77 305.99 L 214.99 301.37 L 215.21 344 L 215.43 342.37 L 215.65 305.46 L 215.86 299.65 L 216.08 279.43 L 216.3 299.36 L 216.52 283.05 L 216.96 341.15 L 217.18 342.49 L 217.39 284.5 L 217.61 278.54 L 217.83 275.64 L 218.05 324.9 L 218.27 296.53 L 218.49 321.98 L 218.71 273.83 L 218.93 265.69 L 219.14 265.94 L 219.36 265.68 L 219.58 243.43 L 220.02 322.59 L 220.24 270.15 L 220.46 264.7 L 220.68 267.39 L 220.89 329.93 L 221.11 243.43 L 221.55 332.68 L 221.77 343.8 L 221.99 263.84 L 222.42 268.35 L 222.64 258.51 L 223.08 337.97 L 223.3 280.03 L 223.52 263.86 L 223.74 275.76 L 223.96 265.95 L 224.17 278.6 L 224.61 324.9 L 224.83 281.64 L 225.05 268.57 L 225.27 274.22 L 225.71 270.74 L 226.14 319.87 L 226.36 261.53 L 226.58 269.77 L 227.02 267.32 L 227.24 271.11 L 227.67 315.26 L 227.89 261.03 L 228.11 264.45 L 228.33 272.17 L 228.55 274.71 L 228.77 265.04 L 229.2 314.44 L 229.42 278.93 L 229.64 315.85 L 229.86 277.53 L 230.08 276.6 L 230.3 264.35 L 230.74 350.03 L 230.95 287.62 L 231.17 273.63 L 231.39 274.6 L 231.61 281.34 L 231.83 275.61 L 232.05 353.05 L 232.27 351.88 L 232.48 296.17 L 232.7 286.59 L 232.92 293.5 L 233.14 295.21 L 233.36 299.86 L 233.8 354.51 L 234.02 364.11 L 234.23 300.27 L 234.45 296.09 L 234.67 296.22 L 234.89 303.38 L 235.33 352.61 L 235.55 313.57 L 235.77 309.95 L 235.98 308.39 L 236.2 308.6 L 236.42 309.21 L 236.86 356.55 L 237.08 358.08 L 237.3 311.57 L 237.51 311.64 L 237.73 314.01 L 237.95 312.34 L 238.39 363.46 L 238.61 373.66 L 238.83 314.41 L 239.26 317.41 L 239.48 314.91 L 239.92 362.92 L 240.14 363.61 L 240.36 305.28 L 240.58 315.48 L 240.8 315.21 L 241.01 293.42 L 241.23 341.36 L 241.45 361.06 L 241.67 322.02 L 241.89 315.35 L 242.11 298.5 L 242.33 300.82 L 243.2 378.19 L 243.42 319.14 L 243.64 317.1 L 243.86 318.13 L 244.08 315.43 L 244.51 358.31 L 244.73 359.08 L 244.95 315.82 L 245.17 314.25 L 245.39 305.59 L 245.61 305.98 L 246.04 357.71 L 246.26 358.58 L 246.48 307.8 L 246.7 308.02 L 246.92 308.57 L 247.14 308.63 L 247.57 357.67 L 247.79 301.96 L 248.01 303.45 L 248.23 310.49 L 248.45 307.65 L 248.67 302.97 L 249.11 362.1 L 249.32 315.32 L 249.54 309.78 L 249.76 309.64 L 249.98 311.55 L 250.2 307.62 L 250.64 363.61 L 250.86 322.26 L 251.07 315.83 L 251.29 315.58 L 251.51 314.71 L 251.73 310.51 L 252.17 357.58 L 252.39 319.43 L 252.6 358.08 L 252.82 308.13 L 253.04 306.43 L 253.26 303.47 L 253.7 357.45 L 253.92 318.12 L 254.14 314.07 L 254.35 315.46 L 254.79 312.25 L 255.23 355.49 L 255.45 316.56 L 255.67 307.68 L 255.89 304.25 L 256.1 358.08 L 256.32 303.35 L 256.76 355.58 L 256.98 314.49 L 257.2 309.09 L 257.42 308.92 L 257.63 311.39 L 257.85 300.66 L 258.29 356.75 L 258.51 318.32 L 258.73 310.5 L 258.95 310.62 L 259.17 359.08 L 259.38 310.76 L 259.82 358.06 L 260.04 315.35 L 260.26 308.44 L 260.48 308.08 L 260.7 308.68 L 260.92 301.96 L 261.35 357.69 L 261.57 314.73 L 261.79 362.1 L 262.01 309 L 262.23 311.25 L 262.45 299.95 L 262.88 359.16 L 263.1 319.68 L 263.32 316.91 L 263.54 309.59 L 263.76 315.58 L 263.98 313.53 L 264.41 362.99 L 264.63 375.67 L 264.85 316.95 L 265.07 319.81 L 265.29 320.13 L 265.51 318.52 L 265.95 365 L 266.16 367.13 L 266.38 316.59 L 266.6 318.12 L 267.04 314.74 L 267.48 359.32 L 267.69 308.5 L 267.91 314.03 L 268.13 314.03 L 268.57 307.2 L 269.01 356.95 L 269.23 364.61 L 269.44 314.74 L 269.66 303.47 L 269.88 312.28 L 270.1 315.05 L 270.54 359.75 L 270.76 320.61 L 271.19 308.93 L 271.41 315.85 L 271.63 309.41 L 272.07 360.17 L 272.29 320.75 L 272.51 373.16 L 272.72 317.28 L 273.16 313.97 L 273.6 358.42 L 273.82 319.55 L 274.04 316.61 L 274.26 316.5 L 274.47 314.62 L 274.69 317.54 L 275.13 362.76 L 275.35 371.65 L 275.57 317.99 L 275.79 316.57 L 276.01 317.74 L 276.22 308.5 L 276.66 369.06 L 276.88 324.37 L 277.1 319.83 L 277.32 370.14 L 277.54 318.32 L 277.75 321.4 L 278.19 368.67 L 278.41 322.98 L 278.63 312.84 L 278.85 309.5 L 279.07 312.47 L 279.29 312.84 L 279.72 368.67 L 279.94 369.14 L 280.16 316.69 L 280.38 317.13 L 280.6 319.06 L 280.82 303.97 L 281.25 355.02 L 281.47 320.32 L 281.69 320.52 L 281.91 318.58 L 282.35 317.74 L 282.57 334.76 L 282.78 368.13 L 283 316.49 L 283.44 303.76 L 283.66 310.63 L 283.88 306.92 L 284.1 352.05 L 284.32 350.39 L 284.53 301.75 L 284.75 305.35 L 284.97 300.02 L 285.19 304.91 L 285.41 304.98 L 285.85 345.44 L 286.07 307.75 L 286.28 291.19 L 286.5 291.15 L 286.72 300.18 L 286.94 297.39 L 287.38 342.54 L 287.6 348.53 L 287.81 293.65 L 288.03 293.51 L 288.25 290.24 L 288.47 285.16 L 288.91 337.24 L 289.13 336.96 L 289.35 284.26 L 289.78 272.09 L 290 275.77 L 290.44 327.26 L 290.66 285.75 L 290.88 269.57 L 291.1 274.83 L 291.31 285.5 L 291.53 284.87 L 291.97 339.98 L 292.19 281.64 L 292.63 294.82 L 292.84 294.68 L 293.06 291.69 L 293.5 347.36 L 293.72 358.08 L 293.94 309.11 L 294.16 306.58 L 294.38 299.19 L 294.59 305.28 L 295.03 348.29 L 295.25 312.47 L 295.47 300.74 L 295.69 302.33 L 295.91 300.42 L 296.13 293.16 L 296.56 348.02 L 296.78 288.95 L 297 272.59 L 297.22 274.99 L 297.44 278.79 L 297.66 276.38 L 298.09 335.96 L 298.31 283.95 L 298.53 271.08 L 298.75 277.25 L 298.97 276.03 L 299.19 275.65 L 299.62 329.24 L 299.84 329.93 L 300.06 272.1 L 300.5 257.01 L 300.72 269.99 L 301.16 316.97 L 301.37 270.93 L 301.59 265.24 L 301.81 263.13 L 302.03 263.3 L 302.25 261.56 L 302.69 323.48 L 302.9 266.72 L 303.12 339.98 L 303.34 261.51 L 303.56 254.49 L 303.78 258.46 L 304.22 332.27 L 304.44 269.14 L 304.65 263.58 L 304.87 264.9 L 305.09 247.96 L 305.53 298.74 L 305.75 342.48 L 305.97 279.79 L 306.19 363.91 L 306.4 278.94 L 306.62 287.15 L 306.84 289.61 L 307.28 341.07 L 307.5 344 L 307.72 285.9 L 307.93 275.47 L 308.15 273.48 L 308.37 278.03 L 308.81 341.57 L 309.03 283.87 L 309.25 275.15 L 309.47 274.64 L 309.68 342.49 L 309.9 273.63 L 310.34 335.31 L 310.56 279.52 L 310.78 269.18 L 311 269.07 L 311.22 330.93 L 311.43 268.7 L 311.87 327.81 L 312.09 260.53 L 312.31 264.51 L 312.53 260.52 L 312.75 267.61 L 312.96 259.52 L 313.4 332.85 L 313.62 335.96 L 313.84 270.74 L 314.06 268.57 L 314.28 272.76 L 314.5 273.36 L 314.93 350.29 L 315.15 353.05 L 315.37 272.17 L 315.59 282.94 L 315.81 283.71 L 316.03 288.63 L 316.46 351.56 L 316.68 299.44 L 316.9 362.1 L 317.12 291.42 L 317.34 295.27 L 317.56 281.64 L 317.99 343.6 L 318.21 303.25 L 318.43 301.15 L 318.65 295.72 L 318.87 301.12 L 319.09 295.05 L 319.53 353.94 L 319.74 364.11 L 319.96 304.95 L 320.18 305.5 L 320.4 302.2 L 320.62 303.66 L 321.06 348.02 L 321.49 291.22 L 321.71 303.25 L 321.93 301.26 L 322.15 288.17 L 322.59 348.99 L 322.81 308.28 L 323.02 292.01 L 323.24 299.8 L 323.46 302.28 L 323.68 298.73 L 324.12 350.76 L 324.34 360.89 L 324.56 290.57 L 324.77 299.13 L 324.99 298.94 L 325.21 300.16 L 325.65 342.54 L 325.87 303.12 L 326.09 290.5 L 326.31 300.78 L 326.52 298.04 L 326.74 287.17 L 327.18 344.91 L 327.4 305 L 327.62 345.51 L 327.84 298.04 L 328.05 291.69 L 328.27 295.8 L 328.71 346.24 L 328.93 305.46 L 329.15 349.03 L 329.37 302.58 L 329.8 303.5 L 330.24 346.06 L 330.46 310.24 L 330.68 303.45 L 330.9 304.85 L 331.12 291.19 L 331.34 296.36 L 331.77 350.55 L 331.99 307.67 L 332.21 360.59 L 332.43 304.15 L 332.65 301.63 L 332.87 294.21 L 333.3 356.83 L 333.52 311.56 L 333.74 358.58 L 333.96 306.18 L 334.18 303.25 L 334.4 298.16 L 334.83 350.72 L 335.05 310.36 L 335.27 306.31 L 335.71 303.43 L 335.93 291.69 L 336.37 348.47 L 336.58 349.03 L 336.8 304.79 L 337.02 303.47 L 337.24 307.24 L 337.46 300.74 L 337.9 351.71 L 338.11 365.12 L 338.33 305.56 L 338.55 307.27 L 338.77 299.06 L 338.99 307.56 L 339.43 349.63 L 339.65 350.03 L 339.86 302.35 L 340.08 298.74 L 340.3 298.97 L 340.52 290.69 L 340.96 346.18 L 341.18 300.74 L 341.4 297.98 L 341.61 346.01 L 341.83 296.3 L 342.05 287.17 L 342.49 348.11 L 342.71 302.75 L 342.93 294.93 L 343.14 296.42 L 343.36 296.03 L 343.58 292.52 L 344.02 346.53 L 344.24 305.07 L 344.46 366.62 L 344.68 301.93 L 344.89 290.82 L 345.11 301.31 L 345.55 348.11 L 345.77 305.13 L 345.99 351.04 L 346.21 295.49 L 346.43 280.63 L 346.64 296.06 L 347.08 346.68 L 347.3 300.8 L 347.74 289.68 L 348.17 297.77 L 348.61 348.7 L 348.83 307.44 L 349.05 305.5 L 349.27 350.54 L 349.49 303.82 L 349.71 303.55 L 350.14 347.66 L 350.36 306.99 L 350.58 299.02 L 350.8 360.09 L 351.02 294.24 L 351.24 288.13 L 351.67 342.25 L 351.89 290.37 L 352.11 343 L 352.33 282.58 L 352.55 283.62 L 352.77 272.59 L 352.99 305.59 L 353.2 319.04 L 353.42 285.14 L 353.64 277.99 L 353.86 278.64 L 354.08 274.08 L 354.3 274.1 L 354.74 343 L 354.95 293.12 L 355.17 285.74 L 355.39 283.15 L 355.61 289.7 L 355.83 289.85 L 356.27 336.61 L 356.49 296.44 L 356.7 343.5 L 356.92 298.12 L 357.14 299.01 L 357.36 301.94 L 357.36 301.94 " clip-path="url(#pf24fb3e073)" style="fill: none; stroke: #000000; stroke-width: 1.6; stroke-linecap: square"/>
   </g>
   <g id="line2d_88">
    <path d="M 55.56 318.85 L 57.97 299.51 L 58.18 298.61 L 58.4 298.38 L 59.06 298.54 L 60.15 298.83 L 60.37 298.73 L 60.81 298.01 L 62.12 295.05 L 62.78 294.45 L 64.31 293.31 L 64.75 292.63 L 65.18 291.89 L 65.4 291.76 L 65.62 292.16 L 66.06 294.57 L 66.93 299.91 L 67.81 304.9 L 68.24 306.24 L 68.46 306.29 L 68.68 305.22 L 69.78 295.8 L 70.43 293.22 L 70.87 292.22 L 71.09 292.07 L 71.31 292.38 L 71.74 294.78 L 72.62 302.77 L 73.06 307.98 L 74.15 322.64 L 75.02 330.23 L 75.9 336 L 76.77 340.53 L 77.43 342.74 L 77.87 343.92 L 78.09 344.29 L 78.3 344.42 L 78.52 344.14 L 78.96 342.44 L 79.84 338.33 L 80.05 337.96 L 82.24 337.95 L 82.68 338.08 L 83.77 338.99 L 83.99 338.96 L 84.43 338.5 L 85.08 337.62 L 85.3 337.5 L 85.74 337.59 L 86.4 338.04 L 87.27 338.63 L 87.71 338.7 L 89.24 338.44 L 89.68 338.93 L 90.33 340.33 L 91.21 342.14 L 91.64 342.46 L 92.08 342.23 L 92.52 341.65 L 94.05 339.27 L 94.49 339.16 L 96.02 339.42 L 96.46 339.1 L 97.11 338.2 L 97.99 337 L 99.96 335.35 L 100.61 335.02 L 101.27 334.94 L 104.55 334.85 L 105.2 334.45 L 106.73 333.07 L 107.83 331.75 L 114.17 323.1 L 115.7 320.12 L 116.14 319.9 L 116.58 320.12 L 117.23 320.88 L 117.89 321.64 L 118.33 321.85 L 118.54 321.75 L 118.98 320.89 L 120.29 317.14 L 120.51 316.91 L 120.73 316.98 L 120.95 317.45 L 122.04 320.93 L 122.26 320.85 L 122.48 320.43 L 122.92 318.82 L 125.32 307.6 L 125.98 305.29 L 126.42 304.49 L 126.85 304.43 L 127.51 304.73 L 128.6 305.27 L 129.48 305.3 L 131.23 305.33 L 131.67 305.77 L 132.1 306.62 L 132.76 308.48 L 133.2 311.69 L 134.51 323.93 L 134.73 324.74 L 134.95 324.76 L 135.17 323.9 L 135.6 320.17 L 136.91 306.26 L 137.79 298.43 L 138.23 296.62 L 138.45 296.66 L 138.66 297.03 L 139.1 298.42 L 139.98 301.78 L 140.41 302.61 L 141.29 303.01 L 142.82 303.58 L 143.91 304.08 L 144.13 304.1 L 144.35 303.97 L 144.79 302.93 L 145.44 300.21 L 146.32 296.66 L 146.76 295.85 L 147.19 295.92 L 147.85 296.45 L 148.72 297.22 L 149.16 297.32 L 149.38 297.18 L 149.82 296.52 L 150.91 294.6 L 152 293 L 152.44 292.83 L 152.66 293.22 L 153.1 295.31 L 154.41 303.59 L 155.5 307.63 L 155.94 308.5 L 156.16 308.61 L 156.38 308.53 L 156.82 308.04 L 158.13 306.01 L 158.35 305.91 L 158.57 306.07 L 158.78 306.71 L 159.22 308.99 L 160.1 313.97 L 160.53 314.87 L 161.19 315.48 L 162.28 316.12 L 163.16 316.71 L 163.81 317.44 L 164.91 319.14 L 166.22 321.23 L 168.84 324.55 L 169.28 324.71 L 169.5 324.66 L 169.94 324.07 L 171.47 320.98 L 171.91 320.98 L 172.78 321.26 L 174.31 321.83 L 174.75 321.81 L 175.19 321.32 L 175.84 319.92 L 176.72 317.87 L 178.69 314.52 L 179.12 314.33 L 179.56 314.51 L 180.22 315.23 L 181.53 316.92 L 181.97 317.17 L 182.4 317.1 L 182.84 316.74 L 183.5 315.85 L 184.59 314.29 L 185.03 313.91 L 186.12 313.49 L 186.56 313.43 L 186.78 313.5 L 187.21 314.21 L 187.87 316.08 L 189.18 320.4 L 189.84 322.65 L 190.28 323.34 L 190.5 323.32 L 190.93 322.83 L 191.59 321.41 L 192.46 319.37 L 194.21 316.57 L 194.43 316.45 L 194.65 316.48 L 194.87 316.88 L 195.31 318.54 L 196.62 324.71 L 197.71 329.05 L 198.15 329.91 L 198.37 329.96 L 198.59 329.67 L 199.02 328.27 L 199.9 323.88 L 200.56 320.27 L 202.09 310.28 L 202.52 308.93 L 203.18 307.72 L 204.71 305.37 L 205.59 303.21 L 207.33 298.6 L 208.21 297.07 L 210.4 293.7 L 211.05 292.54 L 211.27 292.38 L 211.49 292.47 L 211.71 292.99 L 212.15 295 L 214.77 310.79 L 214.99 311.26 L 215.21 311.17 L 215.43 310.11 L 215.86 305.77 L 218.05 278.85 L 219.14 272.14 L 219.58 270.62 L 219.8 270.29 L 220.02 270.34 L 220.24 270.93 L 220.68 273.31 L 221.99 282.24 L 223.08 287.88 L 223.52 288.99 L 223.74 289.04 L 223.96 288.86 L 224.39 288.04 L 227.45 280.37 L 227.89 279.82 L 228.11 279.73 L 228.33 279.81 L 228.77 280.6 L 229.42 282.86 L 229.86 285.07 L 230.3 289.4 L 231.39 301.93 L 232.48 311.24 L 232.92 313.89 L 233.58 316.12 L 234.45 317.98 L 235.33 319.85 L 236.42 323.13 L 238.61 329.58 L 238.83 329.67 L 239.05 329.34 L 239.48 327.62 L 240.36 323.66 L 240.58 323.36 L 240.8 323.47 L 241.23 324.35 L 242.54 328.22 L 242.76 328.45 L 242.98 328.42 L 243.2 328.12 L 243.64 326.94 L 244.95 322.42 L 245.83 321.1 L 246.48 320.34 L 247.14 319.92 L 247.57 319.98 L 248.01 320.51 L 248.67 321.97 L 249.98 325.32 L 250.42 326 L 250.86 326.21 L 251.29 326.04 L 251.95 325.36 L 253.04 323.67 L 254.14 322.11 L 255.45 320.43 L 256.54 319.11 L 257.2 318.59 L 257.63 318.41 L 258.07 318.48 L 258.51 318.99 L 259.38 320.24 L 259.82 320.34 L 260.7 320.14 L 261.79 319.9 L 262.01 319.94 L 262.23 320.23 L 262.66 321.46 L 264.63 328.44 L 265.29 330.12 L 265.51 330.38 L 265.73 330.41 L 265.95 330.18 L 266.38 329.16 L 267.48 326.07 L 268.35 325.19 L 269.01 324.79 L 269.44 324.71 L 269.88 324.93 L 270.54 325.73 L 271.85 327.65 L 272.51 328.12 L 273.82 328.67 L 274.69 329.09 L 275.13 329.4 L 275.57 330.07 L 277.1 333.32 L 277.32 333.43 L 277.54 333.31 L 277.97 332.22 L 278.63 329.41 L 279.29 326.61 L 279.72 325.57 L 279.94 325.47 L 280.16 325.61 L 280.6 326.35 L 281.47 328.18 L 281.69 328.42 L 282.13 328.45 L 282.78 328.21 L 283.44 327.75 L 283.88 327.3 L 284.1 326.71 L 284.53 324.54 L 286.5 312.65 L 289.35 297.56 L 289.78 296.16 L 290 295.86 L 290.22 295.93 L 290.44 296.55 L 290.88 299.09 L 292.84 315.07 L 293.72 322.52 L 294.16 324.98 L 294.38 325.67 L 294.59 325.91 L 294.81 325.68 L 295.03 325.03 L 295.47 322.69 L 296.34 315.73 L 297.66 304.04 L 298.75 293.1 L 299.41 288.65 L 300.5 282.78 L 301.16 280.46 L 302.03 278.79 L 302.69 277.97 L 303.12 277.77 L 303.34 277.9 L 303.56 278.31 L 304 279.8 L 304.87 284.25 L 305.31 288.04 L 306.4 298.89 L 307.28 305.01 L 307.5 305.75 L 307.72 305.88 L 307.93 305.46 L 308.37 303.43 L 311.43 284.04 L 311.65 283.5 L 311.87 283.34 L 312.09 283.44 L 312.53 284.04 L 313.18 285.6 L 313.62 287.14 L 314.06 289.9 L 316.03 304.41 L 317.34 312.38 L 318.21 316.06 L 319.09 319.23 L 319.53 320.35 L 319.96 320.91 L 320.18 320.91 L 320.4 320.49 L 320.84 318.73 L 321.49 315.6 L 321.71 314.91 L 322.15 314.48 L 323.02 314.21 L 323.68 313.98 L 323.9 313.83 L 324.12 313.45 L 324.56 311.98 L 325.87 306.68 L 326.31 306.22 L 326.96 305.92 L 327.18 305.91 L 327.4 306.1 L 327.84 307.19 L 329.37 312.27 L 330.46 314.8 L 330.9 315.49 L 331.34 315.83 L 332.87 316.1 L 333.74 316.09 L 334.18 315.51 L 335.71 312.41 L 335.93 312.39 L 336.37 312.78 L 337.02 313.98 L 337.68 315.11 L 338.11 315.38 L 338.33 315.25 L 338.77 314.48 L 340.08 310.97 L 341.4 306.82 L 341.61 306.48 L 341.83 306.36 L 342.05 306.47 L 342.49 307.32 L 343.36 310.22 L 344.02 312.02 L 344.24 312.31 L 344.46 312.37 L 344.68 312.21 L 345.11 311.4 L 345.99 308.85 L 346.64 307.22 L 347.08 306.81 L 347.3 306.95 L 347.74 308.04 L 348.39 310.85 L 349.27 314.53 L 349.71 315.36 L 349.92 315.25 L 350.14 314.52 L 350.58 311.68 L 351.46 304.83 L 352.77 298.72 L 353.2 297.22 L 353.64 296.38 L 353.86 296.28 L 354.08 296.47 L 354.52 297.64 L 355.39 301.52 L 357.14 309.35 L 357.36 309.37 L 357.36 309.37 " clip-path="url(#pf24fb3e073)" style="fill: none; stroke: #2ca02c; stroke-width: 1.65; stroke-linecap: square"/>
   </g>
   <g id="patch_15">
    <path d="M 55.56 389.64 L 55.56 215.22 " style="fill: none; stroke: #000000; stroke-width: 0.8; stroke-linejoin: miter; stroke-linecap: square"/>
   </g>
   <g id="patch_16">
    <path d="M 357.36 389.64 L 357.36 215.22 " style="fill: none; stroke: #000000; stroke-width: 0.8; stroke-linejoin: miter; stroke-linecap: square"/>
   </g>
   <g id="patch_17">
    <path d="M 55.56 389.64 L 357.36 389.64 " style="fill: none; stroke: #000000; stroke-width: 0.8; stroke-linejoin: miter; stroke-linecap: square"/>
   </g>
   <g id="patch_18">
    <path d="M 55.56 215.22 L 357.36 215.22 " style="fill: none; stroke: #000000; stroke-width: 0.8; stroke-linejoin: miter; stroke-linecap: square"/>
   </g>
   <g id="text_52">
    <text style="font-size: 11px; font-family: 'DejaVu Sans', 'Liberation Sans', sans-serif; text-anchor: end" x="9.89766" y="218.09793" transform="rotate(-0 9.89766 218.09793)">c)</text>
   </g>
   <g id="legend_3">
    <g id="patch_19">
     <path d="M 62.56 253.7 L 133.69 253.7 Q 135.69 253.7 135.69 251.7 L 135.69 222.22 Q 135.69 220.22 133.69 220.22 L 62.56 220.22 Q 60.56 220.22 60.56 222.22 L 60.56 251.7 Q 60.56 253.7 62.56 253.7 z" style="fill: #ffffff; opacity: 0.8; stroke: #cccccc; stroke-linejoin: miter"/>
    </g>
    <g id="line2d_89">
     <path d="M 64.56 228.32 L 74.56 228.32 L 84.56 228.32 " style="fill: none; stroke: #000000; stroke-width: 1.8; stroke-linecap: square"/>
    </g>
    <g id="text_53">
     <text style="font-size: 10px; font-family: 'DejaVu Sans', 'Liberation Sans', sans-serif; text-anchor: start" x="92.56" y="231.818438" transform="rotate(-0 92.56 231.818438)">Original</text>
    </g>
    <g id="line2d_90">
     <path d="M 64.56 243 L 74.56 243 L 84.56 243 " style="fill: none; stroke: #2ca02c; stroke-width: 1.8; stroke-linecap: square"/>
    </g>
    <g id="text_54">
     <g transform="translate(92.56 246.496563)">
      <text><tspan x="0" y="-0.578125" style="font-style: oblique; font-size: 10px; font-family: 'DejaVu Sans', 'Liberation Sans', sans-serif">p</tspan><tspan x="6.347656" y="-0.578125" style="font-size: 10px; font-family: 'DejaVu Sans', 'Liberation Sans', sans-serif">=29</tspan></text>
     </g>
    </g>
   </g>
  </g>
  <g id="axes_4">
   <g id="patch_20">
    <path d="M 417.66 389.64 L 719.46 389.64 L 719.46 215.22 L 417.66 215.22 z" style="fill: #ffffff"/>
   </g>
   <g id="FillBetweenPolyCollection_4">
    <g clip-path="url(#pb5a18c550f)">
     <path d="M 417.66 -123.37 L 417.66 -77.95 L 418.53 -86.62 L 419.41 -89.78 L 420.28 -89.78 L 421.16 -91.35 L 422.03 -91.35 L 422.91 -92.31 L 423.78 -92.31 L 424.66 -92.31 L 425.53 -99.2 L 426.41 -99.2 L 427.28 -99.2 L 428.16 -99.2 L 429.03 -99.2 L 429.91 -80.85 L 430.78 -81.17 L 431.66 -83.98 L 432.53 -93.64 L 433.41 -93.64 L 434.28 -93.64 L 435.16 -93.64 L 436.03 -73.93 L 436.91 -73.93 L 437.78 -68.96 L 438.65 -59.8 L 439.53 -59.8 L 440.4 -59.8 L 441.28 -59.24 L 442.15 -59.71 L 443.03 -59.71 L 443.9 -59.71 L 444.78 -59.71 L 445.65 -53.19 L 446.53 -53.19 L 447.4 -53.19 L 448.28 -51.66 L 449.15 -51.66 L 450.03 -51.7 L 450.9 -51.7 L 451.78 -52.97 L 452.65 -52.97 L 453.53 -53.45 L 454.4 -53.45 L 455.28 -53.45 L 456.15 -53.45 L 457.03 -53.45 L 457.9 -52.92 L 458.77 -52.92 L 459.65 -52.23 L 460.52 -52.23 L 461.4 -52.23 L 462.27 -52.07 L 463.15 -52.07 L 464.02 -52.07 L 464.9 -52.07 L 465.77 -51.73 L 466.65 -54.69 L 467.52 -54.69 L 468.4 -54.69 L 469.27 -58.93 L 470.15 -60.45 L 471.02 -60.45 L 471.9 -60.45 L 472.77 -62.15 L 473.65 -62.15 L 474.52 -62.23 L 475.4 -62.23 L 476.27 -68.33 L 477.15 -68.33 L 478.02 -68.33 L 478.89 -68.33 L 479.77 -68.33 L 480.64 -66.16 L 481.52 -66.16 L 482.39 -67.11 L 483.27 -67.11 L 484.14 -73.72 L 485.02 -74.93 L 485.89 -74.93 L 486.77 -74.93 L 487.64 -74.93 L 488.52 -82.5 L 489.39 -82.5 L 490.27 -83.82 L 491.14 -83.82 L 492.02 -83.82 L 492.89 -83.5 L 493.77 -83.5 L 494.64 -83.5 L 495.52 -83.5 L 496.39 -74.51 L 497.27 -93.81 L 498.14 -93.81 L 499.01 -93.81 L 499.89 -93.81 L 500.76 -93.81 L 501.64 -93.81 L 502.51 -88.01 L 503.39 -85.2 L 504.26 -81.72 L 505.14 -81.72 L 506.01 -81.72 L 506.89 -82.18 L 507.76 -82.18 L 508.64 -86.09 L 509.51 -87.28 L 510.39 -87.28 L 511.26 -90.7 L 512.14 -90.7 L 513.01 -90.79 L 513.89 -90.79 L 514.76 -90.79 L 515.64 -90.79 L 516.51 -90.79 L 517.39 -85.47 L 518.26 -85.47 L 519.13 -85.47 L 520.01 -85.47 L 520.88 -85.47 L 521.76 -80.4 L 522.63 -77.95 L 523.51 -77.36 L 524.38 -77.36 L 525.26 -72.92 L 526.13 -72.92 L 527.01 -64.18 L 527.88 -63.85 L 528.76 -63.85 L 529.63 -64 L 530.51 -64 L 531.38 -65.75 L 532.26 -65.75 L 533.13 -67.24 L 534.01 -67.24 L 534.88 -68.95 L 535.76 -69.81 L 536.63 -69.81 L 537.51 -70.01 L 538.38 -70.01 L 539.25 -70.85 L 540.13 -70.85 L 541 -70.85 L 541.88 -70.85 L 542.75 -70.85 L 543.63 -70.11 L 544.5 -70.11 L 545.38 -71.81 L 546.25 -71.81 L 547.13 -74.3 L 548 -74.3 L 548.88 -74.3 L 549.75 -74.3 L 550.63 -74.3 L 551.5 -67.47 L 552.38 -67.47 L 553.25 -67.47 L 554.13 -72.09 L 555 -72.09 L 555.88 -72.09 L 556.75 -72.09 L 557.63 -72.09 L 558.5 -67.9 L 559.37 -67.9 L 560.25 -61.47 L 561.12 -61.47 L 562 -76.95 L 562.87 -76.95 L 563.75 -79.71 L 564.62 -79.71 L 565.5 -79.71 L 566.37 -79.71 L 567.25 -79.71 L 568.12 -89.01 L 569 -89.87 L 569.87 -93.71 L 570.75 -93.71 L 571.62 -98.03 L 572.5 -98.03 L 573.37 -98.03 L 574.25 -98.03 L 575.12 -98.03 L 576 -93.03 L 576.87 -82.82 L 577.75 -82.82 L 578.62 -99.07 L 579.49 -101.99 L 580.37 -101.99 L 581.24 -101.99 L 582.12 -101.99 L 582.99 -101.37 L 583.87 -94.04 L 584.74 -99.07 L 585.62 -99.07 L 586.49 -104.09 L 587.37 -104.09 L 588.24 -108.7 L 589.12 -109.52 L 589.99 -109.52 L 590.87 -109.52 L 591.74 -109.52 L 592.62 -108.11 L 593.49 -108.11 L 594.37 -73.93 L 595.24 -72.08 L 596.12 -72.08 L 596.99 -71.35 L 597.87 -71.35 L 598.74 -71.35 L 599.61 -71.35 L 600.49 -65.89 L 601.36 -60.5 L 602.24 -62.9 L 603.11 -65.68 L 603.99 -65.68 L 604.86 -65.68 L 605.74 -65.68 L 606.61 -65.38 L 607.49 -65.38 L 608.36 -66.3 L 609.24 -66.3 L 610.11 -66.3 L 610.99 -66.3 L 611.86 -66.3 L 612.74 -66.38 L 613.61 -66.38 L 614.49 -66.51 L 615.36 -68.47 L 616.24 -68.47 L 617.11 -68.47 L 617.99 -68.47 L 618.86 -68.47 L 619.73 -68.38 L 620.61 -68.38 L 621.48 -67.22 L 622.36 -66.28 L 623.23 -66.28 L 624.11 -66.28 L 624.98 -64.8 L 625.86 -64.8 L 626.73 -64.8 L 627.61 -64.65 L 628.48 -64.65 L 629.36 -67.02 L 630.23 -67.02 L 631.11 -67.02 L 631.98 -67.02 L 632.86 -64.21 L 633.73 -64.21 L 634.61 -65.54 L 635.48 -65.54 L 636.36 -65.54 L 637.23 -65.54 L 638.11 -61.2 L 638.98 -55.3 L 639.85 -55.3 L 640.73 -55.3 L 641.6 -68.94 L 642.48 -68.94 L 643.35 -68.94 L 644.23 -71.92 L 645.1 -71.92 L 645.98 -78.53 L 646.85 -78.53 L 647.73 -81.42 L 648.6 -81.42 L 649.48 -86.73 L 650.35 -87 L 651.23 -96.7 L 652.1 -96.7 L 652.98 -96.7 L 653.85 -96.7 L 654.73 -96.7 L 655.6 -83.98 L 656.48 -76.6 L 657.35 -75.94 L 658.23 -88.01 L 659.1 -88.01 L 659.97 -94.72 L 660.85 -94.72 L 661.72 -106.99 L 662.6 -106.99 L 663.47 -106.99 L 664.35 -106.99 L 665.22 -106.99 L 666.1 -91.7 L 666.97 -91.7 L 667.85 -91.7 L 668.72 -81.48 L 669.6 -82.39 L 670.47 -82.39 L 671.35 -88.65 L 672.22 -93.03 L 673.1 -96.15 L 673.97 -96.15 L 674.85 -96.15 L 675.72 -96.15 L 676.6 -88.01 L 677.47 -88.01 L 678.35 -80.36 L 679.22 -80.36 L 680.09 -80.36 L 680.97 -80.36 L 681.84 -80.36 L 682.72 -75.94 L 683.59 -75.94 L 684.47 -75.94 L 685.34 -75.94 L 686.22 -81.43 L 687.09 -81.43 L 687.97 -81.43 L 688.84 -81.43 L 689.72 -81.43 L 690.59 -78.45 L 691.47 -78.45 L 692.34 -77.91 L 693.22 -77.91 L 694.09 -77.91 L 694.97 -73.41 L 695.84 -73.25 L 696.72 -75.5 L 697.59 -75.5 L 698.47 -75.5 L 699.34 -75.5 L 700.21 -74.94 L 701.09 -77.79 L 701.96 -77.79 L 702.84 -77.79 L 703.71 -77.79 L 704.59 -77.79 L 705.46 -77.43 L 706.34 -77.43 L 707.21 -77.43 L 708.09 -77.29 L 708.96 -77.29 L 709.84 -77.29 L 710.71 -77.29 L 711.59 -75.26 L 712.46 -80.97 L 713.34 -80.97 L 714.21 -104.93 L 715.09 -104.93 L 715.96 -104.93 L 716.84 -104.93 L 717.71 -87.36 L 718.59 -87.36 L 719.46 -87.36 L 719.46 -117.92 L 719.46 -117.92 L 718.59 -117.92 L 717.71 -119.59 L 716.84 -126.34 L 715.96 -132.89 L 715.09 -127.91 L 714.21 -127.91 L 713.34 -112.48 L 712.46 -112.48 L 711.59 -112.48 L 710.71 -112.48 L 709.84 -112.48 L 708.96 -125.22 L 708.09 -125.22 L 707.21 -123.51 L 706.34 -123.51 L 705.46 -123.51 L 704.59 -123.51 L 703.71 -123.51 L 702.84 -116.98 L 701.96 -116.98 L 701.09 -115.29 L 700.21 -115.29 L 699.34 -115.29 L 698.47 -115.29 L 697.59 -115.29 L 696.72 -117.88 L 695.84 -117.88 L 694.97 -117.88 L 694.09 -119.68 L 693.22 -112.89 L 692.34 -112.89 L 691.47 -112.89 L 690.59 -113.46 L 689.72 -113.46 L 688.84 -124.34 L 687.97 -125.47 L 687.09 -124.03 L 686.22 -124.03 L 685.34 -124.03 L 684.47 -124.03 L 683.59 -113.83 L 682.72 -113.83 L 681.84 -113.83 L 680.97 -113.83 L 680.09 -120.99 L 679.22 -120.99 L 678.35 -127.41 L 677.47 -127.41 L 676.6 -143.86 L 675.72 -143.86 L 674.85 -147.33 L 673.97 -146.96 L 673.1 -142.4 L 672.22 -141.4 L 671.35 -141.4 L 670.47 -137.1 L 669.6 -137.1 L 668.72 -137.1 L 667.85 -137.1 L 666.97 -137.1 L 666.1 -154.47 L 665.22 -154.47 L 664.35 -152.91 L 663.47 -152.91 L 662.6 -143.94 L 661.72 -143.94 L 660.85 -143.45 L 659.97 -143.45 L 659.1 -122.88 L 658.23 -115.62 L 657.35 -115.62 L 656.48 -115.62 L 655.6 -116.84 L 654.73 -116.84 L 653.85 -124.34 L 652.98 -134.4 L 652.1 -130.88 L 651.23 -125.8 L 650.35 -122.53 L 649.48 -122.53 L 648.6 -116.02 L 647.73 -114.29 L 646.85 -112.28 L 645.98 -99.54 L 645.1 -98.3 L 644.23 -98.3 L 643.35 -98.3 L 642.48 -98.3 L 641.6 -103.19 L 640.73 -97.72 L 639.85 -97.72 L 638.98 -97.72 L 638.11 -97.72 L 637.23 -99.47 L 636.36 -99.47 L 635.48 -101.42 L 634.61 -101.42 L 633.73 -102.06 L 632.86 -106.63 L 631.98 -107.11 L 631.11 -107.11 L 630.23 -101.3 L 629.36 -99.45 L 628.48 -99.08 L 627.61 -99.08 L 626.73 -99.08 L 625.86 -99.08 L 624.98 -102.51 L 624.11 -106.44 L 623.23 -107.59 L 622.36 -105.53 L 621.48 -105.53 L 620.61 -105.53 L 619.73 -105.53 L 618.86 -111.79 L 617.99 -103.79 L 617.11 -103.79 L 616.24 -103.79 L 615.36 -103.79 L 614.49 -105.53 L 613.61 -105.53 L 612.74 -105.53 L 611.86 -105.53 L 610.99 -108.41 L 610.11 -108.24 L 609.24 -108.24 L 608.36 -108.24 L 607.49 -100.6 L 606.61 -98.94 L 605.74 -98.94 L 604.86 -98.94 L 603.99 -98.94 L 603.11 -101.63 L 602.24 -101.63 L 601.36 -101.63 L 600.49 -101.63 L 599.61 -101.63 L 598.74 -104.4 L 597.87 -104.46 L 596.99 -107.64 L 596.12 -112.65 L 595.24 -119.95 L 594.37 -120.82 L 593.49 -129.45 L 592.62 -141.43 L 591.74 -142.41 L 590.87 -151 L 589.99 -151 L 589.12 -147.47 L 588.24 -147.47 L 587.37 -147.47 L 586.49 -147.47 L 585.62 -147.47 L 584.74 -152.17 L 583.87 -157.52 L 582.99 -157.52 L 582.12 -150.35 L 581.24 -140.4 L 580.37 -136.61 L 579.49 -136.61 L 578.62 -114.66 L 577.75 -114.66 L 576.87 -114.66 L 576 -114.66 L 575.12 -115.39 L 574.25 -137.41 L 573.37 -129.08 L 572.5 -129.08 L 571.62 -129.08 L 570.75 -129.08 L 569.87 -134.09 L 569 -133.39 L 568.12 -122.01 L 567.25 -122.01 L 566.37 -122.01 L 565.5 -122.01 L 564.62 -122.01 L 563.75 -123.34 L 562.87 -122.9 L 562 -113.64 L 561.12 -110.58 L 560.25 -110.28 L 559.37 -110.28 L 558.5 -110.28 L 557.63 -110.28 L 556.75 -115.29 L 555.88 -111.8 L 555 -111.8 L 554.13 -108.52 L 553.25 -108.52 L 552.38 -108.52 L 551.5 -111.77 L 550.63 -111.77 L 549.75 -111.77 L 548.88 -111.77 L 548 -111.67 L 547.13 -111.67 L 546.25 -110.66 L 545.38 -110.66 L 544.5 -110.66 L 543.63 -109.03 L 542.75 -109.03 L 541.88 -109.03 L 541 -109.03 L 540.13 -110.24 L 539.25 -110.24 L 538.38 -110.24 L 537.51 -110.24 L 536.63 -110.24 L 535.76 -112.28 L 534.88 -107.68 L 534.01 -107.68 L 533.13 -107.68 L 532.26 -107.62 L 531.38 -107.62 L 530.51 -107.62 L 529.63 -107.62 L 528.76 -107.62 L 527.88 -108.93 L 527.01 -108.93 L 526.13 -108.93 L 525.26 -108.93 L 524.38 -108.93 L 523.51 -121.1 L 522.63 -121.1 L 521.76 -120.32 L 520.88 -120.32 L 520.01 -120.32 L 519.13 -120.32 L 518.26 -122.57 L 517.39 -122.57 L 516.51 -122.57 L 515.64 -126.78 L 514.76 -137.41 L 513.89 -139.42 L 513.01 -133.96 L 512.14 -133.96 L 511.26 -133.96 L 510.39 -133.96 L 509.51 -127.29 L 508.64 -125.62 L 507.76 -125.61 L 506.89 -125.37 L 506.01 -125.37 L 505.14 -125.37 L 504.26 -125.37 L 503.39 -128.29 L 502.51 -127.8 L 501.64 -127.8 L 500.76 -127.8 L 499.89 -127.8 L 499.01 -128.51 L 498.14 -128.51 L 497.27 -122.41 L 496.39 -120.32 L 495.52 -118.71 L 494.64 -118.71 L 493.77 -118.71 L 492.89 -118.71 L 492.02 -122.03 L 491.14 -122.03 L 490.27 -122.41 L 489.39 -118.68 L 488.52 -118.68 L 487.64 -118.68 L 486.77 -118.68 L 485.89 -119.18 L 485.02 -115.37 L 484.14 -110.52 L 483.27 -110.52 L 482.39 -110.2 L 481.52 -110.2 L 480.64 -110.2 L 479.77 -110.2 L 478.89 -110.2 L 478.02 -107.54 L 477.15 -103.34 L 476.27 -101.91 L 475.4 -101.91 L 474.52 -101.91 L 473.65 -101.91 L 472.77 -97.1 L 471.9 -96.58 L 471.02 -96.58 L 470.15 -93.55 L 469.27 -93.55 L 468.4 -91.33 L 467.52 -91.33 L 466.65 -90.48 L 465.77 -90.48 L 464.9 -90.48 L 464.02 -90.48 L 463.15 -90.48 L 462.27 -94.86 L 461.4 -88.92 L 460.52 -88.92 L 459.65 -88.92 L 458.77 -87.1 L 457.9 -87.1 L 457.03 -87.1 L 456.15 -83.54 L 455.28 -83.54 L 454.4 -83.54 L 453.53 -83.54 L 452.65 -83.54 L 451.78 -91.88 L 450.9 -91.88 L 450.03 -91.88 L 449.15 -91.88 L 448.28 -91.88 L 447.4 -93.58 L 446.53 -87.22 L 445.65 -87.22 L 444.78 -87.22 L 443.9 -87.22 L 443.03 -87.22 L 442.15 -86.11 L 441.28 -85.91 L 440.4 -85.91 L 439.53 -81.26 L 438.65 -81.26 L 437.78 -81.26 L 436.91 -81.26 L 436.03 -106.71 L 435.16 -108.95 L 434.28 -116.43 L 433.41 -136.41 L 432.53 -127.41 L 431.66 -127.41 L 430.78 -127.41 L 429.91 -127.41 L 429.03 -130.83 L 428.16 -136.41 L 427.28 -143.56 L 426.41 -143.56 L 425.53 -139.03 L 424.66 -139.03 L 423.78 -133.6 L 422.91 -133.6 L 422.03 -133.6 L 421.16 -133.6 L 420.28 -133.6 L 419.41 -123.37 L 418.53 -123.37 L 417.66 -123.37 z" transform="translate(0 420)"/>
    </g>
   </g>
   <g id="matplotlib.axis_7">
    <g id="xtick_22">
     <g id="line2d_91">
      <path d="M 417.66 389.64 L 417.66 215.22 " clip-path="url(#pb5a18c550f)" style="fill: none; stroke-dasharray: 1.85,0.8; stroke-dashoffset: 0; stroke: #808080; stroke-opacity: 0.75; stroke-width: 0.5"/>
     </g>
     <g id="line2d_92">
      <g>
       <path d="M 0 0 L 0 3.5" transform="translate(417.66 389.64)" style="stroke: #000000; stroke-width: 0.8"/>
      </g>
     </g>
     <g id="text_55">
      <text style="font-size: 10px; font-family: 'DejaVu Sans', 'Liberation Sans', sans-serif; text-anchor: middle" x="417.66" y="403.888438" transform="rotate(-0 417.66 403.888438)">0</text>
     </g>
    </g>
    <g id="xtick_23">
     <g id="line2d_93">
      <path d="M 461.4 389.64 L 461.4 215.22 " clip-path="url(#pb5a18c550f)" style="fill: none; stroke-dasharray: 1.85,0.8; stroke-dashoffset: 0; stroke: #808080; stroke-opacity: 0.75; stroke-width: 0.5"/>
     </g>
     <g id="line2d_94">
      <g>
       <path d="M 0 0 L 0 3.5" transform="translate(461.39913 389.64)" style="stroke: #000000; stroke-width: 0.8"/>
      </g>
     </g>
     <g id="text_56">
      <text style="font-size: 10px; font-family: 'DejaVu Sans', 'Liberation Sans', sans-serif; text-anchor: middle" x="461.39913" y="403.888438" transform="rotate(-0 461.39913 403.888438)">200</text>
     </g>
    </g>
    <g id="xtick_24">
     <g id="line2d_95">
      <path d="M 505.14 389.64 L 505.14 215.22 " clip-path="url(#pb5a18c550f)" style="fill: none; stroke-dasharray: 1.85,0.8; stroke-dashoffset: 0; stroke: #808080; stroke-opacity: 0.75; stroke-width: 0.5"/>
     </g>
     <g id="line2d_96">
      <g>
       <path d="M 0 0 L 0 3.5" transform="translate(505.138261 389.64)" style="stroke: #000000; stroke-width: 0.8"/>
      </g>
     </g>
     <g id="text_57">
      <text style="font-size: 10px; font-family: 'DejaVu Sans', 'Liberation Sans', sans-serif; text-anchor: middle" x="505.138261" y="403.888438" transform="rotate(-0 505.138261 403.888438)">400</text>
     </g>
    </g>
    <g id="xtick_25">
     <g id="line2d_97">
      <path d="M 548.88 389.64 L 548.88 215.22 " clip-path="url(#pb5a18c550f)" style="fill: none; stroke-dasharray: 1.85,0.8; stroke-dashoffset: 0; stroke: #808080; stroke-opacity: 0.75; stroke-width: 0.5"/>
     </g>
     <g id="line2d_98">
      <g>
       <path d="M 0 0 L 0 3.5" transform="translate(548.877391 389.64)" style="stroke: #000000; stroke-width: 0.8"/>
      </g>
     </g>
     <g id="text_58">
      <text style="font-size: 10px; font-family: 'DejaVu Sans', 'Liberation Sans', sans-serif; text-anchor: middle" x="548.877391" y="403.888438" transform="rotate(-0 548.877391 403.888438)">600</text>
     </g>
    </g>
    <g id="xtick_26">
     <g id="line2d_99">
      <path d="M 592.62 389.64 L 592.62 215.22 " clip-path="url(#pb5a18c550f)" style="fill: none; stroke-dasharray: 1.85,0.8; stroke-dashoffset: 0; stroke: #808080; stroke-opacity: 0.75; stroke-width: 0.5"/>
     </g>
     <g id="line2d_100">
      <g>
       <path d="M 0 0 L 0 3.5" transform="translate(592.616522 389.64)" style="stroke: #000000; stroke-width: 0.8"/>
      </g>
     </g>
     <g id="text_59">
      <text style="font-size: 10px; font-family: 'DejaVu Sans', 'Liberation Sans', sans-serif; text-anchor: middle" x="592.616522" y="403.888438" transform="rotate(-0 592.616522 403.888438)">800</text>
     </g>
    </g>
    <g id="xtick_27">
     <g id="line2d_101">
      <path d="M 636.36 389.64 L 636.36 215.22 " clip-path="url(#pb5a18c550f)" style="fill: none; stroke-dasharray: 1.85,0.8; stroke-dashoffset: 0; stroke: #808080; stroke-opacity: 0.75; stroke-width: 0.5"/>
     </g>
     <g id="line2d_102">
      <g>
       <path d="M 0 0 L 0 3.5" transform="translate(636.355652 389.64)" style="stroke: #000000; stroke-width: 0.8"/>
      </g>
     </g>
     <g id="text_60">
      <text style="font-size: 10px; font-family: 'DejaVu Sans', 'Liberation Sans', sans-serif; text-anchor: middle" x="636.355652" y="403.888438" transform="rotate(-0 636.355652 403.888438)">1000</text>
     </g>
    </g>
    <g id="xtick_28">
     <g id="line2d_103">
      <path d="M 680.09 389.64 L 680.09 215.22 " clip-path="url(#pb5a18c550f)" style="fill: none; stroke-dasharray: 1.85,0.8; stroke-dashoffset: 0; stroke: #808080; stroke-opacity: 0.75; stroke-width: 0.5"/>
     </g>
     <g id="line2d_104">
      <g>
       <path d="M 0 0 L 0 3.5" transform="translate(680.094783 389.64)" style="stroke: #000000; stroke-width: 0.8"/>
      </g>
     </g>
     <g id="text_61">
      <text style="font-size: 10px; font-family: 'DejaVu Sans', 'Liberation Sans', sans-serif; text-anchor: middle" x="680.094783" y="403.888438" transform="rotate(-0 680.094783 403.888438)">1200</text>
     </g>
    </g>
    <g id="text_62">
     <text style="font-size: 10px; font-family: 'DejaVu Sans', 'Liberation Sans', sans-serif; text-anchor: middle" x="568.56" y="417.666562" transform="rotate(-0 568.56 417.666562)">Time (days)</text>
    </g>
   </g>
   <g id="matplotlib.axis_8">
    <g id="ytick_19">
     <g id="line2d_105">
      <path d="M 417.66 373.78 L 719.46 373.78 " clip-path="url(#pb5a18c550f)" style="fill: none; stroke-dasharray: 1.85,0.8; stroke-dashoffset: 0; stroke: #808080; stroke-opacity: 0.75; stroke-width: 0.5"/>
     </g>
     <g id="line2d_106">
      <g>
       <path d="M 0 0 L -3.5 0" transform="translate(417.66 373.783636)" style="stroke: #000000; stroke-width: 0.8"/>
      </g>
     </g>
     <g id="text_63">
      <text style="font-size: 10px; font-family: 'DejaVu Sans', 'Liberation Sans', sans-serif; text-anchor: end" x="411.11" y="377.582855" transform="rotate(-0 411.11 377.582855)">8000</text>
     </g>
    </g>
    <g id="ytick_20">
     <g id="line2d_107">
      <path d="M 417.66 342.07 L 719.46 342.07 " clip-path="url(#pb5a18c550f)" style="fill: none; stroke-dasharray: 1.85,0.8; stroke-dashoffset: 0; stroke: #808080; stroke-opacity: 0.75; stroke-width: 0.5"/>
     </g>
     <g id="line2d_108">
      <g>
       <path d="M 0 0 L -3.5 0" transform="translate(417.66 342.070909)" style="stroke: #000000; stroke-width: 0.8"/>
      </g>
     </g>
     <g id="text_64">
      <text style="font-size: 10px; font-family: 'DejaVu Sans', 'Liberation Sans', sans-serif; text-anchor: end" x="411.11" y="345.870128" transform="rotate(-0 411.11 345.870128)">10000</text>
     </g>
    </g>
    <g id="ytick_21">
     <g id="line2d_109">
      <path d="M 417.66 310.36 L 719.46 310.36 " clip-path="url(#pb5a18c550f)" style="fill: none; stroke-dasharray: 1.85,0.8; stroke-dashoffset: 0; stroke: #808080; stroke-opacity: 0.75; stroke-width: 0.5"/>
     </g>
     <g id="line2d_110">
      <g>
       <path d="M 0 0 L -3.5 0" transform="translate(417.66 310.358182)" style="stroke: #000000; stroke-width: 0.8"/>
      </g>
     </g>
     <g id="text_65">
      <text style="font-size: 10px; font-family: 'DejaVu Sans', 'Liberation Sans', sans-serif; text-anchor: end" x="411.11" y="314.157401" transform="rotate(-0 411.11 314.157401)">12000</text>
     </g>
    </g>
    <g id="ytick_22">
     <g id="line2d_111">
      <path d="M 417.66 278.65 L 719.46 278.65 " clip-path="url(#pb5a18c550f)" style="fill: none; stroke-dasharray: 1.85,0.8; stroke-dashoffset: 0; stroke: #808080; stroke-opacity: 0.75; stroke-width: 0.5"/>
     </g>
     <g id="line2d_112">
      <g>
       <path d="M 0 0 L -3.5 0" transform="translate(417.66 278.645455)" style="stroke: #000000; stroke-width: 0.8"/>
      </g>
     </g>
     <g id="text_66">
      <text style="font-size: 10px; font-family: 'DejaVu Sans', 'Liberation Sans', sans-serif; text-anchor: end" x="411.11" y="282.444673" transform="rotate(-0 411.11 282.444673)">14000</text>
     </g>
    </g>
    <g id="ytick_23">
     <g id="line2d_113">
      <path d="M 417.66 246.93 L 719.46 246.93 " clip-path="url(#pb5a18c550f)" style="fill: none; stroke-dasharray: 1.85,0.8; stroke-dashoffset: 0; stroke: #808080; stroke-opacity: 0.75; stroke-width: 0.5"/>
     </g>
     <g id="line2d_114">
      <g>
       <path d="M 0 0 L -3.5 0" transform="translate(417.66 246.932727)" style="stroke: #000000; stroke-width: 0.8"/>
      </g>
     </g>
     <g id="text_67">
      <text style="font-size: 10px; font-family: 'DejaVu Sans', 'Liberation Sans', sans-serif; text-anchor: end" x="411.11" y="250.731946" transform="rotate(-0 411.11 250.731946)">16000</text>
     </g>
    </g>
    <g id="ytick_24">
     <g id="line2d_115">
      <path d="M 417.66 215.22 L 719.46 215.22 " clip-path="url(#pb5a18c550f)" style="fill: none; stroke-dasharray: 1.85,0.8; stroke-dashoffset: 0; stroke: #808080; stroke-opacity: 0.75; stroke-width: 0.5"/>
     </g>
     <g id="line2d_116">
      <g>
       <path d="M 0 0 L -3.5 0" transform="translate(417.66 215.22)" style="stroke: #000000; stroke-width: 0.8"/>
      </g>
     </g>
     <g id="text_68">
      <text style="font-size: 10px; font-family: 'DejaVu Sans', 'Liberation Sans', sans-serif; text-anchor: end" x="411.11" y="219.019219" transform="rotate(-0 411.11 219.019219)">18000</text>
     </g>
    </g>
    <g id="text_69">
     <text style="font-size: 10px; font-family: 'DejaVu Sans', 'Liberation Sans', sans-serif; text-anchor: middle" x="372.767813" y="302.43" transform="rotate(-90 372.767813 302.43)">Load (MWmed)</text>
    </g>
   </g>
   <g id="line2d_117">
    <path d="M 417.66 292.67 L 417.88 293.42 L 418.32 350.03 L 418.53 298.8 L 418.75 287.28 L 418.97 286.02 L 419.19 346.01 L 419.41 269.37 L 419.63 315.14 L 419.85 337.35 L 420.07 284.83 L 420.28 271.68 L 420.5 278.53 L 420.72 276.69 L 420.94 270.58 L 421.38 334.19 L 421.6 340.48 L 421.82 282.93 L 422.03 282.44 L 422.47 285.72 L 422.91 332.62 L 423.13 291.83 L 423.35 274.6 L 423.56 276.99 L 423.78 286.3 L 424 277 L 424.44 331.65 L 424.66 338.47 L 424.88 283.73 L 425.1 283.08 L 425.53 270.08 L 425.97 332.26 L 426.19 332.94 L 426.41 284.8 L 426.63 283.36 L 426.85 272.47 L 427.06 284.17 L 427.5 324.77 L 427.72 287.7 L 427.94 284.31 L 428.16 261.33 L 428.38 285.37 L 428.59 285.56 L 428.81 309.4 L 429.03 353.05 L 429.25 291.16 L 429.69 279.63 L 429.91 285.2 L 430.13 287.09 L 430.56 343.11 L 430.78 296.66 L 431 293.52 L 431.22 348.02 L 431.44 291.79 L 431.66 288.63 L 432.09 342.79 L 432.31 279.63 L 432.53 282.42 L 432.75 339.98 L 432.97 281.96 L 433.19 258.21 L 433.62 330.33 L 433.84 287.78 L 434.28 281.54 L 434.5 284.52 L 434.72 277.62 L 435.16 350.03 L 435.37 301.38 L 435.59 299.61 L 436.03 307.09 L 436.25 309.62 L 436.69 355 L 437.12 309.33 L 437.56 364.61 L 437.78 334.92 L 438.22 364.17 L 438.44 339.58 L 438.65 334.86 L 438.87 334.78 L 439.09 333.7 L 439.31 330.12 L 439.75 369.22 L 439.97 374.97 L 440.19 334.6 L 440.4 332.79 L 440.62 333.48 L 440.84 329.93 L 441.28 368.58 L 441.5 336.32 L 441.72 369.14 L 441.94 321.88 L 442.15 324.83 L 442.37 325.05 L 442.81 364.72 L 443.03 333.21 L 443.68 316.65 L 444.34 364.26 L 444.56 333.39 L 444.78 374.17 L 445 328.81 L 445.22 331.37 L 445.43 330.97 L 445.87 370.77 L 446.09 320.88 L 446.31 325.06 L 446.53 321.43 L 446.75 328.74 L 446.97 325.8 L 447.4 372.31 L 447.62 333.61 L 448.06 322.45 L 448.28 319.87 L 448.5 321.73 L 448.71 375.67 L 448.93 373.48 L 449.15 338.6 L 449.59 331.52 L 449.81 332.08 L 450.03 324.16 L 450.46 373.77 L 450.68 336.37 L 450.9 331.42 L 451.12 321.88 L 451.34 331.96 L 451.56 330.08 L 452 372.26 L 452.21 334.87 L 452.65 322.89 L 452.87 323.42 L 453.09 330.99 L 453.53 370.99 L 453.74 379.19 L 453.96 333.26 L 454.18 332.49 L 454.4 336.21 L 454.62 333.7 L 455.06 370.51 L 455.28 335.69 L 455.49 334.49 L 455.71 332.15 L 455.93 323.89 L 456.15 325.23 L 456.59 371.04 L 456.81 335.62 L 457.03 330.86 L 457.24 330.96 L 457.46 330.62 L 457.68 328.93 L 458.12 372.15 L 458.34 334.38 L 458.56 325.84 L 458.77 322.38 L 458.99 325.96 L 459.21 327.12 L 459.65 371.74 L 459.87 331.29 L 460.09 328.19 L 460.31 328.78 L 460.52 327.77 L 460.74 320.37 L 461.18 374.17 L 461.4 332.36 L 461.62 320.36 L 461.84 325.85 L 462.06 326.33 L 462.27 321.18 L 462.71 371.89 L 462.93 332.13 L 463.15 325.96 L 463.37 328.61 L 463.59 318.87 L 463.8 328.18 L 464.24 373.66 L 464.46 332.05 L 464.9 325.56 L 465.12 326.67 L 465.34 329.85 L 465.77 372.24 L 465.99 332.87 L 466.21 318.46 L 466.43 328.13 L 466.65 316.35 L 466.87 327.56 L 467.3 373.16 L 467.52 330.7 L 467.74 325.93 L 467.96 324.71 L 468.18 326.01 L 468.4 322.49 L 468.83 369.27 L 469.05 327.59 L 469.27 370.14 L 469.49 324.27 L 469.93 319.45 L 470.37 365.04 L 470.58 325.58 L 470.8 364.92 L 471.02 319.62 L 471.24 318.94 L 471.46 321.77 L 471.9 363.51 L 472.12 323.91 L 472.33 314.84 L 472.55 320.74 L 472.77 312.97 L 472.99 318.52 L 473.43 364.12 L 473.65 322.49 L 473.86 314.79 L 474.08 314.13 L 474.3 316.27 L 474.52 315.3 L 474.96 361.82 L 475.18 368.13 L 475.4 314.33 L 475.61 313.67 L 475.83 313.61 L 476.05 312.69 L 476.49 361.74 L 476.71 316.89 L 477.15 308.49 L 477.36 309.71 L 477.58 290.89 L 477.8 336.19 L 478.02 355.63 L 478.24 313.01 L 478.46 294.01 L 478.68 307.92 L 478.89 293.87 L 479.11 306.71 L 479.77 368.43 L 479.99 307.42 L 480.21 305.84 L 480.43 309.11 L 480.64 308.41 L 481.08 357.8 L 481.3 311.48 L 481.52 306.58 L 481.74 293.7 L 481.96 305.52 L 482.18 308.98 L 482.61 358.09 L 482.83 315.32 L 483.05 307.47 L 483.27 308.65 L 483.49 300.67 L 483.71 308.74 L 484.14 356.85 L 484.36 365.12 L 484.58 303.73 L 484.8 303.4 L 485.02 296.86 L 485.24 304.88 L 485.67 350.25 L 485.89 305.17 L 486.33 295.72 L 486.55 295.37 L 486.77 300.2 L 487.21 349.03 L 487.42 294.21 L 487.64 297.36 L 487.86 297.69 L 488.08 297.51 L 488.3 297.49 L 488.74 349.53 L 488.95 302.91 L 489.17 284.26 L 489.39 297.63 L 489.61 295.44 L 489.83 274.8 L 490.27 341.46 L 490.49 302.18 L 490.7 292.82 L 490.92 296.71 L 491.14 293.62 L 491.36 294 L 492.02 358.08 L 492.24 298.04 L 492.67 296.73 L 492.89 279.33 L 493.33 340.46 L 493.55 302.95 L 493.77 297.32 L 493.98 299.05 L 494.2 299.59 L 494.42 300.66 L 494.86 349.45 L 495.08 295.72 L 495.3 303.59 L 495.52 301.75 L 495.73 293.63 L 495.95 357.07 L 496.17 329.21 L 496.39 353.98 L 496.61 307.7 L 496.83 300.07 L 497.05 297.12 L 497.27 287.52 L 497.48 292.4 L 497.7 365.62 L 497.92 339.56 L 498.14 292.53 L 498.58 277.62 L 499.01 284.44 L 499.45 330.15 L 499.89 265.75 L 500.11 285.75 L 500.55 288.23 L 500.98 334.57 L 501.2 292.89 L 501.42 335.96 L 501.64 290.55 L 501.86 289.45 L 502.08 287.74 L 502.51 338.76 L 502.73 297.29 L 502.95 289.15 L 503.17 292.97 L 503.39 343 L 503.61 280.03 L 504.04 342.24 L 504.26 296.29 L 504.48 293.2 L 504.7 291.89 L 504.92 276.11 L 505.36 319.8 L 505.58 349.53 L 505.79 299.66 L 506.01 290.67 L 506.23 293.63 L 506.45 293.78 L 506.67 290.42 L 507.11 343.46 L 507.33 344 L 507.54 290.41 L 507.76 291.16 L 507.98 288.75 L 508.2 291.3 L 508.64 341.78 L 508.86 294.02 L 509.07 288.37 L 509.29 265.35 L 509.51 268.53 L 509.73 285.63 L 510.17 337.87 L 510.39 290.22 L 510.61 283.59 L 511.04 282.08 L 511.26 284.03 L 511.7 336.68 L 511.92 342.49 L 512.14 286.14 L 512.36 284.52 L 512.57 276.16 L 512.79 285.1 L 513.23 333.27 L 513.45 289.55 L 513.67 286.41 L 513.89 267.36 L 514.1 283.63 L 514.32 285.46 L 514.76 333.17 L 514.98 291.47 L 515.2 276.62 L 515.42 285.59 L 515.64 287.74 L 515.85 278.62 L 516.29 338.97 L 516.51 294.91 L 516.73 289.26 L 517.39 293.47 L 517.6 315.13 L 517.82 352.85 L 518.04 300.24 L 518.48 293.52 L 518.7 295.6 L 518.92 282.85 L 519.35 338.5 L 519.57 299.51 L 519.79 289.19 L 520.01 295.71 L 520.23 298.33 L 520.45 298.99 L 520.88 343.56 L 521.1 303.32 L 521.32 346.01 L 521.54 293.61 L 521.76 301.94 L 521.98 302.49 L 522.42 346.61 L 522.63 307.91 L 522.85 292.27 L 523.07 302.96 L 523.29 307.27 L 523.51 294.94 L 523.95 351.04 L 524.16 310.44 L 524.38 307.16 L 524.6 292.7 L 524.82 306.56 L 525.04 307.97 L 525.48 357.17 L 525.7 314.48 L 525.91 359.79 L 526.13 307.11 L 526.35 310.27 L 526.57 307.4 L 527.01 360.11 L 527.23 316.29 L 527.45 307.05 L 527.66 310.57 L 527.88 300.74 L 528.1 311.17 L 528.54 360.83 L 528.76 314.83 L 528.98 362.1 L 529.19 303.22 L 529.41 302.52 L 529.63 308.62 L 530.07 360.62 L 530.29 316.29 L 530.51 310.48 L 530.73 308.42 L 530.94 309.48 L 531.16 308.74 L 531.6 359.96 L 531.82 316.61 L 532.04 309.72 L 532.48 304.76 L 532.69 308.19 L 533.13 358.21 L 533.35 364.11 L 533.57 311.06 L 533.79 310.16 L 534.01 308.35 L 534.22 311.13 L 534.66 356.72 L 534.88 302.25 L 535.1 310.32 L 535.32 357.07 L 535.54 307.67 L 535.76 308.42 L 536.19 355.01 L 536.41 303.76 L 536.63 308.22 L 536.85 310.2 L 537.07 309.28 L 537.29 303.29 L 537.72 354.16 L 537.94 359.59 L 538.16 309.59 L 538.38 309.65 L 538.6 306.63 L 538.82 305.8 L 539.25 353.95 L 539.47 311.36 L 539.69 305.42 L 539.91 303.64 L 540.13 297.22 L 540.35 301.45 L 540.79 353.11 L 541 310.01 L 541.22 296.22 L 541.44 304.89 L 541.66 308.28 L 541.88 307.01 L 542.1 355.56 L 542.32 353.85 L 542.54 313.36 L 542.75 308.91 L 542.97 311.32 L 543.19 310.34 L 543.41 300.74 L 543.85 354.32 L 544.07 314.56 L 544.28 302.84 L 544.72 310.95 L 544.94 310.44 L 545.38 353.91 L 545.6 357.88 L 545.82 305.38 L 546.03 301.25 L 546.47 307.28 L 546.91 352.16 L 547.13 310.81 L 547.35 304.37 L 547.57 353.05 L 547.78 296.39 L 548 294.51 L 548.44 349.66 L 548.66 306.73 L 548.88 303.88 L 549.1 304.54 L 549.31 302.17 L 549.53 297.22 L 549.97 355.37 L 550.19 356.57 L 550.41 305.91 L 550.85 305.6 L 551.06 304.26 L 551.5 356.49 L 551.72 313.1 L 551.94 310.18 L 552.16 309.2 L 552.38 303.55 L 552.6 307.52 L 553.03 360.09 L 553.25 313.69 L 553.47 310.32 L 553.69 309.7 L 553.91 309.64 L 554.13 304.24 L 554.56 356.57 L 554.78 312.17 L 555.22 300.74 L 555.44 305.35 L 555.66 307.23 L 556.09 351.88 L 556.31 313.82 L 556.53 308.77 L 556.75 288.38 L 556.97 307.22 L 557.19 310.26 L 557.63 356.07 L 557.84 316.07 L 558.06 312.65 L 558.28 300.04 L 558.5 308.55 L 558.72 309.91 L 559.16 366.07 L 559.37 368.13 L 559.59 306.43 L 559.81 305.75 L 560.03 307.04 L 560.25 305.45 L 560.69 366.26 L 560.91 369.94 L 561.12 302.4 L 561.34 301.83 L 561.56 299.04 L 561.78 293.14 L 562.22 362.5 L 562.44 362.1 L 562.66 292.7 L 562.87 297.65 L 563.09 295.31 L 563.31 298.82 L 563.75 347.02 L 563.97 291.69 L 564.4 296.14 L 564.62 296.31 L 564.84 280.13 L 565.06 323.86 L 565.28 344.26 L 565.5 301.51 L 565.72 296.52 L 565.94 295.37 L 566.15 295.08 L 566.37 294.02 L 566.81 345.02 L 567.03 294.97 L 567.25 347.02 L 567.47 289.28 L 567.69 282.64 L 567.9 285.23 L 568.34 343.76 L 568.56 292.72 L 568.78 345.01 L 569 281.74 L 569.22 279.43 L 569.43 286.29 L 569.65 334.95 L 569.87 334.1 L 570.09 294.29 L 570.31 281.82 L 570.53 289.2 L 570.97 281.94 L 571.4 330.25 L 571.62 330.93 L 571.84 293.47 L 572.06 294.05 L 572.28 291.91 L 572.5 286.95 L 572.93 325.93 L 573.15 268.57 L 573.37 276.39 L 573.59 277.52 L 573.81 275.15 L 574.03 266.76 L 574.46 329.87 L 574.68 330.93 L 574.9 281.27 L 575.12 282.7 L 575.34 278.62 L 575.56 279.97 L 576 354.56 L 576.21 300.64 L 576.65 303.01 L 576.87 305.99 L 577.09 301.37 L 577.31 344 L 577.53 342.37 L 577.75 305.46 L 577.96 299.65 L 578.18 279.43 L 578.4 299.36 L 578.62 283.05 L 579.06 341.15 L 579.28 342.49 L 579.49 284.5 L 579.71 278.54 L 579.93 275.64 L 580.15 324.9 L 580.37 296.53 L 580.59 321.98 L 580.81 273.83 L 581.03 265.69 L 581.24 265.94 L 581.46 265.68 L 581.68 243.43 L 582.12 322.59 L 582.34 270.15 L 582.56 264.7 L 582.78 267.39 L 582.99 329.93 L 583.21 243.43 L 583.65 332.68 L 583.87 343.8 L 584.09 263.84 L 584.52 268.35 L 584.74 258.51 L 585.18 337.97 L 585.4 280.03 L 585.62 263.86 L 585.84 275.76 L 586.06 265.95 L 586.27 278.6 L 586.71 324.9 L 586.93 281.64 L 587.15 268.57 L 587.37 274.22 L 587.81 270.74 L 588.24 319.87 L 588.46 261.53 L 588.68 269.77 L 589.12 267.32 L 589.34 271.11 L 589.77 315.26 L 589.99 261.03 L 590.21 264.45 L 590.43 272.17 L 590.65 274.71 L 590.87 265.04 L 591.3 314.44 L 591.52 278.93 L 591.74 315.85 L 591.96 277.53 L 592.18 276.6 L 592.4 264.35 L 592.84 350.03 L 593.05 287.62 L 593.27 273.63 L 593.49 274.6 L 593.71 281.34 L 593.93 275.61 L 594.15 353.05 L 594.37 351.88 L 594.58 296.17 L 594.8 286.59 L 595.02 293.5 L 595.24 295.21 L 595.46 299.86 L 595.9 354.51 L 596.12 364.11 L 596.33 300.27 L 596.55 296.09 L 596.77 296.22 L 596.99 303.38 L 597.43 352.61 L 597.65 313.57 L 597.87 309.95 L 598.08 308.39 L 598.3 308.6 L 598.52 309.21 L 598.96 356.55 L 599.18 358.08 L 599.4 311.57 L 599.61 311.64 L 599.83 314.01 L 600.05 312.34 L 600.49 363.46 L 600.71 373.66 L 600.93 314.41 L 601.36 317.41 L 601.58 314.91 L 602.02 362.92 L 602.24 363.61 L 602.46 305.28 L 602.68 315.48 L 602.9 315.21 L 603.11 293.42 L 603.33 341.36 L 603.55 361.06 L 603.77 322.02 L 603.99 315.35 L 604.21 298.5 L 604.43 300.82 L 605.3 378.19 L 605.52 319.14 L 605.74 317.1 L 605.96 318.13 L 606.18 315.43 L 606.61 358.31 L 606.83 359.08 L 607.05 315.82 L 607.27 314.25 L 607.49 305.59 L 607.71 305.98 L 608.14 357.71 L 608.36 358.58 L 608.58 307.8 L 608.8 308.02 L 609.02 308.57 L 609.24 308.63 L 609.67 357.67 L 609.89 301.96 L 610.11 303.45 L 610.33 310.49 L 610.55 307.65 L 610.77 302.97 L 611.21 362.1 L 611.42 315.32 L 611.64 309.78 L 611.86 309.64 L 612.08 311.55 L 612.3 307.62 L 612.74 363.61 L 612.96 322.26 L 613.17 315.83 L 613.39 315.58 L 613.61 314.71 L 613.83 310.51 L 614.27 357.58 L 614.49 319.43 L 614.7 358.08 L 614.92 308.13 L 615.14 306.43 L 615.36 303.47 L 615.8 357.45 L 616.02 318.12 L 616.24 314.07 L 616.45 315.46 L 616.89 312.25 L 617.33 355.49 L 617.55 316.56 L 617.77 307.68 L 617.99 304.25 L 618.2 358.08 L 618.42 303.35 L 618.86 355.58 L 619.08 314.49 L 619.3 309.09 L 619.52 308.92 L 619.73 311.39 L 619.95 300.66 L 620.39 356.75 L 620.61 318.32 L 620.83 310.5 L 621.05 310.62 L 621.27 359.08 L 621.48 310.76 L 621.92 358.06 L 622.14 315.35 L 622.36 308.44 L 622.58 308.08 L 622.8 308.68 L 623.02 301.96 L 623.45 357.69 L 623.67 314.73 L 623.89 362.1 L 624.11 309 L 624.33 311.25 L 624.55 299.95 L 624.98 359.16 L 625.2 319.68 L 625.42 316.91 L 625.64 309.59 L 625.86 315.58 L 626.08 313.53 L 626.51 362.99 L 626.73 375.67 L 626.95 316.95 L 627.17 319.81 L 627.39 320.13 L 627.61 318.52 L 628.05 365 L 628.26 367.13 L 628.48 316.59 L 628.7 318.12 L 629.14 314.74 L 629.58 359.32 L 629.79 308.5 L 630.01 314.03 L 630.23 314.03 L 630.67 307.2 L 631.11 356.95 L 631.33 364.61 L 631.54 314.74 L 631.76 303.47 L 631.98 312.28 L 632.2 315.05 L 632.64 359.75 L 632.86 320.61 L 633.29 308.93 L 633.51 315.85 L 633.73 309.41 L 634.17 360.17 L 634.39 320.75 L 634.61 373.16 L 634.82 317.28 L 635.26 313.97 L 635.7 358.42 L 635.92 319.55 L 636.14 316.61 L 636.36 316.5 L 636.57 314.62 L 636.79 317.54 L 637.23 362.76 L 637.45 371.65 L 637.67 317.99 L 637.89 316.57 L 638.11 317.74 L 638.32 308.5 L 638.76 369.06 L 638.98 324.37 L 639.2 319.83 L 639.42 370.14 L 639.64 318.32 L 639.85 321.4 L 640.29 368.67 L 640.51 322.98 L 640.73 312.84 L 640.95 309.5 L 641.17 312.47 L 641.39 312.84 L 641.82 368.67 L 642.04 369.14 L 642.26 316.69 L 642.48 317.13 L 642.7 319.06 L 642.92 303.97 L 643.35 355.02 L 643.57 320.32 L 643.79 320.52 L 644.01 318.58 L 644.45 317.74 L 644.67 334.76 L 644.88 368.13 L 645.1 316.49 L 645.54 303.76 L 645.76 310.63 L 645.98 306.92 L 646.2 352.05 L 646.42 350.39 L 646.63 301.75 L 646.85 305.35 L 647.07 300.02 L 647.29 304.91 L 647.51 304.98 L 647.95 345.44 L 648.17 307.75 L 648.38 291.19 L 648.6 291.15 L 648.82 300.18 L 649.04 297.39 L 649.48 342.54 L 649.7 348.53 L 649.91 293.65 L 650.13 293.51 L 650.35 290.24 L 650.57 285.16 L 651.01 337.24 L 651.23 336.96 L 651.45 284.26 L 651.88 272.09 L 652.1 275.77 L 652.54 327.26 L 652.76 285.75 L 652.98 269.57 L 653.2 274.83 L 653.41 285.5 L 653.63 284.87 L 654.07 339.98 L 654.29 281.64 L 654.73 294.82 L 654.94 294.68 L 655.16 291.69 L 655.6 347.36 L 655.82 358.08 L 656.04 309.11 L 656.26 306.58 L 656.48 299.19 L 656.69 305.28 L 657.13 348.29 L 657.35 312.47 L 657.57 300.74 L 657.79 302.33 L 658.01 300.42 L 658.23 293.16 L 658.66 348.02 L 658.88 288.95 L 659.1 272.59 L 659.32 274.99 L 659.54 278.79 L 659.76 276.38 L 660.19 335.96 L 660.41 283.95 L 660.63 271.08 L 660.85 277.25 L 661.07 276.03 L 661.29 275.65 L 661.72 329.24 L 661.94 329.93 L 662.16 272.1 L 662.6 257.01 L 662.82 269.99 L 663.26 316.97 L 663.47 270.93 L 663.69 265.24 L 663.91 263.13 L 664.13 263.3 L 664.35 261.56 L 664.79 323.48 L 665 266.72 L 665.22 339.98 L 665.44 261.51 L 665.66 254.49 L 665.88 258.46 L 666.32 332.27 L 666.54 269.14 L 666.75 263.58 L 666.97 264.9 L 667.19 247.96 L 667.63 298.74 L 667.85 342.48 L 668.07 279.79 L 668.29 363.91 L 668.5 278.94 L 668.72 287.15 L 668.94 289.61 L 669.38 341.07 L 669.6 344 L 669.82 285.9 L 670.03 275.47 L 670.25 273.48 L 670.47 278.03 L 670.91 341.57 L 671.13 283.87 L 671.35 275.15 L 671.57 274.64 L 671.78 342.49 L 672 273.63 L 672.44 335.31 L 672.66 279.52 L 672.88 269.18 L 673.1 269.07 L 673.32 330.93 L 673.53 268.7 L 673.97 327.81 L 674.19 260.53 L 674.41 264.51 L 674.63 260.52 L 674.85 267.61 L 675.06 259.52 L 675.5 332.85 L 675.72 335.96 L 675.94 270.74 L 676.16 268.57 L 676.38 272.76 L 676.6 273.36 L 677.03 350.29 L 677.25 353.05 L 677.47 272.17 L 677.69 282.94 L 677.91 283.71 L 678.13 288.63 L 678.56 351.56 L 678.78 299.44 L 679 362.1 L 679.22 291.42 L 679.44 295.27 L 679.66 281.64 L 680.09 343.6 L 680.31 303.25 L 680.53 301.15 L 680.75 295.72 L 680.97 301.12 L 681.19 295.05 L 681.63 353.94 L 681.84 364.11 L 682.06 304.95 L 682.28 305.5 L 682.5 302.2 L 682.72 303.66 L 683.16 348.02 L 683.59 291.22 L 683.81 303.25 L 684.03 301.26 L 684.25 288.17 L 684.69 348.99 L 684.91 308.28 L 685.12 292.01 L 685.34 299.8 L 685.56 302.28 L 685.78 298.73 L 686.22 350.76 L 686.44 360.89 L 686.66 290.57 L 686.87 299.13 L 687.09 298.94 L 687.31 300.16 L 687.75 342.54 L 687.97 303.12 L 688.19 290.5 L 688.41 300.78 L 688.62 298.04 L 688.84 287.17 L 689.28 344.91 L 689.5 305 L 689.72 345.51 L 689.94 298.04 L 690.15 291.69 L 690.37 295.8 L 690.81 346.24 L 691.03 305.46 L 691.25 349.03 L 691.47 302.58 L 691.9 303.5 L 692.34 346.06 L 692.56 310.24 L 692.78 303.45 L 693 304.85 L 693.22 291.19 L 693.44 296.36 L 693.87 350.55 L 694.09 307.67 L 694.31 360.59 L 694.53 304.15 L 694.75 301.63 L 694.97 294.21 L 695.4 356.83 L 695.62 311.56 L 695.84 358.58 L 696.06 306.18 L 696.28 303.25 L 696.5 298.16 L 696.93 350.72 L 697.15 310.36 L 697.37 306.31 L 697.81 303.43 L 698.03 291.69 L 698.47 348.47 L 698.68 349.03 L 698.9 304.79 L 699.12 303.47 L 699.34 307.24 L 699.56 300.74 L 700 351.71 L 700.21 365.12 L 700.43 305.56 L 700.65 307.27 L 700.87 299.06 L 701.09 307.56 L 701.53 349.63 L 701.75 350.03 L 701.96 302.35 L 702.18 298.74 L 702.4 298.97 L 702.62 290.69 L 703.06 346.18 L 703.28 300.74 L 703.5 297.98 L 703.71 346.01 L 703.93 296.3 L 704.15 287.17 L 704.59 348.11 L 704.81 302.75 L 705.03 294.93 L 705.24 296.42 L 705.46 296.03 L 705.68 292.52 L 706.12 346.53 L 706.34 305.07 L 706.56 366.62 L 706.78 301.93 L 706.99 290.82 L 707.21 301.31 L 707.65 348.11 L 707.87 305.13 L 708.09 351.04 L 708.31 295.49 L 708.53 280.63 L 708.74 296.06 L 709.18 346.68 L 709.4 300.8 L 709.84 289.68 L 710.27 297.77 L 710.71 348.7 L 710.93 307.44 L 711.15 305.5 L 711.37 350.54 L 711.59 303.82 L 711.81 303.55 L 712.24 347.66 L 712.46 306.99 L 712.68 299.02 L 712.9 360.09 L 713.12 294.24 L 713.34 288.13 L 713.77 342.25 L 713.99 290.37 L 714.21 343 L 714.43 282.58 L 714.65 283.62 L 714.87 272.59 L 715.09 305.59 L 715.3 319.04 L 715.52 285.14 L 715.74 277.99 L 715.96 278.64 L 716.18 274.08 L 716.4 274.1 L 716.84 343 L 717.05 293.12 L 717.27 285.74 L 717.49 283.15 L 717.71 289.7 L 717.93 289.85 L 718.37 336.61 L 718.59 296.44 L 718.8 343.5 L 719.02 298.12 L 719.24 299.01 L 719.46 301.94 L 719.46 301.94 " clip-path="url(#pb5a18c550f)" style="fill: none; stroke: #000000; stroke-width: 1.6; stroke-linecap: square"/>
   </g>
   <g id="line2d_118">
    <path d="M 417.66 318.85 L 420.07 299.51 L 420.28 298.61 L 420.5 298.38 L 421.16 298.54 L 422.25 298.83 L 422.47 298.73 L 422.91 298.01 L 424.22 295.05 L 424.88 294.45 L 426.41 293.31 L 426.85 292.63 L 427.28 291.89 L 427.5 291.76 L 427.72 292.16 L 428.16 294.57 L 429.03 299.91 L 429.91 304.9 L 430.34 306.24 L 430.56 306.29 L 430.78 305.22 L 431.88 295.8 L 432.53 293.22 L 432.97 292.22 L 433.19 292.07 L 433.41 292.38 L 433.84 294.78 L 434.72 302.77 L 435.16 307.98 L 436.25 322.64 L 437.12 330.23 L 438 336 L 438.87 340.53 L 439.53 342.74 L 439.97 343.92 L 440.19 344.29 L 440.4 344.42 L 440.62 344.14 L 441.06 342.44 L 441.94 338.33 L 442.15 337.96 L 444.34 337.95 L 444.78 338.08 L 445.87 338.99 L 446.09 338.96 L 446.53 338.5 L 447.18 337.62 L 447.4 337.5 L 447.84 337.59 L 448.5 338.04 L 449.37 338.63 L 449.81 338.7 L 451.34 338.44 L 451.78 338.93 L 452.43 340.33 L 453.31 342.14 L 453.74 342.46 L 454.18 342.23 L 454.62 341.65 L 456.15 339.27 L 456.59 339.16 L 458.12 339.42 L 458.56 339.1 L 459.21 338.2 L 460.09 337 L 462.06 335.35 L 462.71 335.02 L 463.37 334.94 L 466.65 334.85 L 467.3 334.45 L 468.83 333.07 L 469.93 331.75 L 476.27 323.1 L 477.8 320.12 L 478.24 319.9 L 478.68 320.12 L 479.33 320.88 L 479.99 321.64 L 480.43 321.85 L 480.64 321.75 L 481.08 320.89 L 482.39 317.14 L 482.61 316.91 L 482.83 316.98 L 483.05 317.45 L 484.14 320.93 L 484.36 320.85 L 484.58 320.43 L 485.02 318.82 L 487.42 307.6 L 488.08 305.29 L 488.52 304.49 L 488.95 304.43 L 489.61 304.73 L 490.7 305.27 L 491.58 305.3 L 493.33 305.33 L 493.77 305.77 L 494.2 306.62 L 494.86 308.48 L 495.3 311.69 L 496.61 323.93 L 496.83 324.74 L 497.05 324.76 L 497.27 323.9 L 497.7 320.17 L 499.01 306.26 L 499.89 298.43 L 500.33 296.62 L 500.55 296.66 L 500.76 297.03 L 501.2 298.42 L 502.08 301.78 L 502.51 302.61 L 503.39 303.01 L 504.92 303.58 L 506.01 304.08 L 506.23 304.1 L 506.45 303.97 L 506.89 302.93 L 507.54 300.21 L 508.42 296.66 L 508.86 295.85 L 509.29 295.92 L 509.95 296.45 L 510.82 297.22 L 511.26 297.32 L 511.48 297.18 L 511.92 296.52 L 513.01 294.6 L 514.1 293 L 514.54 292.83 L 514.76 293.22 L 515.2 295.31 L 516.51 303.59 L 517.6 307.63 L 518.04 308.5 L 518.26 308.61 L 518.48 308.53 L 518.92 308.04 L 520.23 306.01 L 520.45 305.91 L 520.67 306.07 L 520.88 306.71 L 521.32 308.99 L 522.2 313.97 L 522.63 314.87 L 523.29 315.48 L 524.38 316.12 L 525.26 316.71 L 525.91 317.44 L 527.01 319.14 L 528.32 321.23 L 530.94 324.55 L 531.38 324.71 L 531.6 324.66 L 532.04 324.07 L 533.57 320.98 L 534.01 320.98 L 534.88 321.26 L 536.41 321.83 L 536.85 321.81 L 537.29 321.32 L 537.94 319.92 L 538.82 317.87 L 540.79 314.52 L 541.22 314.33 L 541.66 314.51 L 542.32 315.23 L 543.63 316.92 L 544.07 317.17 L 544.5 317.1 L 544.94 316.74 L 545.6 315.85 L 546.69 314.29 L 547.13 313.91 L 548.22 313.49 L 548.66 313.43 L 548.88 313.5 L 549.31 314.21 L 549.97 316.08 L 551.28 320.4 L 551.94 322.65 L 552.38 323.34 L 552.6 323.32 L 553.03 322.83 L 553.69 321.41 L 554.56 319.37 L 556.31 316.57 L 556.53 316.45 L 556.75 316.48 L 556.97 316.88 L 557.41 318.54 L 558.72 324.71 L 559.81 329.05 L 560.25 329.91 L 560.47 329.96 L 560.69 329.67 L 561.12 328.27 L 562 323.88 L 562.66 320.27 L 564.19 310.28 L 564.62 308.93 L 565.28 307.72 L 566.81 305.37 L 567.69 303.21 L 569.43 298.6 L 570.31 297.07 L 572.5 293.7 L 573.15 292.54 L 573.37 292.38 L 573.59 292.47 L 573.81 292.99 L 574.25 295 L 576.87 310.79 L 577.09 311.26 L 577.31 311.17 L 577.53 310.11 L 577.96 305.77 L 580.15 278.85 L 581.24 272.14 L 581.68 270.62 L 581.9 270.29 L 582.12 270.34 L 582.34 270.93 L 582.78 273.31 L 584.09 282.24 L 585.18 287.88 L 585.62 288.99 L 585.84 289.04 L 586.06 288.86 L 586.49 288.04 L 589.55 280.37 L 589.99 279.82 L 590.21 279.73 L 590.43 279.81 L 590.87 280.6 L 591.52 282.86 L 591.96 285.07 L 592.4 289.4 L 593.49 301.93 L 594.58 311.24 L 595.02 313.89 L 595.68 316.12 L 596.55 317.98 L 597.43 319.85 L 598.52 323.13 L 600.71 329.58 L 600.93 329.67 L 601.15 329.34 L 601.58 327.62 L 602.46 323.66 L 602.68 323.36 L 602.9 323.47 L 603.33 324.35 L 604.64 328.22 L 604.86 328.45 L 605.08 328.42 L 605.3 328.12 L 605.74 326.94 L 607.05 322.42 L 607.93 321.1 L 608.58 320.34 L 609.24 319.92 L 609.67 319.98 L 610.11 320.51 L 610.77 321.97 L 612.08 325.32 L 612.52 326 L 612.96 326.21 L 613.39 326.04 L 614.05 325.36 L 615.14 323.67 L 616.24 322.11 L 617.55 320.43 L 618.64 319.11 L 619.3 318.59 L 619.73 318.41 L 620.17 318.48 L 620.61 318.99 L 621.48 320.24 L 621.92 320.34 L 622.8 320.14 L 623.89 319.9 L 624.11 319.94 L 624.33 320.23 L 624.76 321.46 L 626.73 328.44 L 627.39 330.12 L 627.61 330.38 L 627.83 330.41 L 628.05 330.18 L 628.48 329.16 L 629.58 326.07 L 630.45 325.19 L 631.11 324.79 L 631.54 324.71 L 631.98 324.93 L 632.64 325.73 L 633.95 327.65 L 634.61 328.12 L 635.92 328.67 L 636.79 329.09 L 637.23 329.4 L 637.67 330.07 L 639.2 333.32 L 639.42 333.43 L 639.64 333.31 L 640.07 332.22 L 640.73 329.41 L 641.39 326.61 L 641.82 325.57 L 642.04 325.47 L 642.26 325.61 L 642.7 326.35 L 643.57 328.18 L 643.79 328.42 L 644.23 328.45 L 644.88 328.21 L 645.54 327.75 L 645.98 327.3 L 646.2 326.71 L 646.63 324.54 L 648.6 312.65 L 651.45 297.56 L 651.88 296.16 L 652.1 295.86 L 652.32 295.93 L 652.54 296.55 L 652.98 299.09 L 654.94 315.07 L 655.82 322.52 L 656.26 324.98 L 656.48 325.67 L 656.69 325.91 L 656.91 325.68 L 657.13 325.03 L 657.57 322.69 L 658.44 315.73 L 659.76 304.04 L 660.85 293.1 L 661.51 288.65 L 662.6 282.78 L 663.26 280.46 L 664.13 278.79 L 664.79 277.97 L 665.22 277.77 L 665.44 277.9 L 665.66 278.31 L 666.1 279.8 L 666.97 284.25 L 667.41 288.04 L 668.5 298.89 L 669.38 305.01 L 669.6 305.75 L 669.82 305.88 L 670.03 305.46 L 670.47 303.43 L 673.53 284.04 L 673.75 283.5 L 673.97 283.34 L 674.19 283.44 L 674.63 284.04 L 675.28 285.6 L 675.72 287.14 L 676.16 289.9 L 678.13 304.41 L 679.44 312.38 L 680.31 316.06 L 681.19 319.23 L 681.63 320.35 L 682.06 320.91 L 682.28 320.91 L 682.5 320.49 L 682.94 318.73 L 683.59 315.6 L 683.81 314.91 L 684.25 314.48 L 685.12 314.21 L 685.78 313.98 L 686 313.83 L 686.22 313.45 L 686.66 311.98 L 687.97 306.68 L 688.41 306.22 L 689.06 305.92 L 689.28 305.91 L 689.5 306.1 L 689.94 307.19 L 691.47 312.27 L 692.56 314.8 L 693 315.49 L 693.44 315.83 L 694.97 316.1 L 695.84 316.09 L 696.28 315.51 L 697.81 312.41 L 698.03 312.39 L 698.47 312.78 L 699.12 313.98 L 699.78 315.11 L 700.21 315.38 L 700.43 315.25 L 700.87 314.48 L 702.18 310.97 L 703.5 306.82 L 703.71 306.48 L 703.93 306.36 L 704.15 306.47 L 704.59 307.32 L 705.46 310.22 L 706.12 312.02 L 706.34 312.31 L 706.56 312.37 L 706.78 312.21 L 707.21 311.4 L 708.09 308.85 L 708.74 307.22 L 709.18 306.81 L 709.4 306.95 L 709.84 308.04 L 710.49 310.85 L 711.37 314.53 L 711.81 315.36 L 712.02 315.25 L 712.24 314.52 L 712.68 311.68 L 713.56 304.83 L 714.87 298.72 L 715.3 297.22 L 715.74 296.38 L 715.96 296.28 L 716.18 296.47 L 716.62 297.64 L 717.49 301.52 L 719.24 309.35 L 719.46 309.37 L 719.46 309.37 " clip-path="url(#pb5a18c550f)" style="fill: none; stroke: #2ca02c; stroke-width: 1.65; stroke-linecap: square"/>
   </g>
   <g id="patch_21">
    <path d="M 417.66 389.64 L 417.66 215.22 " style="fill: none; stroke: #000000; stroke-width: 0.8; stroke-linejoin: miter; stroke-linecap: square"/>
   </g>
   <g id="patch_22">
    <path d="M 719.46 389.64 L 719.46 215.22 " style="fill: none; stroke: #000000; stroke-width: 0.8; stroke-linejoin: miter; stroke-linecap: square"/>
   </g>
   <g id="patch_23">
    <path d="M 417.66 389.64 L 719.46 389.64 " style="fill: none; stroke: #000000; stroke-width: 0.8; stroke-linejoin: miter; stroke-linecap: square"/>
   </g>
   <g id="patch_24">
    <path d="M 417.66 215.22 L 719.46 215.22 " style="fill: none; stroke: #000000; stroke-width: 0.8; stroke-linejoin: miter; stroke-linecap: square"/>
   </g>
   <g id="text_70">
    <text style="font-size: 11px; font-family: 'DejaVu Sans', 'Liberation Sans', sans-serif; text-anchor: end" x="371.99766" y="218.09793" transform="rotate(-0 371.99766 218.09793)">d)</text>
   </g>
   <g id="legend_4">
    <g id="patch_25">
     <path d="M 424.66 253.7 L 495.79 253.7 Q 497.79 253.7 497.79 251.7 L 497.79 222.22 Q 497.79 220.22 495.79 220.22 L 424.66 220.22 Q 422.66 220.22 422.66 222.22 L 422.66 251.7 Q 422.66 253.7 424.66 253.7 z" style="fill: #ffffff; opacity: 0.8; stroke: #cccccc; stroke-linejoin: miter"/>
    </g>
    <g id="line2d_119">
     <path d="M 426.66 228.32 L 436.66 228.32 L 446.66 228.32 " style="fill: none; stroke: #000000; stroke-width: 1.8; stroke-linecap: square"/>
    </g>
    <g id="text_71">
     <text style="font-size: 10px; font-family: 'DejaVu Sans', 'Liberation Sans', sans-serif; text-anchor: start" x="454.66" y="231.818438" transform="rotate(-0 454.66 231.818438)">Original</text>
    </g>
    <g id="line2d_120">
     <path d="M 426.66 243 L 436.66 243 L 446.66 243 " style="fill: none; stroke: #2ca02c; stroke-width: 1.8; stroke-linecap: square"/>
    </g>
    <g id="text_72">
     <g transform="translate(454.66 246.496563)">
      <text><tspan x="0" y="-0.578125" style="font-style: oblique; font-size: 10px; font-family: 'DejaVu Sans', 'Liberation Sans', sans-serif">p</tspan><tspan x="6.347656" y="-0.578125" style="font-size: 10px; font-family: 'DejaVu Sans', 'Liberation Sans', sans-serif">=39</tspan></text>
     </g>
    </g>
   </g>
  </g>
 </g>
 <defs>
  <clipPath id="p01cf69598c">
   <rect x="55.56" y="5.82" width="301.8" height="174.42"/>
  </clipPath>
  <clipPath id="pbef98081dc">
   <rect x="417.66" y="5.82" width="301.8" height="174.42"/>
  </clipPath>
  <clipPath id="pf24fb3e073">
   <rect x="55.56" y="215.22" width="301.8" height="174.42"/>
  </clipPath>
  <clipPath id="pb5a18c550f">
   <rect x="417.66" y="215.22" width="301.8" height="174.42"/>
  </clipPath>
 </defs>
</svg>

</body></html>
